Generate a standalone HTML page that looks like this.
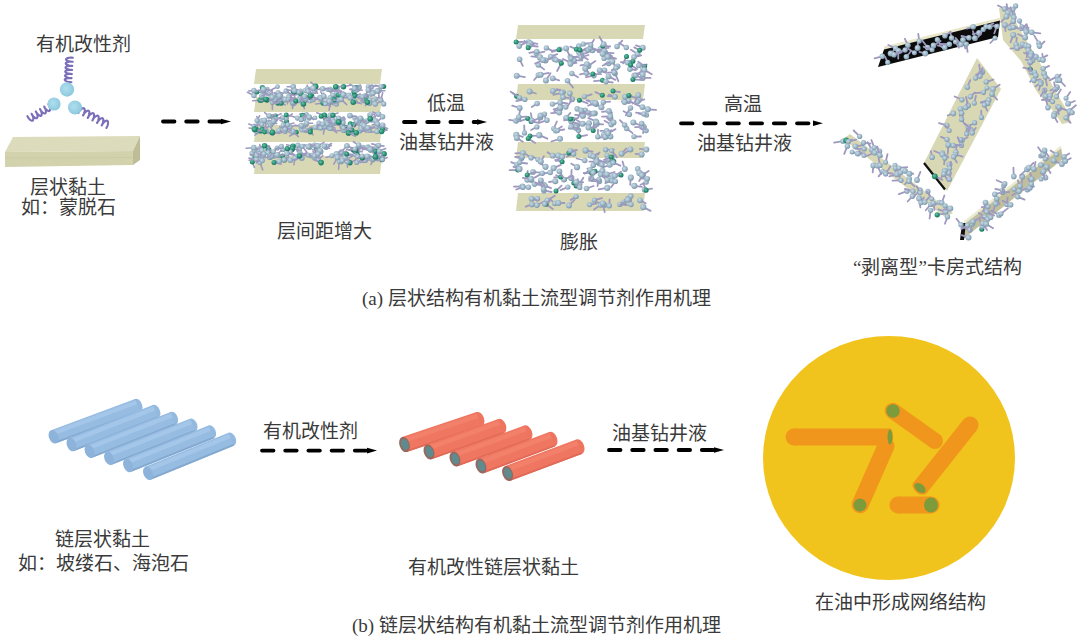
<!DOCTYPE html>
<html lang="zh-CN"><head><meta charset="utf-8"><title>有机黏土流型调节剂作用机理</title>
<style>html,body{margin:0;padding:0;background:#fff;}body{width:1080px;height:640px;overflow:hidden;font-family:"Liberation Serif",serif;}svg{display:block}</style>
</head><body><svg width="1080" height="640" viewBox="0 0 1080 640" font-family="Liberation Serif, serif"><defs>
<radialGradient id="gb" cx="0.4" cy="0.38" r="0.62"><stop offset="0" stop-color="#c8dde7"/><stop offset="0.6" stop-color="#9cb6c7"/><stop offset="1" stop-color="#7d95a9"/></radialGradient>
<radialGradient id="gt" cx="0.4" cy="0.38" r="0.62"><stop offset="0" stop-color="#6cc2a6"/><stop offset="0.6" stop-color="#279174"/><stop offset="1" stop-color="#1b705b"/></radialGradient>
<radialGradient id="gB" cx="0.42" cy="0.42" r="0.6"><stop offset="0" stop-color="#b0dfee"/><stop offset="1" stop-color="#8cc8de"/></radialGradient>
<linearGradient id="gBlue" x1="0" y1="-1" x2="0" y2="1" gradientUnits="objectBoundingBox"><stop offset="0" stop-color="#a9c9e8"/><stop offset="1" stop-color="#95b8dc"/></linearGradient>
</defs>
<path d="M71.4,82.2 L71.1,82.2 L70.4,82.1 L69.3,82.1 L68.0,81.8 L66.7,81.4 L65.7,80.9 L65.0,80.3 L64.7,79.8 L65.0,79.2 L65.8,78.7 L66.9,78.4 L68.2,78.1 L69.5,78.0 L70.7,78.0 L71.4,78.1 L71.6,78.1 L71.4,78.2 L70.6,78.1 L69.5,78.0 L68.3,77.7 L67.0,77.3 L65.9,76.8 L65.2,76.2 L65.0,75.7 L65.3,75.1 L66.0,74.6 L67.2,74.3 L68.5,74.0 L69.8,73.9 L70.9,73.9 L71.6,74.0 L71.9,74.0 L71.6,74.1 L70.9,74.0 L69.8,73.9 L68.5,73.6 L67.2,73.2 L66.2,72.7 L65.5,72.2 L65.2,71.6 L65.5,71.0 L66.3,70.6 L67.4,70.2 L68.7,70.0 L70.0,69.8 L71.2,69.8 L71.9,69.9 L72.1,70.0 L71.9,70.0 L71.1,70.0 L70.0,69.8 L68.8,69.5 L67.5,69.1 L66.4,68.6 L65.7,68.1 L65.5,67.5 L65.8,67.0 L66.5,66.5 L67.7,66.1 L69.0,65.9 L70.3,65.8 L71.4,65.7 L72.1,65.8 L72.4,65.9 L72.1,65.9 L71.4,65.9 L70.3,65.7 L69.0,65.5 L67.7,65.1 L66.7,64.6 L66.0,64.0 L65.7,63.4 L66.0,62.9 L66.8,62.4 L67.9,62.0 L69.2,61.8 L70.5,61.7 L71.7,61.7 L72.4,61.7 L72.6,61.8 L72.4,61.8 L71.6,61.8 L70.5,61.6 L69.3,61.4 L68.0,61.0 L66.9,60.5 L66.2,59.9 L66.0,59.3 L66.3,58.8 L67.0,58.3 L68.2,57.9 L69.5,57.7 L70.8,57.6 L71.9,57.6 L72.6,57.7 L72.9,57.7" fill="none" stroke="#7a6fb8" stroke-width="2.1" stroke-linejoin="round" stroke-linecap="round"/>
<path d="M48.4,104.2 L48.5,104.4 L48.9,105.0 L49.4,105.9 L49.8,107.1 L50.1,108.4 L50.1,109.5 L49.9,110.4 L49.5,111.0 L48.8,111.1 L47.9,110.8 L46.9,110.2 L46.0,109.3 L45.2,108.3 L44.6,107.5 L44.3,106.9 L44.2,106.6 L44.4,106.8 L44.7,107.4 L45.2,108.3 L45.6,109.5 L45.9,110.8 L45.9,111.9 L45.7,112.8 L45.3,113.4 L44.6,113.5 L43.7,113.2 L42.7,112.6 L41.8,111.7 L41.0,110.7 L40.4,109.9 L40.1,109.3 L40.0,109.0 L40.2,109.2 L40.5,109.8 L41.0,110.7 L41.4,111.9 L41.7,113.2 L41.7,114.3 L41.5,115.2 L41.1,115.8 L40.4,115.9 L39.5,115.6 L38.5,115.0 L37.6,114.1 L36.8,113.1 L36.2,112.3 L35.9,111.7 L35.8,111.4 L36.0,111.6 L36.3,112.2 L36.8,113.1 L37.2,114.3 L37.5,115.6 L37.5,116.7 L37.3,117.6 L36.9,118.2 L36.2,118.3 L35.3,118.0 L34.3,117.4 L33.4,116.5 L32.6,115.5 L32.0,114.7 L31.7,114.1 L31.6,113.8 L31.8,114.0 L32.1,114.6 L32.6,115.5 L33.0,116.7 L33.3,118.0 L33.3,119.1 L33.1,120.0 L32.7,120.6 L32.0,120.7 L31.1,120.4 L30.1,119.8 L29.2,118.9 L28.4,117.9 L27.9,117.0 L27.5,116.4 L27.4,116.2" fill="none" stroke="#7a6fb8" stroke-width="2.1" stroke-linejoin="round" stroke-linecap="round"/>
<path d="M78.4,113.0 L78.5,112.8 L78.9,112.1 L79.4,111.2 L80.2,110.1 L81.2,109.2 L82.2,108.5 L83.2,108.1 L83.9,108.3 L84.5,108.8 L84.7,109.8 L84.7,111.0 L84.4,112.4 L84.0,113.6 L83.6,114.7 L83.2,115.3 L83.1,115.5 L83.1,115.2 L83.5,114.6 L84.1,113.7 L84.9,112.6 L85.9,111.7 L86.9,111.0 L87.8,110.6 L88.6,110.8 L89.1,111.3 L89.4,112.3 L89.3,113.5 L89.1,114.9 L88.7,116.1 L88.3,117.2 L87.9,117.8 L87.7,118.0 L87.8,117.7 L88.1,117.1 L88.7,116.2 L89.6,115.1 L90.5,114.2 L91.6,113.5 L92.5,113.1 L93.3,113.3 L93.8,113.8 L94.0,114.8 L94.0,116.0 L93.8,117.4 L93.4,118.6 L92.9,119.7 L92.6,120.3 L92.4,120.5 L92.5,120.2 L92.8,119.6 L93.4,118.7 L94.2,117.6 L95.2,116.7 L96.2,116.0 L97.2,115.6 L97.9,115.8 L98.5,116.3 L98.7,117.3 L98.7,118.5 L98.4,119.9 L98.0,121.1 L97.6,122.2 L97.2,122.8 L97.1,123.0 L97.1,122.7 L97.5,122.1 L98.1,121.2 L98.9,120.1 L99.9,119.2 L100.9,118.5 L101.8,118.1 L102.6,118.3 L103.1,118.8 L103.4,119.8 L103.3,121.0 L103.1,122.4 L102.7,123.6 L102.3,124.7 L101.9,125.3 L101.7,125.5 L101.8,125.2 L102.1,124.6 L102.7,123.7 L103.6,122.6 L104.5,121.7 L105.6,121.0 L106.5,120.6 L107.3,120.8 L107.8,121.3 L108.0,122.3 L108.0,123.5 L107.8,124.9 L107.4,126.1 L106.9,127.1 L106.5,127.8 L106.4,128.0" fill="none" stroke="#7a6fb8" stroke-width="2.1" stroke-linejoin="round" stroke-linecap="round"/>
<circle cx="67" cy="89.5" r="7.2" fill="url(#gB)"/>
<circle cx="54" cy="104" r="6.6" fill="url(#gB)"/>
<circle cx="75" cy="107.5" r="7.0" fill="url(#gB)"/>
<polygon points="13,137 140,136 133,151 5,152" fill="#dcdcbc"/>
<polygon points="5,152 133,151 133,165 5,167" fill="#d2d2ad"/>
<polygon points="133,151 140,136 140,160 133,165" fill="#bdbd98"/>
<line x1="5" y1="158" x2="133" y2="157.5" stroke="#c9c9a4" stroke-width="0.8"/>
<line x1="163" y1="121.5" x2="221" y2="121.5" stroke="#000" stroke-width="3.8" stroke-linecap="round" stroke-dasharray="11.5 11.7"/>
<polygon points="221,118.7 231,121.5 221,124.3" fill="#000"/>
<line x1="404" y1="122" x2="477" y2="122" stroke="#000" stroke-width="3.8" stroke-linecap="round" stroke-dasharray="11.5 11.7"/>
<polygon points="477,119.2 487,122 477,124.8" fill="#000"/>
<line x1="681" y1="123.3" x2="813" y2="123.3" stroke="#000" stroke-width="3.8" stroke-linecap="round" stroke-dasharray="11.5 11.7"/>
<polygon points="813,120.5 823,123.3 813,126.1" fill="#000"/>
<line x1="262" y1="450.6" x2="367" y2="450.6" stroke="#000" stroke-width="3.8" stroke-linecap="round" stroke-dasharray="11.5 11.7"/>
<polygon points="367,447.8 377,450.6 367,453.40000000000003" fill="#000"/>
<line x1="609" y1="450" x2="714" y2="450" stroke="#000" stroke-width="3.8" stroke-linecap="round" stroke-dasharray="11.5 11.7"/>
<polygon points="714,447.2 724,450 714,452.8" fill="#000"/>
<polygon points="256,69 382,69 380,84 254,84" fill="#d8d8b4"/>
<polygon points="256,97 382,97 380,112 254,112" fill="#d8d8b4"/>
<polygon points="256,125 382,125 380,142 254,142" fill="#d8d8b4"/>
<polygon points="256,156 382,156 380,174 254,174" fill="#d8d8b4"/>
<line x1="311.7" y1="96.1" x2="305.1" y2="97.5" stroke="#9f99c0" stroke-width="1.6" stroke-linecap="round"/>
<circle cx="311.7" cy="96.1" r="2.7" fill="url(#gt)"/>
<line x1="319.6" y1="97.3" x2="323.9" y2="100.3" stroke="#9f99c0" stroke-width="1.6" stroke-linecap="round"/>
<circle cx="319.6" cy="97.3" r="2.6" fill="url(#gb)"/>
<line x1="343.5" y1="86.8" x2="350.2" y2="85.3" stroke="#9f99c0" stroke-width="1.6" stroke-linecap="round"/>
<circle cx="343.5" cy="86.8" r="2.7" fill="url(#gt)"/>
<line x1="254.0" y1="95.5" x2="247.4" y2="92.3" stroke="#9f99c0" stroke-width="1.6" stroke-linecap="round"/>
<circle cx="254.0" cy="95.5" r="2.7" fill="url(#gb)"/>
<line x1="330.0" y1="89.5" x2="336.4" y2="89.5" stroke="#9f99c0" stroke-width="1.6" stroke-linecap="round"/>
<circle cx="330.0" cy="89.5" r="2.7" fill="url(#gb)"/>
<line x1="383.7" y1="103.9" x2="382.2" y2="98.4" stroke="#9f99c0" stroke-width="1.6" stroke-linecap="round"/>
<circle cx="383.7" cy="103.9" r="2.6" fill="url(#gb)"/>
<line x1="261.3" y1="99.8" x2="268.7" y2="98.8" stroke="#9f99c0" stroke-width="1.6" stroke-linecap="round"/>
<circle cx="261.3" cy="99.8" r="2.9" fill="url(#gt)"/>
<line x1="279.7" y1="102.4" x2="285.3" y2="101.8" stroke="#9f99c0" stroke-width="1.6" stroke-linecap="round"/>
<circle cx="279.7" cy="102.4" r="2.7" fill="url(#gb)"/>
<line x1="296.5" y1="91.6" x2="301.9" y2="93.4" stroke="#9f99c0" stroke-width="1.6" stroke-linecap="round"/>
<circle cx="296.5" cy="91.6" r="2.5" fill="url(#gt)"/>
<line x1="259.9" y1="100.3" x2="252.7" y2="100.8" stroke="#9f99c0" stroke-width="1.6" stroke-linecap="round"/>
<circle cx="259.9" cy="100.3" r="2.5" fill="url(#gt)"/>
<line x1="337.0" y1="88.1" x2="330.4" y2="92.6" stroke="#9f99c0" stroke-width="1.6" stroke-linecap="round"/>
<circle cx="337.0" cy="88.1" r="2.8" fill="url(#gb)"/>
<line x1="383.7" y1="86.4" x2="378.3" y2="89.7" stroke="#9f99c0" stroke-width="1.6" stroke-linecap="round"/>
<circle cx="383.7" cy="86.4" r="2.5" fill="url(#gt)"/>
<line x1="332.6" y1="100.9" x2="327.5" y2="103.7" stroke="#9f99c0" stroke-width="1.6" stroke-linecap="round"/>
<circle cx="332.6" cy="100.9" r="2.7" fill="url(#gb)"/>
<line x1="301.1" y1="94.2" x2="293.5" y2="94.9" stroke="#9f99c0" stroke-width="1.6" stroke-linecap="round"/>
<circle cx="301.1" cy="94.2" r="2.7" fill="url(#gt)"/>
<line x1="272.3" y1="102.4" x2="272.4" y2="109.6" stroke="#9f99c0" stroke-width="1.6" stroke-linecap="round"/>
<circle cx="272.3" cy="102.4" r="2.5" fill="url(#gb)"/>
<line x1="277.9" y1="103.1" x2="273.7" y2="99.9" stroke="#9f99c0" stroke-width="1.6" stroke-linecap="round"/>
<circle cx="277.9" cy="103.1" r="2.6" fill="url(#gt)"/>
<line x1="379.1" y1="90.3" x2="378.8" y2="97.1" stroke="#9f99c0" stroke-width="1.6" stroke-linecap="round"/>
<circle cx="379.1" cy="90.3" r="2.8" fill="url(#gb)"/>
<line x1="275.2" y1="99.0" x2="268.3" y2="99.1" stroke="#9f99c0" stroke-width="1.6" stroke-linecap="round"/>
<circle cx="275.2" cy="99.0" r="2.7" fill="url(#gt)"/>
<line x1="280.0" y1="102.5" x2="285.2" y2="104.9" stroke="#9f99c0" stroke-width="1.6" stroke-linecap="round"/>
<circle cx="280.0" cy="102.5" r="2.6" fill="url(#gt)"/>
<line x1="289.2" y1="95.6" x2="294.5" y2="99.0" stroke="#9f99c0" stroke-width="1.6" stroke-linecap="round"/>
<circle cx="289.2" cy="95.6" r="2.5" fill="url(#gb)"/>
<line x1="348.7" y1="95.4" x2="343.3" y2="92.0" stroke="#9f99c0" stroke-width="1.6" stroke-linecap="round"/>
<circle cx="348.7" cy="95.4" r="2.9" fill="url(#gb)"/>
<line x1="293.2" y1="86.6" x2="287.2" y2="86.7" stroke="#9f99c0" stroke-width="1.6" stroke-linecap="round"/>
<circle cx="293.2" cy="86.6" r="2.8" fill="url(#gb)"/>
<line x1="261.9" y1="95.8" x2="267.7" y2="91.7" stroke="#9f99c0" stroke-width="1.6" stroke-linecap="round"/>
<circle cx="261.9" cy="95.8" r="2.8" fill="url(#gb)"/>
<line x1="372.8" y1="92.3" x2="377.9" y2="88.7" stroke="#9f99c0" stroke-width="1.6" stroke-linecap="round"/>
<circle cx="372.8" cy="92.3" r="2.8" fill="url(#gb)"/>
<line x1="366.0" y1="96.3" x2="360.9" y2="100.9" stroke="#9f99c0" stroke-width="1.6" stroke-linecap="round"/>
<circle cx="366.0" cy="96.3" r="2.7" fill="url(#gt)"/>
<line x1="336.4" y1="103.9" x2="335.4" y2="96.7" stroke="#9f99c0" stroke-width="1.6" stroke-linecap="round"/>
<circle cx="336.4" cy="103.9" r="2.6" fill="url(#gb)"/>
<line x1="310.1" y1="101.1" x2="305.2" y2="102.2" stroke="#9f99c0" stroke-width="1.6" stroke-linecap="round"/>
<circle cx="310.1" cy="101.1" r="2.4" fill="url(#gb)"/>
<line x1="266.9" y1="100.0" x2="260.8" y2="100.6" stroke="#9f99c0" stroke-width="1.6" stroke-linecap="round"/>
<circle cx="266.9" cy="100.0" r="2.8" fill="url(#gt)"/>
<line x1="332.8" y1="95.3" x2="329.2" y2="100.8" stroke="#9f99c0" stroke-width="1.6" stroke-linecap="round"/>
<circle cx="332.8" cy="95.3" r="2.9" fill="url(#gb)"/>
<line x1="305.4" y1="90.5" x2="307.3" y2="85.2" stroke="#9f99c0" stroke-width="1.6" stroke-linecap="round"/>
<circle cx="305.4" cy="90.5" r="2.8" fill="url(#gb)"/>
<line x1="281.0" y1="102.6" x2="273.4" y2="102.6" stroke="#9f99c0" stroke-width="1.6" stroke-linecap="round"/>
<circle cx="281.0" cy="102.6" r="2.8" fill="url(#gb)"/>
<line x1="377.4" y1="91.0" x2="384.9" y2="90.7" stroke="#9f99c0" stroke-width="1.6" stroke-linecap="round"/>
<circle cx="377.4" cy="91.0" r="2.9" fill="url(#gb)"/>
<line x1="320.6" y1="98.1" x2="323.9" y2="93.1" stroke="#9f99c0" stroke-width="1.6" stroke-linecap="round"/>
<circle cx="320.6" cy="98.1" r="2.7" fill="url(#gb)"/>
<line x1="288.7" y1="96.9" x2="287.4" y2="103.8" stroke="#9f99c0" stroke-width="1.6" stroke-linecap="round"/>
<circle cx="288.7" cy="96.9" r="2.6" fill="url(#gb)"/>
<line x1="336.6" y1="93.3" x2="341.5" y2="91.7" stroke="#9f99c0" stroke-width="1.6" stroke-linecap="round"/>
<circle cx="336.6" cy="93.3" r="2.5" fill="url(#gb)"/>
<line x1="310.9" y1="97.3" x2="313.4" y2="90.7" stroke="#9f99c0" stroke-width="1.6" stroke-linecap="round"/>
<circle cx="310.9" cy="97.3" r="2.9" fill="url(#gt)"/>
<line x1="314.7" y1="89.2" x2="320.4" y2="89.5" stroke="#9f99c0" stroke-width="1.6" stroke-linecap="round"/>
<circle cx="314.7" cy="89.2" r="2.4" fill="url(#gb)"/>
<line x1="323.2" y1="103.0" x2="315.6" y2="104.0" stroke="#9f99c0" stroke-width="1.6" stroke-linecap="round"/>
<circle cx="323.2" cy="103.0" r="2.8" fill="url(#gt)"/>
<line x1="375.1" y1="99.0" x2="379.8" y2="97.2" stroke="#9f99c0" stroke-width="1.6" stroke-linecap="round"/>
<circle cx="375.1" cy="99.0" r="2.8" fill="url(#gb)"/>
<line x1="338.2" y1="95.0" x2="333.8" y2="101.7" stroke="#9f99c0" stroke-width="1.6" stroke-linecap="round"/>
<circle cx="338.2" cy="95.0" r="2.6" fill="url(#gt)"/>
<line x1="366.3" y1="100.4" x2="370.7" y2="104.7" stroke="#9f99c0" stroke-width="1.6" stroke-linecap="round"/>
<circle cx="366.3" cy="100.4" r="2.5" fill="url(#gt)"/>
<line x1="292.9" y1="103.6" x2="292.5" y2="108.6" stroke="#9f99c0" stroke-width="1.6" stroke-linecap="round"/>
<circle cx="292.9" cy="103.6" r="2.8" fill="url(#gb)"/>
<line x1="256.9" y1="92.2" x2="264.3" y2="92.0" stroke="#9f99c0" stroke-width="1.6" stroke-linecap="round"/>
<circle cx="256.9" cy="92.2" r="2.4" fill="url(#gt)"/>
<line x1="357.6" y1="89.1" x2="349.9" y2="89.4" stroke="#9f99c0" stroke-width="1.6" stroke-linecap="round"/>
<circle cx="357.6" cy="89.1" r="2.9" fill="url(#gb)"/>
<line x1="341.5" y1="93.9" x2="335.1" y2="90.5" stroke="#9f99c0" stroke-width="1.6" stroke-linecap="round"/>
<circle cx="341.5" cy="93.9" r="2.7" fill="url(#gb)"/>
<line x1="325.8" y1="101.0" x2="319.1" y2="100.8" stroke="#9f99c0" stroke-width="1.6" stroke-linecap="round"/>
<circle cx="325.8" cy="101.0" r="2.8" fill="url(#gb)"/>
<line x1="302.3" y1="101.2" x2="304.4" y2="108.8" stroke="#9f99c0" stroke-width="1.6" stroke-linecap="round"/>
<circle cx="302.3" cy="101.2" r="2.8" fill="url(#gb)"/>
<line x1="327.6" y1="89.6" x2="319.8" y2="88.6" stroke="#9f99c0" stroke-width="1.6" stroke-linecap="round"/>
<circle cx="327.6" cy="89.6" r="2.4" fill="url(#gb)"/>
<line x1="304.9" y1="100.4" x2="311.8" y2="96.8" stroke="#9f99c0" stroke-width="1.6" stroke-linecap="round"/>
<circle cx="304.9" cy="100.4" r="2.5" fill="url(#gb)"/>
<line x1="373.5" y1="100.4" x2="367.2" y2="100.6" stroke="#9f99c0" stroke-width="1.6" stroke-linecap="round"/>
<circle cx="373.5" cy="100.4" r="2.5" fill="url(#gb)"/>
<line x1="370.9" y1="94.6" x2="365.1" y2="95.1" stroke="#9f99c0" stroke-width="1.6" stroke-linecap="round"/>
<circle cx="370.9" cy="94.6" r="2.4" fill="url(#gb)"/>
<line x1="381.0" y1="86.6" x2="375.1" y2="85.3" stroke="#9f99c0" stroke-width="1.6" stroke-linecap="round"/>
<circle cx="381.0" cy="86.6" r="2.6" fill="url(#gb)"/>
<line x1="265.8" y1="99.2" x2="273.2" y2="101.1" stroke="#9f99c0" stroke-width="1.6" stroke-linecap="round"/>
<circle cx="265.8" cy="99.2" r="2.8" fill="url(#gt)"/>
<line x1="335.6" y1="100.9" x2="329.1" y2="99.3" stroke="#9f99c0" stroke-width="1.6" stroke-linecap="round"/>
<circle cx="335.6" cy="100.9" r="2.8" fill="url(#gb)"/>
<line x1="280.5" y1="95.8" x2="273.5" y2="98.1" stroke="#9f99c0" stroke-width="1.6" stroke-linecap="round"/>
<circle cx="280.5" cy="95.8" r="2.8" fill="url(#gb)"/>
<line x1="293.7" y1="91.7" x2="295.2" y2="99.2" stroke="#9f99c0" stroke-width="1.6" stroke-linecap="round"/>
<circle cx="293.7" cy="91.7" r="2.9" fill="url(#gt)"/>
<line x1="283.6" y1="99.1" x2="277.0" y2="99.6" stroke="#9f99c0" stroke-width="1.6" stroke-linecap="round"/>
<circle cx="283.6" cy="99.1" r="2.9" fill="url(#gb)"/>
<line x1="278.5" y1="97.3" x2="283.5" y2="100.8" stroke="#9f99c0" stroke-width="1.6" stroke-linecap="round"/>
<circle cx="278.5" cy="97.3" r="2.7" fill="url(#gb)"/>
<line x1="299.7" y1="98.7" x2="295.5" y2="104.9" stroke="#9f99c0" stroke-width="1.6" stroke-linecap="round"/>
<circle cx="299.7" cy="98.7" r="2.9" fill="url(#gb)"/>
<line x1="315.6" y1="86.4" x2="310.8" y2="82.2" stroke="#9f99c0" stroke-width="1.6" stroke-linecap="round"/>
<circle cx="315.6" cy="86.4" r="2.9" fill="url(#gt)"/>
<line x1="267.2" y1="89.1" x2="271.7" y2="91.6" stroke="#9f99c0" stroke-width="1.6" stroke-linecap="round"/>
<circle cx="267.2" cy="89.1" r="2.4" fill="url(#gb)"/>
<line x1="313.0" y1="99.8" x2="318.6" y2="99.3" stroke="#9f99c0" stroke-width="1.6" stroke-linecap="round"/>
<circle cx="313.0" cy="99.8" r="2.6" fill="url(#gb)"/>
<line x1="335.7" y1="86.7" x2="341.9" y2="86.4" stroke="#9f99c0" stroke-width="1.6" stroke-linecap="round"/>
<circle cx="335.7" cy="86.7" r="2.8" fill="url(#gt)"/>
<line x1="273.8" y1="95.2" x2="266.7" y2="92.5" stroke="#9f99c0" stroke-width="1.6" stroke-linecap="round"/>
<circle cx="273.8" cy="95.2" r="2.8" fill="url(#gb)"/>
<line x1="305.4" y1="96.8" x2="312.6" y2="99.6" stroke="#9f99c0" stroke-width="1.6" stroke-linecap="round"/>
<circle cx="305.4" cy="96.8" r="2.5" fill="url(#gb)"/>
<line x1="354.7" y1="100.7" x2="361.3" y2="103.9" stroke="#9f99c0" stroke-width="1.6" stroke-linecap="round"/>
<circle cx="354.7" cy="100.7" r="2.7" fill="url(#gb)"/>
<line x1="305.6" y1="99.0" x2="313.0" y2="97.2" stroke="#9f99c0" stroke-width="1.6" stroke-linecap="round"/>
<circle cx="305.6" cy="99.0" r="2.5" fill="url(#gb)"/>
<line x1="371.2" y1="86.9" x2="377.7" y2="85.6" stroke="#9f99c0" stroke-width="1.6" stroke-linecap="round"/>
<circle cx="371.2" cy="86.9" r="2.7" fill="url(#gb)"/>
<line x1="303.4" y1="104.0" x2="301.0" y2="96.4" stroke="#9f99c0" stroke-width="1.6" stroke-linecap="round"/>
<circle cx="303.4" cy="104.0" r="2.8" fill="url(#gt)"/>
<line x1="333.2" y1="99.3" x2="340.2" y2="99.3" stroke="#9f99c0" stroke-width="1.6" stroke-linecap="round"/>
<circle cx="333.2" cy="99.3" r="2.8" fill="url(#gt)"/>
<line x1="286.1" y1="91.0" x2="292.9" y2="95.2" stroke="#9f99c0" stroke-width="1.6" stroke-linecap="round"/>
<circle cx="286.1" cy="91.0" r="2.7" fill="url(#gb)"/>
<line x1="358.9" y1="87.4" x2="352.8" y2="88.2" stroke="#9f99c0" stroke-width="1.6" stroke-linecap="round"/>
<circle cx="358.9" cy="87.4" r="2.9" fill="url(#gb)"/>
<line x1="364.9" y1="95.8" x2="370.6" y2="99.1" stroke="#9f99c0" stroke-width="1.6" stroke-linecap="round"/>
<circle cx="364.9" cy="95.8" r="2.6" fill="url(#gb)"/>
<line x1="300.3" y1="91.1" x2="293.6" y2="88.5" stroke="#9f99c0" stroke-width="1.6" stroke-linecap="round"/>
<circle cx="300.3" cy="91.1" r="2.5" fill="url(#gb)"/>
<line x1="253.8" y1="90.4" x2="248.7" y2="91.0" stroke="#9f99c0" stroke-width="1.6" stroke-linecap="round"/>
<circle cx="253.8" cy="90.4" r="2.7" fill="url(#gb)"/>
<line x1="304.5" y1="96.5" x2="302.1" y2="101.6" stroke="#9f99c0" stroke-width="1.6" stroke-linecap="round"/>
<circle cx="304.5" cy="96.5" r="2.8" fill="url(#gb)"/>
<line x1="285.1" y1="99.6" x2="279.6" y2="96.4" stroke="#9f99c0" stroke-width="1.6" stroke-linecap="round"/>
<circle cx="285.1" cy="99.6" r="2.8" fill="url(#gb)"/>
<line x1="359.8" y1="96.9" x2="365.0" y2="96.6" stroke="#9f99c0" stroke-width="1.6" stroke-linecap="round"/>
<circle cx="359.8" cy="96.9" r="2.5" fill="url(#gb)"/>
<line x1="268.4" y1="94.0" x2="261.9" y2="95.8" stroke="#9f99c0" stroke-width="1.6" stroke-linecap="round"/>
<circle cx="268.4" cy="94.0" r="2.5" fill="url(#gb)"/>
<line x1="354.7" y1="95.6" x2="360.2" y2="93.9" stroke="#9f99c0" stroke-width="1.6" stroke-linecap="round"/>
<circle cx="354.7" cy="95.6" r="2.8" fill="url(#gt)"/>
<line x1="369.8" y1="100.1" x2="365.4" y2="105.6" stroke="#9f99c0" stroke-width="1.6" stroke-linecap="round"/>
<circle cx="369.8" cy="100.1" r="2.5" fill="url(#gb)"/>
<line x1="330.1" y1="97.4" x2="333.0" y2="104.8" stroke="#9f99c0" stroke-width="1.6" stroke-linecap="round"/>
<circle cx="330.1" cy="97.4" r="2.5" fill="url(#gb)"/>
<line x1="368.0" y1="86.7" x2="372.9" y2="85.3" stroke="#9f99c0" stroke-width="1.6" stroke-linecap="round"/>
<circle cx="368.0" cy="86.7" r="2.4" fill="url(#gb)"/>
<line x1="288.7" y1="99.6" x2="293.0" y2="106.3" stroke="#9f99c0" stroke-width="1.6" stroke-linecap="round"/>
<circle cx="288.7" cy="99.6" r="2.5" fill="url(#gb)"/>
<line x1="298.7" y1="92.1" x2="293.8" y2="90.0" stroke="#9f99c0" stroke-width="1.6" stroke-linecap="round"/>
<circle cx="298.7" cy="92.1" r="2.4" fill="url(#gb)"/>
<line x1="334.3" y1="99.8" x2="339.5" y2="101.4" stroke="#9f99c0" stroke-width="1.6" stroke-linecap="round"/>
<circle cx="334.3" cy="99.8" r="2.6" fill="url(#gt)"/>
<line x1="362.4" y1="96.7" x2="357.1" y2="97.2" stroke="#9f99c0" stroke-width="1.6" stroke-linecap="round"/>
<circle cx="362.4" cy="96.7" r="2.6" fill="url(#gb)"/>
<line x1="262.4" y1="87.5" x2="269.3" y2="90.3" stroke="#9f99c0" stroke-width="1.6" stroke-linecap="round"/>
<circle cx="262.4" cy="87.5" r="2.6" fill="url(#gt)"/>
<line x1="292.9" y1="102.4" x2="290.5" y2="95.5" stroke="#9f99c0" stroke-width="1.6" stroke-linecap="round"/>
<circle cx="292.9" cy="102.4" r="2.6" fill="url(#gb)"/>
<line x1="368.4" y1="89.9" x2="365.6" y2="95.2" stroke="#9f99c0" stroke-width="1.6" stroke-linecap="round"/>
<circle cx="368.4" cy="89.9" r="2.9" fill="url(#gb)"/>
<line x1="330.5" y1="102.2" x2="329.1" y2="110.1" stroke="#9f99c0" stroke-width="1.6" stroke-linecap="round"/>
<circle cx="330.5" cy="102.2" r="2.7" fill="url(#gb)"/>
<line x1="281.2" y1="103.4" x2="273.8" y2="102.7" stroke="#9f99c0" stroke-width="1.6" stroke-linecap="round"/>
<circle cx="281.2" cy="103.4" r="2.4" fill="url(#gt)"/>
<line x1="341.4" y1="96.5" x2="340.9" y2="90.4" stroke="#9f99c0" stroke-width="1.6" stroke-linecap="round"/>
<circle cx="341.4" cy="96.5" r="2.6" fill="url(#gt)"/>
<line x1="330.0" y1="89.2" x2="334.6" y2="91.4" stroke="#9f99c0" stroke-width="1.6" stroke-linecap="round"/>
<circle cx="330.0" cy="89.2" r="2.5" fill="url(#gb)"/>
<line x1="323.8" y1="96.2" x2="320.8" y2="92.0" stroke="#9f99c0" stroke-width="1.6" stroke-linecap="round"/>
<circle cx="323.8" cy="96.2" r="2.8" fill="url(#gb)"/>
<line x1="356.0" y1="87.5" x2="349.9" y2="84.3" stroke="#9f99c0" stroke-width="1.6" stroke-linecap="round"/>
<circle cx="356.0" cy="87.5" r="2.4" fill="url(#gt)"/>
<line x1="350.4" y1="97.7" x2="344.4" y2="97.8" stroke="#9f99c0" stroke-width="1.6" stroke-linecap="round"/>
<circle cx="350.4" cy="97.7" r="2.9" fill="url(#gb)"/>
<line x1="298.3" y1="100.5" x2="291.1" y2="100.6" stroke="#9f99c0" stroke-width="1.6" stroke-linecap="round"/>
<circle cx="298.3" cy="100.5" r="2.7" fill="url(#gb)"/>
<line x1="372.8" y1="93.4" x2="369.1" y2="87.0" stroke="#9f99c0" stroke-width="1.6" stroke-linecap="round"/>
<circle cx="372.8" cy="93.4" r="2.8" fill="url(#gb)"/>
<line x1="369.3" y1="103.2" x2="362.0" y2="102.1" stroke="#9f99c0" stroke-width="1.6" stroke-linecap="round"/>
<circle cx="369.3" cy="103.2" r="2.8" fill="url(#gb)"/>
<line x1="307.5" y1="88.6" x2="313.0" y2="88.3" stroke="#9f99c0" stroke-width="1.6" stroke-linecap="round"/>
<circle cx="307.5" cy="88.6" r="2.6" fill="url(#gb)"/>
<line x1="308.1" y1="91.3" x2="313.1" y2="93.2" stroke="#9f99c0" stroke-width="1.6" stroke-linecap="round"/>
<circle cx="308.1" cy="91.3" r="2.6" fill="url(#gb)"/>
<line x1="354.4" y1="89.2" x2="360.6" y2="85.2" stroke="#9f99c0" stroke-width="1.6" stroke-linecap="round"/>
<circle cx="354.4" cy="89.2" r="2.6" fill="url(#gb)"/>
<line x1="278.1" y1="92.5" x2="283.6" y2="93.1" stroke="#9f99c0" stroke-width="1.6" stroke-linecap="round"/>
<circle cx="278.1" cy="92.5" r="2.5" fill="url(#gb)"/>
<line x1="274.8" y1="99.6" x2="280.4" y2="102.2" stroke="#9f99c0" stroke-width="1.6" stroke-linecap="round"/>
<circle cx="274.8" cy="99.6" r="2.6" fill="url(#gb)"/>
<line x1="339.2" y1="99.9" x2="333.8" y2="100.5" stroke="#9f99c0" stroke-width="1.6" stroke-linecap="round"/>
<circle cx="339.2" cy="99.9" r="2.5" fill="url(#gb)"/>
<line x1="380.8" y1="100.3" x2="382.7" y2="92.7" stroke="#9f99c0" stroke-width="1.6" stroke-linecap="round"/>
<circle cx="380.8" cy="100.3" r="2.4" fill="url(#gb)"/>
<line x1="367.4" y1="102.3" x2="362.1" y2="100.9" stroke="#9f99c0" stroke-width="1.6" stroke-linecap="round"/>
<circle cx="367.4" cy="102.3" r="2.7" fill="url(#gt)"/>
<line x1="294.5" y1="90.7" x2="286.5" y2="89.9" stroke="#9f99c0" stroke-width="1.6" stroke-linecap="round"/>
<circle cx="294.5" cy="90.7" r="2.7" fill="url(#gb)"/>
<line x1="322.6" y1="88.7" x2="330.1" y2="88.8" stroke="#9f99c0" stroke-width="1.6" stroke-linecap="round"/>
<circle cx="322.6" cy="88.7" r="2.8" fill="url(#gb)"/>
<line x1="262.9" y1="90.9" x2="268.1" y2="94.5" stroke="#9f99c0" stroke-width="1.6" stroke-linecap="round"/>
<circle cx="262.9" cy="90.9" r="2.6" fill="url(#gb)"/>
<line x1="329.4" y1="101.4" x2="324.2" y2="102.0" stroke="#9f99c0" stroke-width="1.6" stroke-linecap="round"/>
<circle cx="329.4" cy="101.4" r="2.9" fill="url(#gb)"/>
<line x1="279.5" y1="95.8" x2="274.4" y2="92.7" stroke="#9f99c0" stroke-width="1.6" stroke-linecap="round"/>
<circle cx="279.5" cy="95.8" r="2.9" fill="url(#gb)"/>
<line x1="325.4" y1="104.0" x2="330.4" y2="106.2" stroke="#9f99c0" stroke-width="1.6" stroke-linecap="round"/>
<circle cx="325.4" cy="104.0" r="2.4" fill="url(#gb)"/>
<line x1="341.2" y1="99.4" x2="346.7" y2="104.7" stroke="#9f99c0" stroke-width="1.6" stroke-linecap="round"/>
<circle cx="341.2" cy="99.4" r="2.6" fill="url(#gb)"/>
<line x1="314.7" y1="91.3" x2="308.2" y2="88.3" stroke="#9f99c0" stroke-width="1.6" stroke-linecap="round"/>
<circle cx="314.7" cy="91.3" r="2.8" fill="url(#gb)"/>
<line x1="272.1" y1="97.3" x2="272.1" y2="90.0" stroke="#9f99c0" stroke-width="1.6" stroke-linecap="round"/>
<circle cx="272.1" cy="97.3" r="2.9" fill="url(#gb)"/>
<line x1="263.5" y1="89.4" x2="256.9" y2="90.8" stroke="#9f99c0" stroke-width="1.6" stroke-linecap="round"/>
<circle cx="263.5" cy="89.4" r="2.9" fill="url(#gb)"/>
<line x1="295.8" y1="100.9" x2="289.0" y2="99.9" stroke="#9f99c0" stroke-width="1.6" stroke-linecap="round"/>
<circle cx="295.8" cy="100.9" r="2.5" fill="url(#gt)"/>
<line x1="277.5" y1="86.7" x2="270.4" y2="90.3" stroke="#9f99c0" stroke-width="1.6" stroke-linecap="round"/>
<circle cx="277.5" cy="86.7" r="2.4" fill="url(#gb)"/>
<line x1="353.8" y1="92.1" x2="358.8" y2="89.7" stroke="#9f99c0" stroke-width="1.6" stroke-linecap="round"/>
<circle cx="353.8" cy="92.1" r="2.5" fill="url(#gt)"/>
<line x1="343.3" y1="94.7" x2="338.4" y2="89.9" stroke="#9f99c0" stroke-width="1.6" stroke-linecap="round"/>
<circle cx="343.3" cy="94.7" r="2.8" fill="url(#gb)"/>
<line x1="356.1" y1="90.4" x2="350.6" y2="89.4" stroke="#9f99c0" stroke-width="1.6" stroke-linecap="round"/>
<circle cx="356.1" cy="90.4" r="2.5" fill="url(#gb)"/>
<line x1="310.2" y1="96.0" x2="316.7" y2="98.3" stroke="#9f99c0" stroke-width="1.6" stroke-linecap="round"/>
<circle cx="310.2" cy="96.0" r="2.8" fill="url(#gt)"/>
<line x1="353.2" y1="102.3" x2="359.8" y2="103.2" stroke="#9f99c0" stroke-width="1.6" stroke-linecap="round"/>
<circle cx="353.2" cy="102.3" r="2.7" fill="url(#gt)"/>
<line x1="375.2" y1="104.0" x2="379.9" y2="102.0" stroke="#9f99c0" stroke-width="1.6" stroke-linecap="round"/>
<circle cx="375.2" cy="104.0" r="2.7" fill="url(#gb)"/>
<line x1="354.5" y1="88.5" x2="362.1" y2="90.3" stroke="#9f99c0" stroke-width="1.6" stroke-linecap="round"/>
<circle cx="354.5" cy="88.5" r="2.6" fill="url(#gb)"/>
<line x1="313.1" y1="88.2" x2="317.5" y2="93.2" stroke="#9f99c0" stroke-width="1.6" stroke-linecap="round"/>
<circle cx="313.1" cy="88.2" r="2.9" fill="url(#gb)"/>
<line x1="326.0" y1="119.0" x2="332.8" y2="118.7" stroke="#9f99c0" stroke-width="1.6" stroke-linecap="round"/>
<circle cx="326.0" cy="119.0" r="2.8" fill="url(#gt)"/>
<line x1="360.9" y1="119.5" x2="361.3" y2="127.0" stroke="#9f99c0" stroke-width="1.6" stroke-linecap="round"/>
<circle cx="360.9" cy="119.5" r="2.7" fill="url(#gt)"/>
<line x1="324.3" y1="115.4" x2="316.8" y2="112.8" stroke="#9f99c0" stroke-width="1.6" stroke-linecap="round"/>
<circle cx="324.3" cy="115.4" r="2.9" fill="url(#gt)"/>
<line x1="351.8" y1="130.1" x2="346.3" y2="125.3" stroke="#9f99c0" stroke-width="1.6" stroke-linecap="round"/>
<circle cx="351.8" cy="130.1" r="2.7" fill="url(#gt)"/>
<line x1="306.4" y1="114.6" x2="299.8" y2="114.1" stroke="#9f99c0" stroke-width="1.6" stroke-linecap="round"/>
<circle cx="306.4" cy="114.6" r="2.5" fill="url(#gb)"/>
<line x1="327.0" y1="120.3" x2="332.3" y2="121.6" stroke="#9f99c0" stroke-width="1.6" stroke-linecap="round"/>
<circle cx="327.0" cy="120.3" r="2.7" fill="url(#gb)"/>
<line x1="331.2" y1="122.9" x2="338.8" y2="125.3" stroke="#9f99c0" stroke-width="1.6" stroke-linecap="round"/>
<circle cx="331.2" cy="122.9" r="2.6" fill="url(#gb)"/>
<line x1="364.9" y1="121.8" x2="359.1" y2="118.7" stroke="#9f99c0" stroke-width="1.6" stroke-linecap="round"/>
<circle cx="364.9" cy="121.8" r="2.7" fill="url(#gb)"/>
<line x1="371.4" y1="120.1" x2="378.3" y2="122.1" stroke="#9f99c0" stroke-width="1.6" stroke-linecap="round"/>
<circle cx="371.4" cy="120.1" r="2.7" fill="url(#gb)"/>
<line x1="330.3" y1="115.3" x2="337.9" y2="112.9" stroke="#9f99c0" stroke-width="1.6" stroke-linecap="round"/>
<circle cx="330.3" cy="115.3" r="2.8" fill="url(#gb)"/>
<line x1="265.9" y1="131.3" x2="272.8" y2="135.3" stroke="#9f99c0" stroke-width="1.6" stroke-linecap="round"/>
<circle cx="265.9" cy="131.3" r="2.8" fill="url(#gb)"/>
<line x1="367.0" y1="121.0" x2="360.7" y2="123.2" stroke="#9f99c0" stroke-width="1.6" stroke-linecap="round"/>
<circle cx="367.0" cy="121.0" r="2.8" fill="url(#gb)"/>
<line x1="265.0" y1="129.1" x2="269.9" y2="125.7" stroke="#9f99c0" stroke-width="1.6" stroke-linecap="round"/>
<circle cx="265.0" cy="129.1" r="2.5" fill="url(#gb)"/>
<line x1="260.3" y1="131.0" x2="254.9" y2="135.1" stroke="#9f99c0" stroke-width="1.6" stroke-linecap="round"/>
<circle cx="260.3" cy="131.0" r="2.6" fill="url(#gt)"/>
<line x1="256.1" y1="131.1" x2="262.8" y2="128.0" stroke="#9f99c0" stroke-width="1.6" stroke-linecap="round"/>
<circle cx="256.1" cy="131.1" r="2.8" fill="url(#gb)"/>
<line x1="278.8" y1="130.3" x2="285.8" y2="133.1" stroke="#9f99c0" stroke-width="1.6" stroke-linecap="round"/>
<circle cx="278.8" cy="130.3" r="2.6" fill="url(#gb)"/>
<line x1="254.1" y1="126.1" x2="248.8" y2="124.0" stroke="#9f99c0" stroke-width="1.6" stroke-linecap="round"/>
<circle cx="254.1" cy="126.1" r="2.7" fill="url(#gb)"/>
<line x1="380.9" y1="126.4" x2="386.2" y2="129.6" stroke="#9f99c0" stroke-width="1.6" stroke-linecap="round"/>
<circle cx="380.9" cy="126.4" r="2.5" fill="url(#gb)"/>
<line x1="296.2" y1="132.2" x2="289.7" y2="136.0" stroke="#9f99c0" stroke-width="1.6" stroke-linecap="round"/>
<circle cx="296.2" cy="132.2" r="2.5" fill="url(#gt)"/>
<line x1="343.2" y1="119.1" x2="337.4" y2="119.1" stroke="#9f99c0" stroke-width="1.6" stroke-linecap="round"/>
<circle cx="343.2" cy="119.1" r="2.5" fill="url(#gb)"/>
<line x1="321.2" y1="116.2" x2="326.3" y2="118.8" stroke="#9f99c0" stroke-width="1.6" stroke-linecap="round"/>
<circle cx="321.2" cy="116.2" r="2.5" fill="url(#gt)"/>
<line x1="340.1" y1="122.8" x2="333.4" y2="122.5" stroke="#9f99c0" stroke-width="1.6" stroke-linecap="round"/>
<circle cx="340.1" cy="122.8" r="2.4" fill="url(#gb)"/>
<line x1="285.1" y1="129.3" x2="289.7" y2="132.3" stroke="#9f99c0" stroke-width="1.6" stroke-linecap="round"/>
<circle cx="285.1" cy="129.3" r="2.5" fill="url(#gb)"/>
<line x1="255.8" y1="129.0" x2="249.1" y2="128.0" stroke="#9f99c0" stroke-width="1.6" stroke-linecap="round"/>
<circle cx="255.8" cy="129.0" r="2.9" fill="url(#gt)"/>
<line x1="369.7" y1="115.1" x2="374.7" y2="114.1" stroke="#9f99c0" stroke-width="1.6" stroke-linecap="round"/>
<circle cx="369.7" cy="115.1" r="2.6" fill="url(#gb)"/>
<line x1="361.2" y1="126.1" x2="360.9" y2="119.3" stroke="#9f99c0" stroke-width="1.6" stroke-linecap="round"/>
<circle cx="361.2" cy="126.1" r="2.7" fill="url(#gb)"/>
<line x1="266.8" y1="122.3" x2="260.0" y2="120.2" stroke="#9f99c0" stroke-width="1.6" stroke-linecap="round"/>
<circle cx="266.8" cy="122.3" r="2.5" fill="url(#gb)"/>
<line x1="286.3" y1="124.3" x2="281.8" y2="120.9" stroke="#9f99c0" stroke-width="1.6" stroke-linecap="round"/>
<circle cx="286.3" cy="124.3" r="2.5" fill="url(#gb)"/>
<line x1="258.9" y1="122.5" x2="255.8" y2="128.6" stroke="#9f99c0" stroke-width="1.6" stroke-linecap="round"/>
<circle cx="258.9" cy="122.5" r="2.7" fill="url(#gb)"/>
<line x1="318.5" y1="127.7" x2="323.9" y2="128.8" stroke="#9f99c0" stroke-width="1.6" stroke-linecap="round"/>
<circle cx="318.5" cy="127.7" r="2.5" fill="url(#gb)"/>
<line x1="328.5" y1="127.7" x2="335.2" y2="130.1" stroke="#9f99c0" stroke-width="1.6" stroke-linecap="round"/>
<circle cx="328.5" cy="127.7" r="2.6" fill="url(#gb)"/>
<line x1="349.5" y1="128.8" x2="342.9" y2="128.9" stroke="#9f99c0" stroke-width="1.6" stroke-linecap="round"/>
<circle cx="349.5" cy="128.8" r="2.7" fill="url(#gb)"/>
<line x1="284.8" y1="123.4" x2="279.9" y2="120.1" stroke="#9f99c0" stroke-width="1.6" stroke-linecap="round"/>
<circle cx="284.8" cy="123.4" r="2.6" fill="url(#gb)"/>
<line x1="344.2" y1="127.4" x2="348.9" y2="132.3" stroke="#9f99c0" stroke-width="1.6" stroke-linecap="round"/>
<circle cx="344.2" cy="127.4" r="2.8" fill="url(#gt)"/>
<line x1="350.3" y1="123.9" x2="356.9" y2="124.1" stroke="#9f99c0" stroke-width="1.6" stroke-linecap="round"/>
<circle cx="350.3" cy="123.9" r="2.6" fill="url(#gt)"/>
<line x1="325.4" y1="123.0" x2="332.4" y2="121.7" stroke="#9f99c0" stroke-width="1.6" stroke-linecap="round"/>
<circle cx="325.4" cy="123.0" r="2.7" fill="url(#gb)"/>
<line x1="332.8" y1="119.6" x2="327.2" y2="120.2" stroke="#9f99c0" stroke-width="1.6" stroke-linecap="round"/>
<circle cx="332.8" cy="119.6" r="2.4" fill="url(#gb)"/>
<line x1="376.9" y1="131.5" x2="371.8" y2="132.1" stroke="#9f99c0" stroke-width="1.6" stroke-linecap="round"/>
<circle cx="376.9" cy="131.5" r="2.7" fill="url(#gb)"/>
<line x1="343.7" y1="130.4" x2="336.2" y2="130.8" stroke="#9f99c0" stroke-width="1.6" stroke-linecap="round"/>
<circle cx="343.7" cy="130.4" r="2.6" fill="url(#gb)"/>
<line x1="355.1" y1="118.1" x2="349.1" y2="115.9" stroke="#9f99c0" stroke-width="1.6" stroke-linecap="round"/>
<circle cx="355.1" cy="118.1" r="2.8" fill="url(#gb)"/>
<line x1="330.4" y1="128.4" x2="336.7" y2="132.7" stroke="#9f99c0" stroke-width="1.6" stroke-linecap="round"/>
<circle cx="330.4" cy="128.4" r="2.7" fill="url(#gb)"/>
<line x1="302.6" y1="115.4" x2="299.3" y2="119.2" stroke="#9f99c0" stroke-width="1.6" stroke-linecap="round"/>
<circle cx="302.6" cy="115.4" r="2.5" fill="url(#gt)"/>
<line x1="286.6" y1="121.5" x2="285.3" y2="115.5" stroke="#9f99c0" stroke-width="1.6" stroke-linecap="round"/>
<circle cx="286.6" cy="121.5" r="2.5" fill="url(#gt)"/>
<line x1="375.6" y1="120.8" x2="374.8" y2="115.8" stroke="#9f99c0" stroke-width="1.6" stroke-linecap="round"/>
<circle cx="375.6" cy="120.8" r="2.9" fill="url(#gb)"/>
<line x1="302.7" y1="115.6" x2="299.8" y2="121.4" stroke="#9f99c0" stroke-width="1.6" stroke-linecap="round"/>
<circle cx="302.7" cy="115.6" r="2.8" fill="url(#gt)"/>
<line x1="304.0" y1="118.5" x2="298.4" y2="118.4" stroke="#9f99c0" stroke-width="1.6" stroke-linecap="round"/>
<circle cx="304.0" cy="118.5" r="2.5" fill="url(#gb)"/>
<line x1="315.2" y1="127.2" x2="321.2" y2="125.8" stroke="#9f99c0" stroke-width="1.6" stroke-linecap="round"/>
<circle cx="315.2" cy="127.2" r="2.6" fill="url(#gb)"/>
<line x1="362.2" y1="124.2" x2="356.5" y2="124.9" stroke="#9f99c0" stroke-width="1.6" stroke-linecap="round"/>
<circle cx="362.2" cy="124.2" r="2.8" fill="url(#gb)"/>
<line x1="297.5" y1="118.1" x2="292.7" y2="116.6" stroke="#9f99c0" stroke-width="1.6" stroke-linecap="round"/>
<circle cx="297.5" cy="118.1" r="2.6" fill="url(#gb)"/>
<line x1="350.1" y1="126.5" x2="344.7" y2="126.2" stroke="#9f99c0" stroke-width="1.6" stroke-linecap="round"/>
<circle cx="350.1" cy="126.5" r="2.6" fill="url(#gb)"/>
<line x1="301.4" y1="128.9" x2="307.2" y2="126.0" stroke="#9f99c0" stroke-width="1.6" stroke-linecap="round"/>
<circle cx="301.4" cy="128.9" r="2.6" fill="url(#gb)"/>
<line x1="289.6" y1="127.4" x2="295.2" y2="125.2" stroke="#9f99c0" stroke-width="1.6" stroke-linecap="round"/>
<circle cx="289.6" cy="127.4" r="2.8" fill="url(#gb)"/>
<line x1="320.7" y1="128.1" x2="322.6" y2="122.7" stroke="#9f99c0" stroke-width="1.6" stroke-linecap="round"/>
<circle cx="320.7" cy="128.1" r="2.6" fill="url(#gb)"/>
<line x1="292.7" y1="131.4" x2="298.4" y2="136.7" stroke="#9f99c0" stroke-width="1.6" stroke-linecap="round"/>
<circle cx="292.7" cy="131.4" r="2.9" fill="url(#gb)"/>
<line x1="301.8" y1="130.1" x2="306.4" y2="132.4" stroke="#9f99c0" stroke-width="1.6" stroke-linecap="round"/>
<circle cx="301.8" cy="130.1" r="2.4" fill="url(#gb)"/>
<line x1="301.3" y1="119.6" x2="305.9" y2="115.6" stroke="#9f99c0" stroke-width="1.6" stroke-linecap="round"/>
<circle cx="301.3" cy="119.6" r="2.7" fill="url(#gb)"/>
<line x1="370.5" y1="114.6" x2="371.6" y2="119.6" stroke="#9f99c0" stroke-width="1.6" stroke-linecap="round"/>
<circle cx="370.5" cy="114.6" r="2.4" fill="url(#gb)"/>
<line x1="332.9" y1="115.2" x2="339.8" y2="118.6" stroke="#9f99c0" stroke-width="1.6" stroke-linecap="round"/>
<circle cx="332.9" cy="115.2" r="2.6" fill="url(#gt)"/>
<line x1="269.9" y1="123.6" x2="276.7" y2="123.4" stroke="#9f99c0" stroke-width="1.6" stroke-linecap="round"/>
<circle cx="269.9" cy="123.6" r="2.4" fill="url(#gb)"/>
<line x1="286.1" y1="118.2" x2="292.3" y2="113.9" stroke="#9f99c0" stroke-width="1.6" stroke-linecap="round"/>
<circle cx="286.1" cy="118.2" r="2.7" fill="url(#gb)"/>
<line x1="262.4" y1="129.6" x2="260.3" y2="124.2" stroke="#9f99c0" stroke-width="1.6" stroke-linecap="round"/>
<circle cx="262.4" cy="129.6" r="2.8" fill="url(#gt)"/>
<line x1="254.6" y1="129.3" x2="261.8" y2="131.0" stroke="#9f99c0" stroke-width="1.6" stroke-linecap="round"/>
<circle cx="254.6" cy="129.3" r="2.9" fill="url(#gt)"/>
<line x1="334.1" y1="123.3" x2="341.0" y2="122.6" stroke="#9f99c0" stroke-width="1.6" stroke-linecap="round"/>
<circle cx="334.1" cy="123.3" r="2.6" fill="url(#gb)"/>
<line x1="337.3" y1="120.9" x2="343.9" y2="117.1" stroke="#9f99c0" stroke-width="1.6" stroke-linecap="round"/>
<circle cx="337.3" cy="120.9" r="2.8" fill="url(#gb)"/>
<line x1="360.0" y1="130.8" x2="365.1" y2="130.9" stroke="#9f99c0" stroke-width="1.6" stroke-linecap="round"/>
<circle cx="360.0" cy="130.8" r="2.7" fill="url(#gb)"/>
<line x1="306.5" y1="123.2" x2="312.7" y2="123.2" stroke="#9f99c0" stroke-width="1.6" stroke-linecap="round"/>
<circle cx="306.5" cy="123.2" r="2.8" fill="url(#gb)"/>
<line x1="285.2" y1="127.6" x2="291.3" y2="130.4" stroke="#9f99c0" stroke-width="1.6" stroke-linecap="round"/>
<circle cx="285.2" cy="127.6" r="2.5" fill="url(#gt)"/>
<line x1="381.8" y1="126.2" x2="387.5" y2="128.4" stroke="#9f99c0" stroke-width="1.6" stroke-linecap="round"/>
<circle cx="381.8" cy="126.2" r="2.5" fill="url(#gb)"/>
<line x1="282.5" y1="117.5" x2="277.0" y2="119.1" stroke="#9f99c0" stroke-width="1.6" stroke-linecap="round"/>
<circle cx="282.5" cy="117.5" r="2.5" fill="url(#gb)"/>
<line x1="303.0" y1="126.9" x2="298.1" y2="125.6" stroke="#9f99c0" stroke-width="1.6" stroke-linecap="round"/>
<circle cx="303.0" cy="126.9" r="2.5" fill="url(#gb)"/>
<line x1="348.5" y1="132.9" x2="355.2" y2="136.4" stroke="#9f99c0" stroke-width="1.6" stroke-linecap="round"/>
<circle cx="348.5" cy="132.9" r="2.8" fill="url(#gt)"/>
<line x1="260.9" y1="122.3" x2="256.7" y2="116.6" stroke="#9f99c0" stroke-width="1.6" stroke-linecap="round"/>
<circle cx="260.9" cy="122.3" r="2.5" fill="url(#gb)"/>
<line x1="270.7" y1="125.0" x2="272.3" y2="132.4" stroke="#9f99c0" stroke-width="1.6" stroke-linecap="round"/>
<circle cx="270.7" cy="125.0" r="2.5" fill="url(#gb)"/>
<line x1="362.1" y1="124.6" x2="366.1" y2="120.8" stroke="#9f99c0" stroke-width="1.6" stroke-linecap="round"/>
<circle cx="362.1" cy="124.6" r="2.6" fill="url(#gb)"/>
<line x1="287.7" y1="124.8" x2="293.9" y2="123.1" stroke="#9f99c0" stroke-width="1.6" stroke-linecap="round"/>
<circle cx="287.7" cy="124.8" r="2.5" fill="url(#gb)"/>
<line x1="286.3" y1="115.0" x2="292.1" y2="116.2" stroke="#9f99c0" stroke-width="1.6" stroke-linecap="round"/>
<circle cx="286.3" cy="115.0" r="2.4" fill="url(#gt)"/>
<line x1="356.2" y1="132.8" x2="350.0" y2="133.5" stroke="#9f99c0" stroke-width="1.6" stroke-linecap="round"/>
<circle cx="356.2" cy="132.8" r="2.8" fill="url(#gt)"/>
<line x1="324.7" y1="126.5" x2="323.4" y2="134.0" stroke="#9f99c0" stroke-width="1.6" stroke-linecap="round"/>
<circle cx="324.7" cy="126.5" r="2.9" fill="url(#gb)"/>
<line x1="310.5" y1="129.8" x2="313.0" y2="134.8" stroke="#9f99c0" stroke-width="1.6" stroke-linecap="round"/>
<circle cx="310.5" cy="129.8" r="2.4" fill="url(#gt)"/>
<line x1="261.9" y1="120.8" x2="260.0" y2="125.5" stroke="#9f99c0" stroke-width="1.6" stroke-linecap="round"/>
<circle cx="261.9" cy="120.8" r="2.7" fill="url(#gb)"/>
<line x1="378.6" y1="114.2" x2="372.8" y2="112.1" stroke="#9f99c0" stroke-width="1.6" stroke-linecap="round"/>
<circle cx="378.6" cy="114.2" r="2.8" fill="url(#gb)"/>
<line x1="361.3" y1="128.6" x2="366.3" y2="132.3" stroke="#9f99c0" stroke-width="1.6" stroke-linecap="round"/>
<circle cx="361.3" cy="128.6" r="2.9" fill="url(#gb)"/>
<line x1="285.1" y1="131.3" x2="279.3" y2="133.2" stroke="#9f99c0" stroke-width="1.6" stroke-linecap="round"/>
<circle cx="285.1" cy="131.3" r="2.6" fill="url(#gb)"/>
<line x1="359.0" y1="120.9" x2="354.3" y2="127.1" stroke="#9f99c0" stroke-width="1.6" stroke-linecap="round"/>
<circle cx="359.0" cy="120.9" r="2.5" fill="url(#gb)"/>
<line x1="264.4" y1="120.4" x2="266.0" y2="126.8" stroke="#9f99c0" stroke-width="1.6" stroke-linecap="round"/>
<circle cx="264.4" cy="120.4" r="2.8" fill="url(#gb)"/>
<line x1="275.4" y1="116.0" x2="281.2" y2="113.7" stroke="#9f99c0" stroke-width="1.6" stroke-linecap="round"/>
<circle cx="275.4" cy="116.0" r="2.4" fill="url(#gt)"/>
<line x1="264.5" y1="132.1" x2="264.9" y2="126.6" stroke="#9f99c0" stroke-width="1.6" stroke-linecap="round"/>
<circle cx="264.5" cy="132.1" r="2.4" fill="url(#gt)"/>
<line x1="329.8" y1="125.0" x2="335.0" y2="128.3" stroke="#9f99c0" stroke-width="1.6" stroke-linecap="round"/>
<circle cx="329.8" cy="125.0" r="2.5" fill="url(#gb)"/>
<line x1="275.5" y1="119.2" x2="280.7" y2="117.4" stroke="#9f99c0" stroke-width="1.6" stroke-linecap="round"/>
<circle cx="275.5" cy="119.2" r="2.6" fill="url(#gb)"/>
<line x1="382.6" y1="116.8" x2="378.5" y2="120.7" stroke="#9f99c0" stroke-width="1.6" stroke-linecap="round"/>
<circle cx="382.6" cy="116.8" r="2.7" fill="url(#gb)"/>
<line x1="369.2" y1="130.3" x2="363.8" y2="130.1" stroke="#9f99c0" stroke-width="1.6" stroke-linecap="round"/>
<circle cx="369.2" cy="130.3" r="2.7" fill="url(#gb)"/>
<line x1="343.1" y1="122.6" x2="338.1" y2="125.4" stroke="#9f99c0" stroke-width="1.6" stroke-linecap="round"/>
<circle cx="343.1" cy="122.6" r="2.6" fill="url(#gb)"/>
<line x1="327.6" y1="123.8" x2="334.4" y2="123.4" stroke="#9f99c0" stroke-width="1.6" stroke-linecap="round"/>
<circle cx="327.6" cy="123.8" r="2.7" fill="url(#gb)"/>
<line x1="272.1" y1="122.9" x2="271.5" y2="115.7" stroke="#9f99c0" stroke-width="1.6" stroke-linecap="round"/>
<circle cx="272.1" cy="122.9" r="2.6" fill="url(#gb)"/>
<line x1="305.1" y1="130.5" x2="312.0" y2="127.0" stroke="#9f99c0" stroke-width="1.6" stroke-linecap="round"/>
<circle cx="305.1" cy="130.5" r="2.5" fill="url(#gb)"/>
<line x1="270.8" y1="116.2" x2="277.1" y2="120.4" stroke="#9f99c0" stroke-width="1.6" stroke-linecap="round"/>
<circle cx="270.8" cy="116.2" r="2.4" fill="url(#gb)"/>
<line x1="285.1" y1="129.3" x2="279.8" y2="126.9" stroke="#9f99c0" stroke-width="1.6" stroke-linecap="round"/>
<circle cx="285.1" cy="129.3" r="2.5" fill="url(#gb)"/>
<line x1="261.7" y1="124.5" x2="254.3" y2="125.0" stroke="#9f99c0" stroke-width="1.6" stroke-linecap="round"/>
<circle cx="261.7" cy="124.5" r="2.5" fill="url(#gb)"/>
<line x1="353.7" y1="124.4" x2="355.5" y2="118.6" stroke="#9f99c0" stroke-width="1.6" stroke-linecap="round"/>
<circle cx="353.7" cy="124.4" r="2.5" fill="url(#gt)"/>
<line x1="256.9" y1="120.6" x2="259.6" y2="115.8" stroke="#9f99c0" stroke-width="1.6" stroke-linecap="round"/>
<circle cx="256.9" cy="120.6" r="2.5" fill="url(#gb)"/>
<line x1="364.1" y1="125.7" x2="369.2" y2="128.2" stroke="#9f99c0" stroke-width="1.6" stroke-linecap="round"/>
<circle cx="364.1" cy="125.7" r="2.9" fill="url(#gb)"/>
<line x1="367.7" y1="127.8" x2="374.7" y2="126.8" stroke="#9f99c0" stroke-width="1.6" stroke-linecap="round"/>
<circle cx="367.7" cy="127.8" r="2.8" fill="url(#gb)"/>
<line x1="376.9" y1="126.5" x2="370.3" y2="129.2" stroke="#9f99c0" stroke-width="1.6" stroke-linecap="round"/>
<circle cx="376.9" cy="126.5" r="2.5" fill="url(#gb)"/>
<line x1="269.0" y1="116.2" x2="264.7" y2="112.6" stroke="#9f99c0" stroke-width="1.6" stroke-linecap="round"/>
<circle cx="269.0" cy="116.2" r="2.6" fill="url(#gb)"/>
<line x1="343.3" y1="128.0" x2="348.2" y2="129.6" stroke="#9f99c0" stroke-width="1.6" stroke-linecap="round"/>
<circle cx="343.3" cy="128.0" r="2.5" fill="url(#gb)"/>
<line x1="301.4" y1="125.6" x2="295.4" y2="125.6" stroke="#9f99c0" stroke-width="1.6" stroke-linecap="round"/>
<circle cx="301.4" cy="125.6" r="2.9" fill="url(#gb)"/>
<line x1="283.0" y1="125.0" x2="289.0" y2="128.6" stroke="#9f99c0" stroke-width="1.6" stroke-linecap="round"/>
<circle cx="283.0" cy="125.0" r="2.4" fill="url(#gb)"/>
<line x1="315.0" y1="117.8" x2="308.8" y2="118.2" stroke="#9f99c0" stroke-width="1.6" stroke-linecap="round"/>
<circle cx="315.0" cy="117.8" r="2.4" fill="url(#gb)"/>
<line x1="310.2" y1="132.1" x2="304.1" y2="130.9" stroke="#9f99c0" stroke-width="1.6" stroke-linecap="round"/>
<circle cx="310.2" cy="132.1" r="2.5" fill="url(#gt)"/>
<line x1="370.2" y1="118.8" x2="376.7" y2="115.4" stroke="#9f99c0" stroke-width="1.6" stroke-linecap="round"/>
<circle cx="370.2" cy="118.8" r="2.8" fill="url(#gt)"/>
<line x1="338.8" y1="122.6" x2="344.4" y2="118.9" stroke="#9f99c0" stroke-width="1.6" stroke-linecap="round"/>
<circle cx="338.8" cy="122.6" r="2.4" fill="url(#gb)"/>
<line x1="382.7" y1="129.5" x2="380.1" y2="125.0" stroke="#9f99c0" stroke-width="1.6" stroke-linecap="round"/>
<circle cx="382.7" cy="129.5" r="2.5" fill="url(#gt)"/>
<line x1="318.8" y1="123.1" x2="323.5" y2="125.0" stroke="#9f99c0" stroke-width="1.6" stroke-linecap="round"/>
<circle cx="318.8" cy="123.1" r="2.5" fill="url(#gb)"/>
<line x1="309.2" y1="118.4" x2="303.9" y2="114.8" stroke="#9f99c0" stroke-width="1.6" stroke-linecap="round"/>
<circle cx="309.2" cy="118.4" r="2.4" fill="url(#gb)"/>
<line x1="338.6" y1="118.1" x2="340.0" y2="123.4" stroke="#9f99c0" stroke-width="1.6" stroke-linecap="round"/>
<circle cx="338.6" cy="118.1" r="2.6" fill="url(#gb)"/>
<line x1="349.9" y1="115.6" x2="356.2" y2="116.8" stroke="#9f99c0" stroke-width="1.6" stroke-linecap="round"/>
<circle cx="349.9" cy="115.6" r="2.9" fill="url(#gb)"/>
<line x1="309.2" y1="117.0" x2="313.5" y2="119.5" stroke="#9f99c0" stroke-width="1.6" stroke-linecap="round"/>
<circle cx="309.2" cy="117.0" r="2.8" fill="url(#gb)"/>
<line x1="322.7" y1="124.1" x2="317.5" y2="125.4" stroke="#9f99c0" stroke-width="1.6" stroke-linecap="round"/>
<circle cx="322.7" cy="124.1" r="2.7" fill="url(#gb)"/>
<line x1="269.1" y1="115.7" x2="275.8" y2="114.5" stroke="#9f99c0" stroke-width="1.6" stroke-linecap="round"/>
<circle cx="269.1" cy="115.7" r="2.5" fill="url(#gb)"/>
<line x1="382.7" y1="125.2" x2="377.3" y2="125.4" stroke="#9f99c0" stroke-width="1.6" stroke-linecap="round"/>
<circle cx="382.7" cy="125.2" r="2.8" fill="url(#gb)"/>
<line x1="272.4" y1="132.4" x2="279.5" y2="133.4" stroke="#9f99c0" stroke-width="1.6" stroke-linecap="round"/>
<circle cx="272.4" cy="132.4" r="2.9" fill="url(#gt)"/>
<line x1="360.5" y1="118.3" x2="365.3" y2="122.2" stroke="#9f99c0" stroke-width="1.6" stroke-linecap="round"/>
<circle cx="360.5" cy="118.3" r="2.8" fill="url(#gb)"/>
<line x1="333.7" y1="121.7" x2="328.1" y2="122.4" stroke="#9f99c0" stroke-width="1.6" stroke-linecap="round"/>
<circle cx="333.7" cy="121.7" r="2.5" fill="url(#gb)"/>
<line x1="338.7" y1="122.0" x2="340.7" y2="128.4" stroke="#9f99c0" stroke-width="1.6" stroke-linecap="round"/>
<circle cx="338.7" cy="122.0" r="2.9" fill="url(#gt)"/>
<line x1="381.6" y1="131.6" x2="387.0" y2="130.1" stroke="#9f99c0" stroke-width="1.6" stroke-linecap="round"/>
<circle cx="381.6" cy="131.6" r="2.7" fill="url(#gt)"/>
<line x1="356.5" y1="121.3" x2="353.5" y2="126.4" stroke="#9f99c0" stroke-width="1.6" stroke-linecap="round"/>
<circle cx="356.5" cy="121.3" r="2.5" fill="url(#gb)"/>
<line x1="273.5" y1="121.3" x2="268.6" y2="120.2" stroke="#9f99c0" stroke-width="1.6" stroke-linecap="round"/>
<circle cx="273.5" cy="121.3" r="2.8" fill="url(#gb)"/>
<line x1="377.5" y1="123.9" x2="372.3" y2="124.7" stroke="#9f99c0" stroke-width="1.6" stroke-linecap="round"/>
<circle cx="377.5" cy="123.9" r="2.7" fill="url(#gb)"/>
<line x1="299.2" y1="149.4" x2="297.2" y2="144.2" stroke="#9f99c0" stroke-width="1.6" stroke-linecap="round"/>
<circle cx="299.2" cy="149.4" r="2.8" fill="url(#gb)"/>
<line x1="259.4" y1="148.3" x2="264.3" y2="145.4" stroke="#9f99c0" stroke-width="1.6" stroke-linecap="round"/>
<circle cx="259.4" cy="148.3" r="2.4" fill="url(#gb)"/>
<line x1="357.0" y1="152.7" x2="351.3" y2="156.7" stroke="#9f99c0" stroke-width="1.6" stroke-linecap="round"/>
<circle cx="357.0" cy="152.7" r="2.5" fill="url(#gt)"/>
<line x1="381.9" y1="160.0" x2="387.2" y2="157.6" stroke="#9f99c0" stroke-width="1.6" stroke-linecap="round"/>
<circle cx="381.9" cy="160.0" r="2.5" fill="url(#gb)"/>
<line x1="384.0" y1="153.8" x2="377.1" y2="153.4" stroke="#9f99c0" stroke-width="1.6" stroke-linecap="round"/>
<circle cx="384.0" cy="153.8" r="2.9" fill="url(#gt)"/>
<line x1="375.3" y1="158.5" x2="369.8" y2="156.3" stroke="#9f99c0" stroke-width="1.6" stroke-linecap="round"/>
<circle cx="375.3" cy="158.5" r="2.6" fill="url(#gb)"/>
<line x1="372.6" y1="159.8" x2="366.5" y2="160.2" stroke="#9f99c0" stroke-width="1.6" stroke-linecap="round"/>
<circle cx="372.6" cy="159.8" r="2.8" fill="url(#gb)"/>
<line x1="309.7" y1="147.1" x2="304.1" y2="144.7" stroke="#9f99c0" stroke-width="1.6" stroke-linecap="round"/>
<circle cx="309.7" cy="147.1" r="2.9" fill="url(#gb)"/>
<line x1="346.0" y1="157.7" x2="340.5" y2="154.6" stroke="#9f99c0" stroke-width="1.6" stroke-linecap="round"/>
<circle cx="346.0" cy="157.7" r="2.5" fill="url(#gb)"/>
<line x1="362.8" y1="147.2" x2="356.6" y2="148.3" stroke="#9f99c0" stroke-width="1.6" stroke-linecap="round"/>
<circle cx="362.8" cy="147.2" r="2.4" fill="url(#gb)"/>
<line x1="341.0" y1="161.7" x2="347.7" y2="161.8" stroke="#9f99c0" stroke-width="1.6" stroke-linecap="round"/>
<circle cx="341.0" cy="161.7" r="2.6" fill="url(#gb)"/>
<line x1="354.0" y1="150.8" x2="346.7" y2="149.5" stroke="#9f99c0" stroke-width="1.6" stroke-linecap="round"/>
<circle cx="354.0" cy="150.8" r="2.6" fill="url(#gb)"/>
<line x1="311.8" y1="155.6" x2="305.8" y2="155.7" stroke="#9f99c0" stroke-width="1.6" stroke-linecap="round"/>
<circle cx="311.8" cy="155.6" r="2.9" fill="url(#gb)"/>
<line x1="282.8" y1="149.7" x2="278.2" y2="147.3" stroke="#9f99c0" stroke-width="1.6" stroke-linecap="round"/>
<circle cx="282.8" cy="149.7" r="2.5" fill="url(#gb)"/>
<line x1="301.8" y1="157.9" x2="294.1" y2="157.3" stroke="#9f99c0" stroke-width="1.6" stroke-linecap="round"/>
<circle cx="301.8" cy="157.9" r="2.9" fill="url(#gb)"/>
<line x1="316.3" y1="149.2" x2="322.3" y2="153.7" stroke="#9f99c0" stroke-width="1.6" stroke-linecap="round"/>
<circle cx="316.3" cy="149.2" r="2.6" fill="url(#gt)"/>
<line x1="344.2" y1="155.2" x2="352.1" y2="155.1" stroke="#9f99c0" stroke-width="1.6" stroke-linecap="round"/>
<circle cx="344.2" cy="155.2" r="2.6" fill="url(#gb)"/>
<line x1="291.9" y1="149.4" x2="286.4" y2="146.9" stroke="#9f99c0" stroke-width="1.6" stroke-linecap="round"/>
<circle cx="291.9" cy="149.4" r="2.8" fill="url(#gt)"/>
<line x1="277.1" y1="148.0" x2="273.5" y2="151.9" stroke="#9f99c0" stroke-width="1.6" stroke-linecap="round"/>
<circle cx="277.1" cy="148.0" r="2.6" fill="url(#gb)"/>
<line x1="358.5" y1="155.9" x2="364.5" y2="155.3" stroke="#9f99c0" stroke-width="1.6" stroke-linecap="round"/>
<circle cx="358.5" cy="155.9" r="2.5" fill="url(#gt)"/>
<line x1="369.4" y1="157.0" x2="364.5" y2="158.4" stroke="#9f99c0" stroke-width="1.6" stroke-linecap="round"/>
<circle cx="369.4" cy="157.0" r="2.4" fill="url(#gb)"/>
<line x1="376.5" y1="147.7" x2="369.4" y2="146.8" stroke="#9f99c0" stroke-width="1.6" stroke-linecap="round"/>
<circle cx="376.5" cy="147.7" r="2.7" fill="url(#gb)"/>
<line x1="339.1" y1="161.5" x2="338.6" y2="169.3" stroke="#9f99c0" stroke-width="1.6" stroke-linecap="round"/>
<circle cx="339.1" cy="161.5" r="2.4" fill="url(#gb)"/>
<line x1="355.9" y1="149.2" x2="362.7" y2="147.9" stroke="#9f99c0" stroke-width="1.6" stroke-linecap="round"/>
<circle cx="355.9" cy="149.2" r="2.5" fill="url(#gb)"/>
<line x1="347.9" y1="160.9" x2="340.7" y2="160.3" stroke="#9f99c0" stroke-width="1.6" stroke-linecap="round"/>
<circle cx="347.9" cy="160.9" r="2.9" fill="url(#gb)"/>
<line x1="252.4" y1="161.8" x2="254.4" y2="167.5" stroke="#9f99c0" stroke-width="1.6" stroke-linecap="round"/>
<circle cx="252.4" cy="161.8" r="2.6" fill="url(#gt)"/>
<line x1="377.3" y1="157.0" x2="384.3" y2="157.6" stroke="#9f99c0" stroke-width="1.6" stroke-linecap="round"/>
<circle cx="377.3" cy="157.0" r="2.9" fill="url(#gb)"/>
<line x1="355.6" y1="154.4" x2="349.6" y2="157.6" stroke="#9f99c0" stroke-width="1.6" stroke-linecap="round"/>
<circle cx="355.6" cy="154.4" r="2.7" fill="url(#gb)"/>
<line x1="368.1" y1="146.8" x2="362.3" y2="150.1" stroke="#9f99c0" stroke-width="1.6" stroke-linecap="round"/>
<circle cx="368.1" cy="146.8" r="2.6" fill="url(#gb)"/>
<line x1="326.1" y1="147.4" x2="331.3" y2="145.6" stroke="#9f99c0" stroke-width="1.6" stroke-linecap="round"/>
<circle cx="326.1" cy="147.4" r="2.5" fill="url(#gb)"/>
<line x1="367.2" y1="147.8" x2="359.2" y2="146.7" stroke="#9f99c0" stroke-width="1.6" stroke-linecap="round"/>
<circle cx="367.2" cy="147.8" r="2.8" fill="url(#gb)"/>
<line x1="370.6" y1="150.7" x2="366.0" y2="147.9" stroke="#9f99c0" stroke-width="1.6" stroke-linecap="round"/>
<circle cx="370.6" cy="150.7" r="2.4" fill="url(#gb)"/>
<line x1="378.3" y1="145.4" x2="371.8" y2="143.9" stroke="#9f99c0" stroke-width="1.6" stroke-linecap="round"/>
<circle cx="378.3" cy="145.4" r="2.7" fill="url(#gb)"/>
<line x1="358.6" y1="145.0" x2="353.4" y2="141.7" stroke="#9f99c0" stroke-width="1.6" stroke-linecap="round"/>
<circle cx="358.6" cy="145.0" r="2.8" fill="url(#gb)"/>
<line x1="297.8" y1="145.3" x2="297.3" y2="151.8" stroke="#9f99c0" stroke-width="1.6" stroke-linecap="round"/>
<circle cx="297.8" cy="145.3" r="2.7" fill="url(#gb)"/>
<line x1="341.1" y1="153.2" x2="346.4" y2="151.0" stroke="#9f99c0" stroke-width="1.6" stroke-linecap="round"/>
<circle cx="341.1" cy="153.2" r="2.5" fill="url(#gb)"/>
<line x1="355.4" y1="151.0" x2="362.1" y2="151.8" stroke="#9f99c0" stroke-width="1.6" stroke-linecap="round"/>
<circle cx="355.4" cy="151.0" r="2.7" fill="url(#gt)"/>
<line x1="293.0" y1="146.2" x2="286.6" y2="144.8" stroke="#9f99c0" stroke-width="1.6" stroke-linecap="round"/>
<circle cx="293.0" cy="146.2" r="2.8" fill="url(#gt)"/>
<line x1="352.8" y1="149.4" x2="359.8" y2="149.9" stroke="#9f99c0" stroke-width="1.6" stroke-linecap="round"/>
<circle cx="352.8" cy="149.4" r="2.5" fill="url(#gt)"/>
<line x1="261.7" y1="160.0" x2="256.7" y2="162.8" stroke="#9f99c0" stroke-width="1.6" stroke-linecap="round"/>
<circle cx="261.7" cy="160.0" r="2.7" fill="url(#gb)"/>
<line x1="279.3" y1="161.3" x2="274.3" y2="161.5" stroke="#9f99c0" stroke-width="1.6" stroke-linecap="round"/>
<circle cx="279.3" cy="161.3" r="2.8" fill="url(#gb)"/>
<line x1="302.2" y1="146.2" x2="306.9" y2="152.2" stroke="#9f99c0" stroke-width="1.6" stroke-linecap="round"/>
<circle cx="302.2" cy="146.2" r="2.5" fill="url(#gb)"/>
<line x1="375.0" y1="151.2" x2="379.9" y2="157.2" stroke="#9f99c0" stroke-width="1.6" stroke-linecap="round"/>
<circle cx="375.0" cy="151.2" r="2.8" fill="url(#gt)"/>
<line x1="269.9" y1="157.2" x2="269.0" y2="150.9" stroke="#9f99c0" stroke-width="1.6" stroke-linecap="round"/>
<circle cx="269.9" cy="157.2" r="2.9" fill="url(#gb)"/>
<line x1="267.9" y1="149.9" x2="273.3" y2="152.5" stroke="#9f99c0" stroke-width="1.6" stroke-linecap="round"/>
<circle cx="267.9" cy="149.9" r="2.5" fill="url(#gt)"/>
<line x1="292.5" y1="148.3" x2="300.0" y2="150.7" stroke="#9f99c0" stroke-width="1.6" stroke-linecap="round"/>
<circle cx="292.5" cy="148.3" r="2.7" fill="url(#gt)"/>
<line x1="281.4" y1="146.4" x2="275.3" y2="149.0" stroke="#9f99c0" stroke-width="1.6" stroke-linecap="round"/>
<circle cx="281.4" cy="146.4" r="2.6" fill="url(#gb)"/>
<line x1="356.6" y1="162.5" x2="364.5" y2="162.2" stroke="#9f99c0" stroke-width="1.6" stroke-linecap="round"/>
<circle cx="356.6" cy="162.5" r="2.5" fill="url(#gb)"/>
<line x1="255.2" y1="158.7" x2="249.2" y2="160.3" stroke="#9f99c0" stroke-width="1.6" stroke-linecap="round"/>
<circle cx="255.2" cy="158.7" r="2.4" fill="url(#gb)"/>
<line x1="378.9" y1="145.4" x2="383.9" y2="146.1" stroke="#9f99c0" stroke-width="1.6" stroke-linecap="round"/>
<circle cx="378.9" cy="145.4" r="2.4" fill="url(#gb)"/>
<line x1="274.0" y1="162.5" x2="281.0" y2="164.1" stroke="#9f99c0" stroke-width="1.6" stroke-linecap="round"/>
<circle cx="274.0" cy="162.5" r="2.5" fill="url(#gt)"/>
<line x1="271.0" y1="155.4" x2="265.7" y2="157.9" stroke="#9f99c0" stroke-width="1.6" stroke-linecap="round"/>
<circle cx="271.0" cy="155.4" r="2.7" fill="url(#gb)"/>
<line x1="316.9" y1="157.2" x2="321.8" y2="153.1" stroke="#9f99c0" stroke-width="1.6" stroke-linecap="round"/>
<circle cx="316.9" cy="157.2" r="2.7" fill="url(#gb)"/>
<line x1="373.4" y1="158.8" x2="370.9" y2="164.5" stroke="#9f99c0" stroke-width="1.6" stroke-linecap="round"/>
<circle cx="373.4" cy="158.8" r="2.7" fill="url(#gb)"/>
<line x1="296.8" y1="156.5" x2="302.2" y2="156.6" stroke="#9f99c0" stroke-width="1.6" stroke-linecap="round"/>
<circle cx="296.8" cy="156.5" r="2.6" fill="url(#gb)"/>
<line x1="357.7" y1="156.7" x2="354.3" y2="151.2" stroke="#9f99c0" stroke-width="1.6" stroke-linecap="round"/>
<circle cx="357.7" cy="156.7" r="2.6" fill="url(#gb)"/>
<line x1="327.1" y1="146.0" x2="331.5" y2="143.5" stroke="#9f99c0" stroke-width="1.6" stroke-linecap="round"/>
<circle cx="327.1" cy="146.0" r="2.5" fill="url(#gb)"/>
<line x1="258.6" y1="150.0" x2="265.9" y2="152.7" stroke="#9f99c0" stroke-width="1.6" stroke-linecap="round"/>
<circle cx="258.6" cy="150.0" r="2.5" fill="url(#gb)"/>
<line x1="308.3" y1="155.0" x2="302.4" y2="155.4" stroke="#9f99c0" stroke-width="1.6" stroke-linecap="round"/>
<circle cx="308.3" cy="155.0" r="2.6" fill="url(#gb)"/>
<line x1="318.4" y1="151.2" x2="312.7" y2="149.8" stroke="#9f99c0" stroke-width="1.6" stroke-linecap="round"/>
<circle cx="318.4" cy="151.2" r="2.6" fill="url(#gb)"/>
<line x1="268.9" y1="149.4" x2="267.8" y2="157.0" stroke="#9f99c0" stroke-width="1.6" stroke-linecap="round"/>
<circle cx="268.9" cy="149.4" r="2.5" fill="url(#gt)"/>
<line x1="314.8" y1="157.9" x2="309.3" y2="154.5" stroke="#9f99c0" stroke-width="1.6" stroke-linecap="round"/>
<circle cx="314.8" cy="157.9" r="2.7" fill="url(#gb)"/>
<line x1="341.2" y1="152.2" x2="344.8" y2="148.1" stroke="#9f99c0" stroke-width="1.6" stroke-linecap="round"/>
<circle cx="341.2" cy="152.2" r="2.9" fill="url(#gb)"/>
<line x1="290.0" y1="152.0" x2="294.5" y2="155.0" stroke="#9f99c0" stroke-width="1.6" stroke-linecap="round"/>
<circle cx="290.0" cy="152.0" r="2.7" fill="url(#gb)"/>
<line x1="259.7" y1="160.6" x2="261.2" y2="154.1" stroke="#9f99c0" stroke-width="1.6" stroke-linecap="round"/>
<circle cx="259.7" cy="160.6" r="2.8" fill="url(#gb)"/>
<line x1="336.4" y1="153.9" x2="341.9" y2="150.4" stroke="#9f99c0" stroke-width="1.6" stroke-linecap="round"/>
<circle cx="336.4" cy="153.9" r="2.8" fill="url(#gb)"/>
<line x1="282.5" y1="156.1" x2="276.7" y2="156.0" stroke="#9f99c0" stroke-width="1.6" stroke-linecap="round"/>
<circle cx="282.5" cy="156.1" r="2.6" fill="url(#gt)"/>
<line x1="337.5" y1="157.4" x2="333.8" y2="164.1" stroke="#9f99c0" stroke-width="1.6" stroke-linecap="round"/>
<circle cx="337.5" cy="157.4" r="2.9" fill="url(#gb)"/>
<line x1="377.7" y1="156.1" x2="378.6" y2="150.4" stroke="#9f99c0" stroke-width="1.6" stroke-linecap="round"/>
<circle cx="377.7" cy="156.1" r="2.6" fill="url(#gb)"/>
<line x1="316.4" y1="145.6" x2="309.3" y2="144.0" stroke="#9f99c0" stroke-width="1.6" stroke-linecap="round"/>
<circle cx="316.4" cy="145.6" r="2.6" fill="url(#gb)"/>
<line x1="278.3" y1="155.5" x2="286.1" y2="154.5" stroke="#9f99c0" stroke-width="1.6" stroke-linecap="round"/>
<circle cx="278.3" cy="155.5" r="2.6" fill="url(#gb)"/>
<line x1="365.5" y1="160.4" x2="359.1" y2="161.1" stroke="#9f99c0" stroke-width="1.6" stroke-linecap="round"/>
<circle cx="365.5" cy="160.4" r="2.5" fill="url(#gb)"/>
<line x1="268.1" y1="152.8" x2="268.6" y2="145.9" stroke="#9f99c0" stroke-width="1.6" stroke-linecap="round"/>
<circle cx="268.1" cy="152.8" r="2.7" fill="url(#gb)"/>
<line x1="371.1" y1="149.5" x2="363.8" y2="149.3" stroke="#9f99c0" stroke-width="1.6" stroke-linecap="round"/>
<circle cx="371.1" cy="149.5" r="2.5" fill="url(#gt)"/>
<line x1="271.8" y1="154.9" x2="276.8" y2="153.5" stroke="#9f99c0" stroke-width="1.6" stroke-linecap="round"/>
<circle cx="271.8" cy="154.9" r="2.8" fill="url(#gt)"/>
<line x1="260.0" y1="162.6" x2="262.7" y2="169.8" stroke="#9f99c0" stroke-width="1.6" stroke-linecap="round"/>
<circle cx="260.0" cy="162.6" r="2.5" fill="url(#gb)"/>
<line x1="252.3" y1="153.4" x2="256.7" y2="148.6" stroke="#9f99c0" stroke-width="1.6" stroke-linecap="round"/>
<circle cx="252.3" cy="153.4" r="2.9" fill="url(#gb)"/>
<line x1="284.3" y1="159.7" x2="288.9" y2="156.9" stroke="#9f99c0" stroke-width="1.6" stroke-linecap="round"/>
<circle cx="284.3" cy="159.7" r="2.8" fill="url(#gt)"/>
<line x1="314.5" y1="145.3" x2="319.9" y2="146.8" stroke="#9f99c0" stroke-width="1.6" stroke-linecap="round"/>
<circle cx="314.5" cy="145.3" r="2.7" fill="url(#gb)"/>
<line x1="349.9" y1="162.8" x2="355.3" y2="160.1" stroke="#9f99c0" stroke-width="1.6" stroke-linecap="round"/>
<circle cx="349.9" cy="162.8" r="2.7" fill="url(#gt)"/>
<line x1="362.3" y1="158.0" x2="366.9" y2="160.2" stroke="#9f99c0" stroke-width="1.6" stroke-linecap="round"/>
<circle cx="362.3" cy="158.0" r="2.5" fill="url(#gt)"/>
<line x1="287.3" y1="148.7" x2="288.9" y2="154.1" stroke="#9f99c0" stroke-width="1.6" stroke-linecap="round"/>
<circle cx="287.3" cy="148.7" r="2.6" fill="url(#gt)"/>
<line x1="367.2" y1="156.2" x2="374.1" y2="157.2" stroke="#9f99c0" stroke-width="1.6" stroke-linecap="round"/>
<circle cx="367.2" cy="156.2" r="2.7" fill="url(#gb)"/>
<line x1="318.6" y1="159.4" x2="322.9" y2="155.7" stroke="#9f99c0" stroke-width="1.6" stroke-linecap="round"/>
<circle cx="318.6" cy="159.4" r="2.4" fill="url(#gb)"/>
<line x1="331.8" y1="155.8" x2="326.1" y2="157.4" stroke="#9f99c0" stroke-width="1.6" stroke-linecap="round"/>
<circle cx="331.8" cy="155.8" r="2.5" fill="url(#gb)"/>
<line x1="263.2" y1="155.6" x2="256.3" y2="152.7" stroke="#9f99c0" stroke-width="1.6" stroke-linecap="round"/>
<circle cx="263.2" cy="155.6" r="2.6" fill="url(#gb)"/>
<line x1="308.3" y1="146.6" x2="315.4" y2="144.9" stroke="#9f99c0" stroke-width="1.6" stroke-linecap="round"/>
<circle cx="308.3" cy="146.6" r="2.9" fill="url(#gb)"/>
<line x1="317.8" y1="145.9" x2="323.9" y2="142.4" stroke="#9f99c0" stroke-width="1.6" stroke-linecap="round"/>
<circle cx="317.8" cy="145.9" r="2.9" fill="url(#gb)"/>
<line x1="300.1" y1="153.6" x2="305.5" y2="153.9" stroke="#9f99c0" stroke-width="1.6" stroke-linecap="round"/>
<circle cx="300.1" cy="153.6" r="2.9" fill="url(#gb)"/>
<line x1="294.9" y1="158.1" x2="293.9" y2="164.6" stroke="#9f99c0" stroke-width="1.6" stroke-linecap="round"/>
<circle cx="294.9" cy="158.1" r="2.7" fill="url(#gb)"/>
<line x1="274.1" y1="156.3" x2="270.2" y2="149.9" stroke="#9f99c0" stroke-width="1.6" stroke-linecap="round"/>
<circle cx="274.1" cy="156.3" r="2.5" fill="url(#gb)"/>
<line x1="271.2" y1="155.9" x2="277.2" y2="156.4" stroke="#9f99c0" stroke-width="1.6" stroke-linecap="round"/>
<circle cx="271.2" cy="155.9" r="2.9" fill="url(#gb)"/>
<line x1="261.9" y1="150.4" x2="259.7" y2="144.7" stroke="#9f99c0" stroke-width="1.6" stroke-linecap="round"/>
<circle cx="261.9" cy="150.4" r="2.8" fill="url(#gb)"/>
<line x1="299.3" y1="154.7" x2="306.6" y2="153.8" stroke="#9f99c0" stroke-width="1.6" stroke-linecap="round"/>
<circle cx="299.3" cy="154.7" r="2.6" fill="url(#gb)"/>
<line x1="362.1" y1="156.0" x2="355.5" y2="159.3" stroke="#9f99c0" stroke-width="1.6" stroke-linecap="round"/>
<circle cx="362.1" cy="156.0" r="2.4" fill="url(#gb)"/>
<line x1="286.9" y1="153.8" x2="294.4" y2="155.1" stroke="#9f99c0" stroke-width="1.6" stroke-linecap="round"/>
<circle cx="286.9" cy="153.8" r="2.8" fill="url(#gb)"/>
<line x1="344.9" y1="157.6" x2="340.2" y2="155.5" stroke="#9f99c0" stroke-width="1.6" stroke-linecap="round"/>
<circle cx="344.9" cy="157.6" r="2.8" fill="url(#gb)"/>
<line x1="356.0" y1="150.1" x2="362.5" y2="147.8" stroke="#9f99c0" stroke-width="1.6" stroke-linecap="round"/>
<circle cx="356.0" cy="150.1" r="2.5" fill="url(#gt)"/>
<line x1="379.3" y1="151.1" x2="385.6" y2="148.6" stroke="#9f99c0" stroke-width="1.6" stroke-linecap="round"/>
<circle cx="379.3" cy="151.1" r="2.5" fill="url(#gb)"/>
<line x1="314.5" y1="155.9" x2="319.9" y2="158.5" stroke="#9f99c0" stroke-width="1.6" stroke-linecap="round"/>
<circle cx="314.5" cy="155.9" r="2.5" fill="url(#gb)"/>
<line x1="346.9" y1="145.8" x2="353.0" y2="148.4" stroke="#9f99c0" stroke-width="1.6" stroke-linecap="round"/>
<circle cx="346.9" cy="145.8" r="2.8" fill="url(#gb)"/>
<line x1="264.6" y1="145.8" x2="269.7" y2="146.4" stroke="#9f99c0" stroke-width="1.6" stroke-linecap="round"/>
<circle cx="264.6" cy="145.8" r="2.8" fill="url(#gt)"/>
<line x1="254.8" y1="157.5" x2="260.8" y2="153.9" stroke="#9f99c0" stroke-width="1.6" stroke-linecap="round"/>
<circle cx="254.8" cy="157.5" r="2.5" fill="url(#gt)"/>
<line x1="354.9" y1="149.0" x2="349.1" y2="150.0" stroke="#9f99c0" stroke-width="1.6" stroke-linecap="round"/>
<circle cx="354.9" cy="149.0" r="2.5" fill="url(#gb)"/>
<line x1="254.1" y1="150.6" x2="259.0" y2="148.6" stroke="#9f99c0" stroke-width="1.6" stroke-linecap="round"/>
<circle cx="254.1" cy="150.6" r="2.5" fill="url(#gb)"/>
<line x1="277.1" y1="154.8" x2="281.5" y2="150.3" stroke="#9f99c0" stroke-width="1.6" stroke-linecap="round"/>
<circle cx="277.1" cy="154.8" r="2.8" fill="url(#gb)"/>
<line x1="284.2" y1="159.7" x2="290.8" y2="159.5" stroke="#9f99c0" stroke-width="1.6" stroke-linecap="round"/>
<circle cx="284.2" cy="159.7" r="2.7" fill="url(#gb)"/>
<line x1="369.8" y1="149.0" x2="374.9" y2="148.4" stroke="#9f99c0" stroke-width="1.6" stroke-linecap="round"/>
<circle cx="369.8" cy="149.0" r="2.7" fill="url(#gb)"/>
<line x1="320.9" y1="151.6" x2="315.2" y2="149.5" stroke="#9f99c0" stroke-width="1.6" stroke-linecap="round"/>
<circle cx="320.9" cy="151.6" r="2.6" fill="url(#gb)"/>
<line x1="263.9" y1="154.0" x2="257.0" y2="157.9" stroke="#9f99c0" stroke-width="1.6" stroke-linecap="round"/>
<circle cx="263.9" cy="154.0" r="2.5" fill="url(#gb)"/>
<line x1="320.0" y1="150.6" x2="314.8" y2="150.0" stroke="#9f99c0" stroke-width="1.6" stroke-linecap="round"/>
<circle cx="320.0" cy="150.6" r="2.9" fill="url(#gb)"/>
<line x1="253.8" y1="147.7" x2="246.1" y2="148.2" stroke="#9f99c0" stroke-width="1.6" stroke-linecap="round"/>
<circle cx="253.8" cy="147.7" r="2.9" fill="url(#gb)"/>
<line x1="324.2" y1="146.0" x2="329.4" y2="148.4" stroke="#9f99c0" stroke-width="1.6" stroke-linecap="round"/>
<circle cx="324.2" cy="146.0" r="2.8" fill="url(#gb)"/>
<line x1="375.5" y1="156.7" x2="382.4" y2="156.3" stroke="#9f99c0" stroke-width="1.6" stroke-linecap="round"/>
<circle cx="375.5" cy="156.7" r="2.9" fill="url(#gt)"/>
<line x1="347.2" y1="161.6" x2="347.5" y2="167.2" stroke="#9f99c0" stroke-width="1.6" stroke-linecap="round"/>
<circle cx="347.2" cy="161.6" r="2.6" fill="url(#gb)"/>
<line x1="321.1" y1="162.6" x2="314.3" y2="159.9" stroke="#9f99c0" stroke-width="1.6" stroke-linecap="round"/>
<circle cx="321.1" cy="162.6" r="2.8" fill="url(#gt)"/>
<line x1="256.5" y1="159.4" x2="249.0" y2="158.1" stroke="#9f99c0" stroke-width="1.6" stroke-linecap="round"/>
<circle cx="256.5" cy="159.4" r="2.8" fill="url(#gb)"/>
<line x1="381.9" y1="159.5" x2="381.7" y2="154.2" stroke="#9f99c0" stroke-width="1.6" stroke-linecap="round"/>
<circle cx="381.9" cy="159.5" r="2.6" fill="url(#gt)"/>
<line x1="342.3" y1="160.6" x2="348.5" y2="159.7" stroke="#9f99c0" stroke-width="1.6" stroke-linecap="round"/>
<circle cx="342.3" cy="160.6" r="2.7" fill="url(#gb)"/>
<line x1="256.6" y1="155.6" x2="251.2" y2="154.5" stroke="#9f99c0" stroke-width="1.6" stroke-linecap="round"/>
<circle cx="256.6" cy="155.6" r="2.4" fill="url(#gb)"/>
<line x1="290.3" y1="160.2" x2="297.1" y2="159.3" stroke="#9f99c0" stroke-width="1.6" stroke-linecap="round"/>
<circle cx="290.3" cy="160.2" r="2.7" fill="url(#gb)"/>
<line x1="346.7" y1="153.9" x2="352.4" y2="154.5" stroke="#9f99c0" stroke-width="1.6" stroke-linecap="round"/>
<circle cx="346.7" cy="153.9" r="2.5" fill="url(#gt)"/>
<line x1="299.5" y1="156.0" x2="306.6" y2="152.8" stroke="#9f99c0" stroke-width="1.6" stroke-linecap="round"/>
<circle cx="299.5" cy="156.0" r="2.7" fill="url(#gt)"/>
<line x1="318.0" y1="154.0" x2="312.9" y2="151.8" stroke="#9f99c0" stroke-width="1.6" stroke-linecap="round"/>
<circle cx="318.0" cy="154.0" r="2.5" fill="url(#gb)"/>
<line x1="262.3" y1="160.6" x2="256.1" y2="161.4" stroke="#9f99c0" stroke-width="1.6" stroke-linecap="round"/>
<circle cx="262.3" cy="160.6" r="2.5" fill="url(#gb)"/>
<line x1="273.5" y1="151.6" x2="270.1" y2="156.3" stroke="#9f99c0" stroke-width="1.6" stroke-linecap="round"/>
<circle cx="273.5" cy="151.6" r="2.4" fill="url(#gb)"/>
<line x1="370.3" y1="149.3" x2="373.6" y2="153.6" stroke="#9f99c0" stroke-width="1.6" stroke-linecap="round"/>
<circle cx="370.3" cy="149.3" r="2.8" fill="url(#gb)"/>
<line x1="382.5" y1="159.5" x2="377.3" y2="160.8" stroke="#9f99c0" stroke-width="1.6" stroke-linecap="round"/>
<circle cx="382.5" cy="159.5" r="2.5" fill="url(#gb)"/>
<polygon points="518,25 645,25 643,39 516,39" fill="#d8d8b4"/>
<polygon points="518,84 645,84 643,100 516,100" fill="#d8d8b4"/>
<polygon points="518,142 645,142 643,158 516,158" fill="#d8d8b4"/>
<polygon points="518,193 645,193 643,211 516,211" fill="#d8d8b4"/>
<line x1="600.5" y1="48.7" x2="608.7" y2="47.8" stroke="#9f99c0" stroke-width="1.8" stroke-linecap="round"/>
<circle cx="600.5" cy="48.7" r="2.8" fill="url(#gb)"/>
<line x1="528.7" y1="42.2" x2="537.4" y2="43.8" stroke="#9f99c0" stroke-width="1.8" stroke-linecap="round"/>
<circle cx="528.7" cy="42.2" r="3.0" fill="url(#gb)"/>
<line x1="571.8" y1="73.5" x2="578.0" y2="77.2" stroke="#9f99c0" stroke-width="1.8" stroke-linecap="round"/>
<circle cx="571.8" cy="73.5" r="2.7" fill="url(#gb)"/>
<line x1="609.5" y1="56.9" x2="616.1" y2="58.6" stroke="#9f99c0" stroke-width="1.8" stroke-linecap="round"/>
<circle cx="609.5" cy="56.9" r="2.7" fill="url(#gb)"/>
<line x1="615.0" y1="73.4" x2="618.4" y2="81.2" stroke="#9f99c0" stroke-width="1.8" stroke-linecap="round"/>
<circle cx="615.0" cy="73.4" r="2.8" fill="url(#gb)"/>
<line x1="617.0" y1="46.5" x2="622.3" y2="40.7" stroke="#9f99c0" stroke-width="1.8" stroke-linecap="round"/>
<circle cx="617.0" cy="46.5" r="2.8" fill="url(#gb)"/>
<line x1="642.6" y1="77.9" x2="650.5" y2="77.9" stroke="#9f99c0" stroke-width="1.8" stroke-linecap="round"/>
<circle cx="642.6" cy="77.9" r="3.0" fill="url(#gb)"/>
<line x1="642.8" y1="47.7" x2="635.9" y2="45.4" stroke="#9f99c0" stroke-width="1.8" stroke-linecap="round"/>
<circle cx="642.8" cy="47.7" r="2.9" fill="url(#gb)"/>
<line x1="592.4" y1="50.3" x2="601.3" y2="49.8" stroke="#9f99c0" stroke-width="1.8" stroke-linecap="round"/>
<circle cx="592.4" cy="50.3" r="3.0" fill="url(#gb)"/>
<line x1="550.7" y1="56.6" x2="557.2" y2="54.1" stroke="#9f99c0" stroke-width="1.8" stroke-linecap="round"/>
<circle cx="550.7" cy="56.6" r="2.9" fill="url(#gb)"/>
<line x1="516.1" y1="42.0" x2="523.7" y2="41.8" stroke="#9f99c0" stroke-width="1.8" stroke-linecap="round"/>
<circle cx="516.1" cy="42.0" r="2.5" fill="url(#gt)"/>
<line x1="519.6" y1="59.2" x2="522.8" y2="65.9" stroke="#9f99c0" stroke-width="1.8" stroke-linecap="round"/>
<circle cx="519.6" cy="59.2" r="2.8" fill="url(#gb)"/>
<line x1="604.7" y1="52.7" x2="613.5" y2="53.1" stroke="#9f99c0" stroke-width="1.8" stroke-linecap="round"/>
<circle cx="604.7" cy="52.7" r="2.9" fill="url(#gb)"/>
<line x1="602.5" y1="80.3" x2="594.0" y2="81.1" stroke="#9f99c0" stroke-width="1.8" stroke-linecap="round"/>
<circle cx="602.5" cy="80.3" r="2.5" fill="url(#gt)"/>
<line x1="588.0" y1="49.8" x2="581.7" y2="50.8" stroke="#9f99c0" stroke-width="1.8" stroke-linecap="round"/>
<circle cx="588.0" cy="49.8" r="3.1" fill="url(#gb)"/>
<line x1="605.3" y1="52.2" x2="612.1" y2="56.3" stroke="#9f99c0" stroke-width="1.8" stroke-linecap="round"/>
<circle cx="605.3" cy="52.2" r="2.6" fill="url(#gb)"/>
<line x1="578.8" y1="46.0" x2="582.2" y2="51.3" stroke="#9f99c0" stroke-width="1.8" stroke-linecap="round"/>
<circle cx="578.8" cy="46.0" r="2.8" fill="url(#gb)"/>
<line x1="608.5" y1="76.4" x2="615.4" y2="79.9" stroke="#9f99c0" stroke-width="1.8" stroke-linecap="round"/>
<circle cx="608.5" cy="76.4" r="2.9" fill="url(#gb)"/>
<line x1="629.9" y1="69.1" x2="635.9" y2="70.0" stroke="#9f99c0" stroke-width="1.8" stroke-linecap="round"/>
<circle cx="629.9" cy="69.1" r="2.8" fill="url(#gb)"/>
<line x1="578.9" y1="52.5" x2="585.6" y2="48.6" stroke="#9f99c0" stroke-width="1.8" stroke-linecap="round"/>
<circle cx="578.9" cy="52.5" r="2.7" fill="url(#gb)"/>
<line x1="606.0" y1="81.6" x2="612.8" y2="82.5" stroke="#9f99c0" stroke-width="1.8" stroke-linecap="round"/>
<circle cx="606.0" cy="81.6" r="2.8" fill="url(#gb)"/>
<line x1="642.8" y1="69.4" x2="646.7" y2="64.4" stroke="#9f99c0" stroke-width="1.8" stroke-linecap="round"/>
<circle cx="642.8" cy="69.4" r="2.6" fill="url(#gb)"/>
<line x1="608.6" y1="63.3" x2="602.7" y2="65.5" stroke="#9f99c0" stroke-width="1.8" stroke-linecap="round"/>
<circle cx="608.6" cy="63.3" r="2.9" fill="url(#gb)"/>
<line x1="546.4" y1="47.9" x2="551.8" y2="50.6" stroke="#9f99c0" stroke-width="1.8" stroke-linecap="round"/>
<circle cx="546.4" cy="47.9" r="2.7" fill="url(#gb)"/>
<line x1="632.9" y1="61.3" x2="626.5" y2="60.8" stroke="#9f99c0" stroke-width="1.8" stroke-linecap="round"/>
<circle cx="632.9" cy="61.3" r="2.5" fill="url(#gt)"/>
<line x1="559.9" y1="49.3" x2="551.8" y2="51.0" stroke="#9f99c0" stroke-width="1.8" stroke-linecap="round"/>
<circle cx="559.9" cy="49.3" r="2.7" fill="url(#gb)"/>
<line x1="530.4" y1="43.5" x2="524.4" y2="41.0" stroke="#9f99c0" stroke-width="1.8" stroke-linecap="round"/>
<circle cx="530.4" cy="43.5" r="3.1" fill="url(#gb)"/>
<line x1="581.3" y1="54.3" x2="587.6" y2="52.6" stroke="#9f99c0" stroke-width="1.8" stroke-linecap="round"/>
<circle cx="581.3" cy="54.3" r="2.8" fill="url(#gb)"/>
<line x1="576.4" y1="49.2" x2="570.2" y2="46.7" stroke="#9f99c0" stroke-width="1.8" stroke-linecap="round"/>
<circle cx="576.4" cy="49.2" r="2.5" fill="url(#gt)"/>
<line x1="627.4" y1="62.6" x2="620.9" y2="62.2" stroke="#9f99c0" stroke-width="1.8" stroke-linecap="round"/>
<circle cx="627.4" cy="62.6" r="2.8" fill="url(#gb)"/>
<line x1="614.2" y1="72.4" x2="607.9" y2="72.6" stroke="#9f99c0" stroke-width="1.8" stroke-linecap="round"/>
<circle cx="614.2" cy="72.4" r="2.7" fill="url(#gb)"/>
<line x1="538.4" y1="75.1" x2="534.1" y2="80.0" stroke="#9f99c0" stroke-width="1.8" stroke-linecap="round"/>
<circle cx="538.4" cy="75.1" r="2.8" fill="url(#gb)"/>
<line x1="644.6" y1="66.2" x2="638.2" y2="61.7" stroke="#9f99c0" stroke-width="1.8" stroke-linecap="round"/>
<circle cx="644.6" cy="66.2" r="2.5" fill="url(#gt)"/>
<line x1="617.6" y1="66.3" x2="611.7" y2="70.3" stroke="#9f99c0" stroke-width="1.8" stroke-linecap="round"/>
<circle cx="617.6" cy="66.3" r="2.9" fill="url(#gb)"/>
<line x1="570.2" y1="56.6" x2="578.2" y2="57.2" stroke="#9f99c0" stroke-width="1.8" stroke-linecap="round"/>
<circle cx="570.2" cy="56.6" r="2.7" fill="url(#gb)"/>
<line x1="536.3" y1="53.5" x2="544.5" y2="51.7" stroke="#9f99c0" stroke-width="1.8" stroke-linecap="round"/>
<circle cx="536.3" cy="53.5" r="2.7" fill="url(#gb)"/>
<line x1="637.6" y1="54.1" x2="631.0" y2="49.8" stroke="#9f99c0" stroke-width="1.8" stroke-linecap="round"/>
<circle cx="637.6" cy="54.1" r="2.9" fill="url(#gb)"/>
<line x1="586.5" y1="73.1" x2="580.0" y2="74.3" stroke="#9f99c0" stroke-width="1.8" stroke-linecap="round"/>
<circle cx="586.5" cy="73.1" r="2.8" fill="url(#gb)"/>
<line x1="554.4" y1="59.0" x2="562.6" y2="60.6" stroke="#9f99c0" stroke-width="1.8" stroke-linecap="round"/>
<circle cx="554.4" cy="59.0" r="2.9" fill="url(#gb)"/>
<line x1="559.0" y1="49.7" x2="552.0" y2="51.9" stroke="#9f99c0" stroke-width="1.8" stroke-linecap="round"/>
<circle cx="559.0" cy="49.7" r="2.5" fill="url(#gt)"/>
<line x1="580.4" y1="54.7" x2="587.8" y2="59.5" stroke="#9f99c0" stroke-width="1.8" stroke-linecap="round"/>
<circle cx="580.4" cy="54.7" r="2.8" fill="url(#gb)"/>
<line x1="630.6" y1="65.0" x2="637.1" y2="69.1" stroke="#9f99c0" stroke-width="1.8" stroke-linecap="round"/>
<circle cx="630.6" cy="65.0" r="2.5" fill="url(#gt)"/>
<line x1="528.8" y1="45.7" x2="537.7" y2="46.5" stroke="#9f99c0" stroke-width="1.8" stroke-linecap="round"/>
<circle cx="528.8" cy="45.7" r="3.0" fill="url(#gb)"/>
<line x1="616.0" y1="67.8" x2="612.4" y2="61.2" stroke="#9f99c0" stroke-width="1.8" stroke-linecap="round"/>
<circle cx="616.0" cy="67.8" r="2.7" fill="url(#gb)"/>
<line x1="570.6" y1="62.6" x2="562.9" y2="59.0" stroke="#9f99c0" stroke-width="1.8" stroke-linecap="round"/>
<circle cx="570.6" cy="62.6" r="3.0" fill="url(#gb)"/>
<line x1="528.2" y1="47.8" x2="533.9" y2="44.9" stroke="#9f99c0" stroke-width="1.8" stroke-linecap="round"/>
<circle cx="528.2" cy="47.8" r="2.5" fill="url(#gt)"/>
<line x1="538.3" y1="65.0" x2="544.1" y2="69.4" stroke="#9f99c0" stroke-width="1.8" stroke-linecap="round"/>
<circle cx="538.3" cy="65.0" r="2.8" fill="url(#gb)"/>
<line x1="581.0" y1="57.1" x2="588.5" y2="55.0" stroke="#9f99c0" stroke-width="1.8" stroke-linecap="round"/>
<circle cx="581.0" cy="57.1" r="3.0" fill="url(#gb)"/>
<line x1="604.0" y1="58.5" x2="610.3" y2="54.7" stroke="#9f99c0" stroke-width="1.8" stroke-linecap="round"/>
<circle cx="604.0" cy="58.5" r="2.6" fill="url(#gb)"/>
<line x1="588.3" y1="65.9" x2="595.4" y2="61.1" stroke="#9f99c0" stroke-width="1.8" stroke-linecap="round"/>
<circle cx="588.3" cy="65.9" r="3.1" fill="url(#gb)"/>
<line x1="566.1" y1="48.4" x2="569.8" y2="56.0" stroke="#9f99c0" stroke-width="1.8" stroke-linecap="round"/>
<circle cx="566.1" cy="48.4" r="3.0" fill="url(#gb)"/>
<line x1="639.7" y1="50.3" x2="634.2" y2="47.4" stroke="#9f99c0" stroke-width="1.8" stroke-linecap="round"/>
<circle cx="639.7" cy="50.3" r="2.5" fill="url(#gt)"/>
<line x1="516.7" y1="75.7" x2="524.9" y2="77.2" stroke="#9f99c0" stroke-width="1.8" stroke-linecap="round"/>
<circle cx="516.7" cy="75.7" r="3.0" fill="url(#gb)"/>
<line x1="573.7" y1="60.3" x2="582.3" y2="60.3" stroke="#9f99c0" stroke-width="1.8" stroke-linecap="round"/>
<circle cx="573.7" cy="60.3" r="3.1" fill="url(#gb)"/>
<line x1="644.3" y1="69.9" x2="651.8" y2="74.2" stroke="#9f99c0" stroke-width="1.8" stroke-linecap="round"/>
<circle cx="644.3" cy="69.9" r="2.9" fill="url(#gb)"/>
<line x1="604.3" y1="51.0" x2="597.9" y2="52.0" stroke="#9f99c0" stroke-width="1.8" stroke-linecap="round"/>
<circle cx="604.3" cy="51.0" r="2.8" fill="url(#gb)"/>
<line x1="593.9" y1="75.6" x2="585.8" y2="77.1" stroke="#9f99c0" stroke-width="1.8" stroke-linecap="round"/>
<circle cx="593.9" cy="75.6" r="2.8" fill="url(#gb)"/>
<line x1="540.6" y1="74.7" x2="548.6" y2="72.9" stroke="#9f99c0" stroke-width="1.8" stroke-linecap="round"/>
<circle cx="540.6" cy="74.7" r="3.0" fill="url(#gb)"/>
<line x1="556.0" y1="60.1" x2="562.0" y2="63.5" stroke="#9f99c0" stroke-width="1.8" stroke-linecap="round"/>
<circle cx="556.0" cy="60.1" r="2.6" fill="url(#gb)"/>
<line x1="561.3" y1="63.2" x2="557.1" y2="71.0" stroke="#9f99c0" stroke-width="1.8" stroke-linecap="round"/>
<circle cx="561.3" cy="63.2" r="2.5" fill="url(#gt)"/>
<line x1="545.5" y1="60.4" x2="553.6" y2="57.4" stroke="#9f99c0" stroke-width="1.8" stroke-linecap="round"/>
<circle cx="545.5" cy="60.4" r="3.0" fill="url(#gb)"/>
<line x1="583.3" y1="44.0" x2="591.8" y2="43.0" stroke="#9f99c0" stroke-width="1.8" stroke-linecap="round"/>
<circle cx="583.3" cy="44.0" r="2.6" fill="url(#gb)"/>
<line x1="570.9" y1="58.5" x2="576.7" y2="56.5" stroke="#9f99c0" stroke-width="1.8" stroke-linecap="round"/>
<circle cx="570.9" cy="58.5" r="2.6" fill="url(#gb)"/>
<line x1="570.4" y1="63.9" x2="576.5" y2="62.9" stroke="#9f99c0" stroke-width="1.8" stroke-linecap="round"/>
<circle cx="570.4" cy="63.9" r="2.8" fill="url(#gb)"/>
<line x1="592.8" y1="73.9" x2="601.0" y2="74.2" stroke="#9f99c0" stroke-width="1.8" stroke-linecap="round"/>
<circle cx="592.8" cy="73.9" r="2.5" fill="url(#gt)"/>
<line x1="536.7" y1="51.5" x2="529.3" y2="52.8" stroke="#9f99c0" stroke-width="1.8" stroke-linecap="round"/>
<circle cx="536.7" cy="51.5" r="2.8" fill="url(#gb)"/>
<line x1="519.2" y1="46.1" x2="525.2" y2="42.9" stroke="#9f99c0" stroke-width="1.8" stroke-linecap="round"/>
<circle cx="519.2" cy="46.1" r="2.8" fill="url(#gb)"/>
<line x1="567.5" y1="80.7" x2="573.1" y2="87.6" stroke="#9f99c0" stroke-width="1.8" stroke-linecap="round"/>
<circle cx="567.5" cy="80.7" r="2.8" fill="url(#gb)"/>
<line x1="634.4" y1="75.5" x2="641.9" y2="71.4" stroke="#9f99c0" stroke-width="1.8" stroke-linecap="round"/>
<circle cx="634.4" cy="75.5" r="3.0" fill="url(#gb)"/>
<line x1="586.9" y1="64.3" x2="580.5" y2="65.3" stroke="#9f99c0" stroke-width="1.8" stroke-linecap="round"/>
<circle cx="586.9" cy="64.3" r="3.1" fill="url(#gb)"/>
<line x1="590.3" y1="47.8" x2="596.8" y2="50.4" stroke="#9f99c0" stroke-width="1.8" stroke-linecap="round"/>
<circle cx="590.3" cy="47.8" r="2.8" fill="url(#gb)"/>
<line x1="634.0" y1="57.1" x2="641.2" y2="55.3" stroke="#9f99c0" stroke-width="1.8" stroke-linecap="round"/>
<circle cx="634.0" cy="57.1" r="2.8" fill="url(#gb)"/>
<line x1="638.8" y1="65.5" x2="645.1" y2="65.4" stroke="#9f99c0" stroke-width="1.8" stroke-linecap="round"/>
<circle cx="638.8" cy="65.5" r="2.8" fill="url(#gb)"/>
<line x1="632.9" y1="79.4" x2="640.4" y2="79.9" stroke="#9f99c0" stroke-width="1.8" stroke-linecap="round"/>
<circle cx="632.9" cy="79.4" r="2.5" fill="url(#gt)"/>
<line x1="540.0" y1="57.4" x2="531.3" y2="56.4" stroke="#9f99c0" stroke-width="1.8" stroke-linecap="round"/>
<circle cx="540.0" cy="57.4" r="3.1" fill="url(#gb)"/>
<line x1="635.8" y1="75.2" x2="642.9" y2="79.0" stroke="#9f99c0" stroke-width="1.8" stroke-linecap="round"/>
<circle cx="635.8" cy="75.2" r="2.8" fill="url(#gb)"/>
<line x1="602.7" y1="53.8" x2="595.3" y2="48.9" stroke="#9f99c0" stroke-width="1.8" stroke-linecap="round"/>
<circle cx="602.7" cy="53.8" r="3.1" fill="url(#gb)"/>
<line x1="602.9" y1="46.0" x2="610.2" y2="46.4" stroke="#9f99c0" stroke-width="1.8" stroke-linecap="round"/>
<circle cx="602.9" cy="46.0" r="2.5" fill="url(#gt)"/>
<line x1="552.7" y1="78.3" x2="559.2" y2="80.4" stroke="#9f99c0" stroke-width="1.8" stroke-linecap="round"/>
<circle cx="552.7" cy="78.3" r="2.9" fill="url(#gb)"/>
<line x1="585.3" y1="68.5" x2="589.3" y2="73.8" stroke="#9f99c0" stroke-width="1.8" stroke-linecap="round"/>
<circle cx="585.3" cy="68.5" r="3.1" fill="url(#gb)"/>
<line x1="545.9" y1="80.4" x2="550.5" y2="73.3" stroke="#9f99c0" stroke-width="1.8" stroke-linecap="round"/>
<circle cx="545.9" cy="80.4" r="3.0" fill="url(#gb)"/>
<line x1="590.8" y1="45.0" x2="594.0" y2="39.7" stroke="#9f99c0" stroke-width="1.8" stroke-linecap="round"/>
<circle cx="590.8" cy="45.0" r="2.6" fill="url(#gb)"/>
<line x1="612.4" y1="61.5" x2="604.9" y2="64.1" stroke="#9f99c0" stroke-width="1.8" stroke-linecap="round"/>
<circle cx="612.4" cy="61.5" r="2.9" fill="url(#gb)"/>
<line x1="607.6" y1="56.7" x2="614.7" y2="58.7" stroke="#9f99c0" stroke-width="1.8" stroke-linecap="round"/>
<circle cx="607.6" cy="56.7" r="3.0" fill="url(#gb)"/>
<line x1="543.1" y1="60.0" x2="535.1" y2="63.6" stroke="#9f99c0" stroke-width="1.8" stroke-linecap="round"/>
<circle cx="543.1" cy="60.0" r="3.1" fill="url(#gb)"/>
<line x1="626.3" y1="47.5" x2="619.2" y2="42.9" stroke="#9f99c0" stroke-width="1.8" stroke-linecap="round"/>
<circle cx="626.3" cy="47.5" r="2.7" fill="url(#gb)"/>
<line x1="604.5" y1="70.2" x2="598.3" y2="71.3" stroke="#9f99c0" stroke-width="1.8" stroke-linecap="round"/>
<circle cx="604.5" cy="70.2" r="2.8" fill="url(#gb)"/>
<line x1="603.7" y1="44.2" x2="599.5" y2="36.8" stroke="#9f99c0" stroke-width="1.8" stroke-linecap="round"/>
<circle cx="603.7" cy="44.2" r="2.9" fill="url(#gb)"/>
<line x1="642.7" y1="74.5" x2="636.2" y2="73.7" stroke="#9f99c0" stroke-width="1.8" stroke-linecap="round"/>
<circle cx="642.7" cy="74.5" r="2.9" fill="url(#gb)"/>
<line x1="626.5" y1="56.6" x2="623.1" y2="63.3" stroke="#9f99c0" stroke-width="1.8" stroke-linecap="round"/>
<circle cx="626.5" cy="56.6" r="2.5" fill="url(#gt)"/>
<line x1="580.0" y1="49.9" x2="582.2" y2="58.3" stroke="#9f99c0" stroke-width="1.8" stroke-linecap="round"/>
<circle cx="580.0" cy="49.9" r="2.5" fill="url(#gt)"/>
<line x1="599.7" y1="70.3" x2="606.1" y2="72.9" stroke="#9f99c0" stroke-width="1.8" stroke-linecap="round"/>
<circle cx="599.7" cy="70.3" r="2.9" fill="url(#gb)"/>
<line x1="524.5" y1="132.9" x2="524.2" y2="125.4" stroke="#9f99c0" stroke-width="1.8" stroke-linecap="round"/>
<circle cx="524.5" cy="132.9" r="2.6" fill="url(#gb)"/>
<line x1="563.1" y1="92.2" x2="556.9" y2="89.0" stroke="#9f99c0" stroke-width="1.8" stroke-linecap="round"/>
<circle cx="563.1" cy="92.2" r="2.8" fill="url(#gb)"/>
<line x1="585.1" y1="110.4" x2="592.1" y2="112.1" stroke="#9f99c0" stroke-width="1.8" stroke-linecap="round"/>
<circle cx="585.1" cy="110.4" r="2.8" fill="url(#gb)"/>
<line x1="634.0" y1="136.6" x2="640.9" y2="136.5" stroke="#9f99c0" stroke-width="1.8" stroke-linecap="round"/>
<circle cx="634.0" cy="136.6" r="2.7" fill="url(#gb)"/>
<line x1="565.8" y1="107.0" x2="559.1" y2="104.2" stroke="#9f99c0" stroke-width="1.8" stroke-linecap="round"/>
<circle cx="565.8" cy="107.0" r="2.7" fill="url(#gb)"/>
<line x1="577.2" y1="108.8" x2="585.1" y2="111.9" stroke="#9f99c0" stroke-width="1.8" stroke-linecap="round"/>
<circle cx="577.2" cy="108.8" r="2.8" fill="url(#gb)"/>
<line x1="613.0" y1="91.1" x2="619.9" y2="92.0" stroke="#9f99c0" stroke-width="1.8" stroke-linecap="round"/>
<circle cx="613.0" cy="91.1" r="2.5" fill="url(#gt)"/>
<line x1="603.7" y1="134.4" x2="611.2" y2="130.3" stroke="#9f99c0" stroke-width="1.8" stroke-linecap="round"/>
<circle cx="603.7" cy="134.4" r="2.7" fill="url(#gb)"/>
<line x1="527.8" y1="118.5" x2="520.1" y2="121.2" stroke="#9f99c0" stroke-width="1.8" stroke-linecap="round"/>
<circle cx="527.8" cy="118.5" r="2.5" fill="url(#gt)"/>
<line x1="593.2" y1="130.4" x2="594.2" y2="122.3" stroke="#9f99c0" stroke-width="1.8" stroke-linecap="round"/>
<circle cx="593.2" cy="130.4" r="2.5" fill="url(#gt)"/>
<line x1="629.2" y1="114.3" x2="623.6" y2="111.2" stroke="#9f99c0" stroke-width="1.8" stroke-linecap="round"/>
<circle cx="629.2" cy="114.3" r="2.9" fill="url(#gb)"/>
<line x1="611.2" y1="124.4" x2="604.5" y2="120.8" stroke="#9f99c0" stroke-width="1.8" stroke-linecap="round"/>
<circle cx="611.2" cy="124.4" r="2.8" fill="url(#gb)"/>
<line x1="552.4" y1="104.1" x2="558.3" y2="103.1" stroke="#9f99c0" stroke-width="1.8" stroke-linecap="round"/>
<circle cx="552.4" cy="104.1" r="2.7" fill="url(#gb)"/>
<line x1="643.2" y1="126.8" x2="635.1" y2="127.1" stroke="#9f99c0" stroke-width="1.8" stroke-linecap="round"/>
<circle cx="643.2" cy="126.8" r="3.1" fill="url(#gb)"/>
<line x1="560.1" y1="109.1" x2="554.4" y2="111.1" stroke="#9f99c0" stroke-width="1.8" stroke-linecap="round"/>
<circle cx="560.1" cy="109.1" r="2.7" fill="url(#gb)"/>
<line x1="581.2" y1="110.6" x2="578.2" y2="117.6" stroke="#9f99c0" stroke-width="1.8" stroke-linecap="round"/>
<circle cx="581.2" cy="110.6" r="3.0" fill="url(#gb)"/>
<line x1="529.6" y1="91.5" x2="535.9" y2="93.5" stroke="#9f99c0" stroke-width="1.8" stroke-linecap="round"/>
<circle cx="529.6" cy="91.5" r="3.0" fill="url(#gb)"/>
<line x1="606.7" y1="130.8" x2="600.4" y2="130.8" stroke="#9f99c0" stroke-width="1.8" stroke-linecap="round"/>
<circle cx="606.7" cy="130.8" r="2.8" fill="url(#gb)"/>
<line x1="544.5" y1="114.1" x2="546.2" y2="122.0" stroke="#9f99c0" stroke-width="1.8" stroke-linecap="round"/>
<circle cx="544.5" cy="114.1" r="2.7" fill="url(#gb)"/>
<line x1="516.3" y1="134.9" x2="522.8" y2="136.9" stroke="#9f99c0" stroke-width="1.8" stroke-linecap="round"/>
<circle cx="516.3" cy="134.9" r="3.1" fill="url(#gb)"/>
<line x1="628.6" y1="101.0" x2="621.8" y2="101.5" stroke="#9f99c0" stroke-width="1.8" stroke-linecap="round"/>
<circle cx="628.6" cy="101.0" r="3.0" fill="url(#gb)"/>
<line x1="624.6" y1="102.0" x2="632.2" y2="102.1" stroke="#9f99c0" stroke-width="1.8" stroke-linecap="round"/>
<circle cx="624.6" cy="102.0" r="2.9" fill="url(#gb)"/>
<line x1="610.4" y1="136.4" x2="604.3" y2="139.3" stroke="#9f99c0" stroke-width="1.8" stroke-linecap="round"/>
<circle cx="610.4" cy="136.4" r="3.0" fill="url(#gb)"/>
<line x1="646.5" y1="115.0" x2="638.7" y2="113.5" stroke="#9f99c0" stroke-width="1.8" stroke-linecap="round"/>
<circle cx="646.5" cy="115.0" r="2.6" fill="url(#gb)"/>
<line x1="577.1" y1="125.3" x2="570.7" y2="123.5" stroke="#9f99c0" stroke-width="1.8" stroke-linecap="round"/>
<circle cx="577.1" cy="125.3" r="3.1" fill="url(#gb)"/>
<line x1="516.6" y1="96.2" x2="510.7" y2="91.6" stroke="#9f99c0" stroke-width="1.8" stroke-linecap="round"/>
<circle cx="516.6" cy="96.2" r="2.5" fill="url(#gt)"/>
<line x1="531.1" y1="121.5" x2="539.4" y2="122.9" stroke="#9f99c0" stroke-width="1.8" stroke-linecap="round"/>
<circle cx="531.1" cy="121.5" r="2.5" fill="url(#gt)"/>
<line x1="625.1" y1="96.7" x2="631.6" y2="96.9" stroke="#9f99c0" stroke-width="1.8" stroke-linecap="round"/>
<circle cx="625.1" cy="96.7" r="2.9" fill="url(#gb)"/>
<line x1="633.3" y1="122.5" x2="639.5" y2="125.0" stroke="#9f99c0" stroke-width="1.8" stroke-linecap="round"/>
<circle cx="633.3" cy="122.5" r="3.0" fill="url(#gb)"/>
<line x1="561.6" y1="92.8" x2="553.3" y2="94.9" stroke="#9f99c0" stroke-width="1.8" stroke-linecap="round"/>
<circle cx="561.6" cy="92.8" r="2.8" fill="url(#gb)"/>
<line x1="643.9" y1="127.1" x2="643.1" y2="133.2" stroke="#9f99c0" stroke-width="1.8" stroke-linecap="round"/>
<circle cx="643.9" cy="127.1" r="2.9" fill="url(#gb)"/>
<line x1="605.3" y1="136.7" x2="597.2" y2="138.0" stroke="#9f99c0" stroke-width="1.8" stroke-linecap="round"/>
<circle cx="605.3" cy="136.7" r="3.1" fill="url(#gb)"/>
<line x1="579.4" y1="100.2" x2="587.6" y2="103.3" stroke="#9f99c0" stroke-width="1.8" stroke-linecap="round"/>
<circle cx="579.4" cy="100.2" r="2.5" fill="url(#gt)"/>
<line x1="532.1" y1="120.5" x2="530.8" y2="113.1" stroke="#9f99c0" stroke-width="1.8" stroke-linecap="round"/>
<circle cx="532.1" cy="120.5" r="2.7" fill="url(#gb)"/>
<line x1="602.3" y1="95.3" x2="595.4" y2="92.1" stroke="#9f99c0" stroke-width="1.8" stroke-linecap="round"/>
<circle cx="602.3" cy="95.3" r="2.5" fill="url(#gt)"/>
<line x1="537.1" y1="103.5" x2="531.8" y2="107.0" stroke="#9f99c0" stroke-width="1.8" stroke-linecap="round"/>
<circle cx="537.1" cy="103.5" r="2.8" fill="url(#gb)"/>
<line x1="614.9" y1="96.7" x2="607.7" y2="96.1" stroke="#9f99c0" stroke-width="1.8" stroke-linecap="round"/>
<circle cx="614.9" cy="96.7" r="2.5" fill="url(#gt)"/>
<line x1="638.9" y1="100.1" x2="632.5" y2="103.5" stroke="#9f99c0" stroke-width="1.8" stroke-linecap="round"/>
<circle cx="638.9" cy="100.1" r="3.0" fill="url(#gb)"/>
<line x1="601.4" y1="107.2" x2="595.4" y2="104.0" stroke="#9f99c0" stroke-width="1.8" stroke-linecap="round"/>
<circle cx="601.4" cy="107.2" r="3.0" fill="url(#gb)"/>
<line x1="596.1" y1="104.2" x2="588.2" y2="100.2" stroke="#9f99c0" stroke-width="1.8" stroke-linecap="round"/>
<circle cx="596.1" cy="104.2" r="2.8" fill="url(#gb)"/>
<line x1="592.9" y1="102.6" x2="586.5" y2="100.4" stroke="#9f99c0" stroke-width="1.8" stroke-linecap="round"/>
<circle cx="592.9" cy="102.6" r="2.9" fill="url(#gb)"/>
<line x1="524.8" y1="99.4" x2="516.3" y2="101.1" stroke="#9f99c0" stroke-width="1.8" stroke-linecap="round"/>
<circle cx="524.8" cy="99.4" r="2.7" fill="url(#gb)"/>
<line x1="516.1" y1="120.8" x2="509.2" y2="119.8" stroke="#9f99c0" stroke-width="1.8" stroke-linecap="round"/>
<circle cx="516.1" cy="120.8" r="2.9" fill="url(#gb)"/>
<line x1="566.1" y1="117.9" x2="570.4" y2="112.9" stroke="#9f99c0" stroke-width="1.8" stroke-linecap="round"/>
<circle cx="566.1" cy="117.9" r="3.0" fill="url(#gb)"/>
<line x1="519.7" y1="108.0" x2="512.2" y2="105.7" stroke="#9f99c0" stroke-width="1.8" stroke-linecap="round"/>
<circle cx="519.7" cy="108.0" r="2.9" fill="url(#gb)"/>
<line x1="589.0" y1="123.2" x2="582.3" y2="124.9" stroke="#9f99c0" stroke-width="1.8" stroke-linecap="round"/>
<circle cx="589.0" cy="123.2" r="2.9" fill="url(#gb)"/>
<line x1="530.0" y1="135.9" x2="538.9" y2="135.6" stroke="#9f99c0" stroke-width="1.8" stroke-linecap="round"/>
<circle cx="530.0" cy="135.9" r="2.5" fill="url(#gt)"/>
<line x1="596.7" y1="124.0" x2="603.2" y2="124.3" stroke="#9f99c0" stroke-width="1.8" stroke-linecap="round"/>
<circle cx="596.7" cy="124.0" r="2.9" fill="url(#gb)"/>
<line x1="610.6" y1="118.7" x2="611.9" y2="112.4" stroke="#9f99c0" stroke-width="1.8" stroke-linecap="round"/>
<circle cx="610.6" cy="118.7" r="2.8" fill="url(#gb)"/>
<line x1="582.9" y1="115.7" x2="575.1" y2="114.9" stroke="#9f99c0" stroke-width="1.8" stroke-linecap="round"/>
<circle cx="582.9" cy="115.7" r="3.1" fill="url(#gb)"/>
<line x1="588.4" y1="127.6" x2="596.1" y2="127.6" stroke="#9f99c0" stroke-width="1.8" stroke-linecap="round"/>
<circle cx="588.4" cy="127.6" r="3.0" fill="url(#gb)"/>
<line x1="563.0" y1="97.2" x2="569.2" y2="98.1" stroke="#9f99c0" stroke-width="1.8" stroke-linecap="round"/>
<circle cx="563.0" cy="97.2" r="2.8" fill="url(#gb)"/>
<line x1="518.3" y1="119.0" x2="520.0" y2="110.9" stroke="#9f99c0" stroke-width="1.8" stroke-linecap="round"/>
<circle cx="518.3" cy="119.0" r="2.8" fill="url(#gb)"/>
<line x1="595.7" y1="121.1" x2="588.3" y2="118.1" stroke="#9f99c0" stroke-width="1.8" stroke-linecap="round"/>
<circle cx="595.7" cy="121.1" r="2.6" fill="url(#gb)"/>
<line x1="608.9" y1="111.0" x2="602.0" y2="111.9" stroke="#9f99c0" stroke-width="1.8" stroke-linecap="round"/>
<circle cx="608.9" cy="111.0" r="2.9" fill="url(#gb)"/>
<line x1="519.6" y1="97.5" x2="512.5" y2="92.7" stroke="#9f99c0" stroke-width="1.8" stroke-linecap="round"/>
<circle cx="519.6" cy="97.5" r="2.6" fill="url(#gb)"/>
<line x1="516.8" y1="137.9" x2="522.8" y2="141.7" stroke="#9f99c0" stroke-width="1.8" stroke-linecap="round"/>
<circle cx="516.8" cy="137.9" r="3.0" fill="url(#gb)"/>
<line x1="553.7" y1="128.5" x2="556.9" y2="121.5" stroke="#9f99c0" stroke-width="1.8" stroke-linecap="round"/>
<circle cx="553.7" cy="128.5" r="2.6" fill="url(#gb)"/>
<line x1="572.1" y1="99.2" x2="567.9" y2="105.8" stroke="#9f99c0" stroke-width="1.8" stroke-linecap="round"/>
<circle cx="572.1" cy="99.2" r="2.9" fill="url(#gb)"/>
<line x1="637.4" y1="101.7" x2="644.3" y2="99.4" stroke="#9f99c0" stroke-width="1.8" stroke-linecap="round"/>
<circle cx="637.4" cy="101.7" r="2.8" fill="url(#gb)"/>
<line x1="595.4" y1="103.2" x2="588.1" y2="105.6" stroke="#9f99c0" stroke-width="1.8" stroke-linecap="round"/>
<circle cx="595.4" cy="103.2" r="3.1" fill="url(#gb)"/>
<line x1="560.2" y1="102.5" x2="567.3" y2="103.4" stroke="#9f99c0" stroke-width="1.8" stroke-linecap="round"/>
<circle cx="560.2" cy="102.5" r="2.9" fill="url(#gb)"/>
<line x1="647.8" y1="109.3" x2="656.0" y2="109.9" stroke="#9f99c0" stroke-width="1.8" stroke-linecap="round"/>
<circle cx="647.8" cy="109.3" r="3.1" fill="url(#gb)"/>
<line x1="528.2" y1="138.4" x2="535.3" y2="142.9" stroke="#9f99c0" stroke-width="1.8" stroke-linecap="round"/>
<circle cx="528.2" cy="138.4" r="2.5" fill="url(#gt)"/>
<line x1="638.3" y1="95.2" x2="635.0" y2="101.5" stroke="#9f99c0" stroke-width="1.8" stroke-linecap="round"/>
<circle cx="638.3" cy="95.2" r="2.9" fill="url(#gb)"/>
<line x1="578.5" y1="130.2" x2="578.9" y2="136.3" stroke="#9f99c0" stroke-width="1.8" stroke-linecap="round"/>
<circle cx="578.5" cy="130.2" r="2.7" fill="url(#gb)"/>
<line x1="595.0" y1="113.3" x2="589.3" y2="116.7" stroke="#9f99c0" stroke-width="1.8" stroke-linecap="round"/>
<circle cx="595.0" cy="113.3" r="2.8" fill="url(#gb)"/>
<line x1="536.9" y1="126.9" x2="531.1" y2="130.0" stroke="#9f99c0" stroke-width="1.8" stroke-linecap="round"/>
<circle cx="536.9" cy="126.9" r="2.7" fill="url(#gb)"/>
<line x1="582.7" y1="123.7" x2="575.0" y2="119.1" stroke="#9f99c0" stroke-width="1.8" stroke-linecap="round"/>
<circle cx="582.7" cy="123.7" r="3.0" fill="url(#gb)"/>
<line x1="560.0" y1="138.8" x2="551.4" y2="141.5" stroke="#9f99c0" stroke-width="1.8" stroke-linecap="round"/>
<circle cx="560.0" cy="138.8" r="3.0" fill="url(#gb)"/>
<line x1="628.9" y1="95.4" x2="636.2" y2="98.1" stroke="#9f99c0" stroke-width="1.8" stroke-linecap="round"/>
<circle cx="628.9" cy="95.4" r="2.5" fill="url(#gt)"/>
<line x1="559.3" y1="112.6" x2="551.2" y2="113.2" stroke="#9f99c0" stroke-width="1.8" stroke-linecap="round"/>
<circle cx="559.3" cy="112.6" r="2.9" fill="url(#gb)"/>
<line x1="626.6" y1="128.5" x2="632.6" y2="133.1" stroke="#9f99c0" stroke-width="1.8" stroke-linecap="round"/>
<circle cx="626.6" cy="128.5" r="2.7" fill="url(#gb)"/>
<line x1="540.4" y1="117.5" x2="532.3" y2="121.1" stroke="#9f99c0" stroke-width="1.8" stroke-linecap="round"/>
<circle cx="540.4" cy="117.5" r="3.0" fill="url(#gb)"/>
<line x1="575.7" y1="127.7" x2="568.8" y2="128.5" stroke="#9f99c0" stroke-width="1.8" stroke-linecap="round"/>
<circle cx="575.7" cy="127.7" r="3.0" fill="url(#gb)"/>
<line x1="569.8" y1="93.4" x2="571.4" y2="101.6" stroke="#9f99c0" stroke-width="1.8" stroke-linecap="round"/>
<circle cx="569.8" cy="93.4" r="2.8" fill="url(#gb)"/>
<line x1="555.6" y1="130.6" x2="561.9" y2="126.5" stroke="#9f99c0" stroke-width="1.8" stroke-linecap="round"/>
<circle cx="555.6" cy="130.6" r="2.8" fill="url(#gb)"/>
<line x1="610.3" y1="116.5" x2="602.1" y2="116.6" stroke="#9f99c0" stroke-width="1.8" stroke-linecap="round"/>
<circle cx="610.3" cy="116.5" r="2.9" fill="url(#gb)"/>
<line x1="572.6" y1="119.2" x2="564.2" y2="120.3" stroke="#9f99c0" stroke-width="1.8" stroke-linecap="round"/>
<circle cx="572.6" cy="119.2" r="2.5" fill="url(#gt)"/>
<line x1="615.0" y1="96.7" x2="608.8" y2="94.7" stroke="#9f99c0" stroke-width="1.8" stroke-linecap="round"/>
<circle cx="615.0" cy="96.7" r="2.8" fill="url(#gb)"/>
<line x1="588.4" y1="113.0" x2="580.7" y2="113.3" stroke="#9f99c0" stroke-width="1.8" stroke-linecap="round"/>
<circle cx="588.4" cy="113.0" r="2.6" fill="url(#gb)"/>
<line x1="540.5" y1="115.6" x2="538.7" y2="122.9" stroke="#9f99c0" stroke-width="1.8" stroke-linecap="round"/>
<circle cx="540.5" cy="115.6" r="3.0" fill="url(#gb)"/>
<line x1="571.1" y1="121.2" x2="579.0" y2="124.6" stroke="#9f99c0" stroke-width="1.8" stroke-linecap="round"/>
<circle cx="571.1" cy="121.2" r="2.9" fill="url(#gb)"/>
<line x1="646.1" y1="130.6" x2="640.2" y2="128.5" stroke="#9f99c0" stroke-width="1.8" stroke-linecap="round"/>
<circle cx="646.1" cy="130.6" r="2.7" fill="url(#gb)"/>
<line x1="603.3" y1="102.2" x2="610.1" y2="101.6" stroke="#9f99c0" stroke-width="1.8" stroke-linecap="round"/>
<circle cx="603.3" cy="102.2" r="2.7" fill="url(#gb)"/>
<line x1="608.0" y1="133.4" x2="615.5" y2="129.1" stroke="#9f99c0" stroke-width="1.8" stroke-linecap="round"/>
<circle cx="608.0" cy="133.4" r="2.9" fill="url(#gb)"/>
<line x1="518.8" y1="117.1" x2="526.7" y2="116.6" stroke="#9f99c0" stroke-width="1.8" stroke-linecap="round"/>
<circle cx="518.8" cy="117.1" r="2.8" fill="url(#gb)"/>
<line x1="557.4" y1="130.6" x2="564.2" y2="129.5" stroke="#9f99c0" stroke-width="1.8" stroke-linecap="round"/>
<circle cx="557.4" cy="130.6" r="2.6" fill="url(#gb)"/>
<line x1="578.9" y1="136.6" x2="587.1" y2="135.2" stroke="#9f99c0" stroke-width="1.8" stroke-linecap="round"/>
<circle cx="578.9" cy="136.6" r="2.5" fill="url(#gt)"/>
<line x1="552.9" y1="90.9" x2="560.3" y2="89.6" stroke="#9f99c0" stroke-width="1.8" stroke-linecap="round"/>
<circle cx="552.9" cy="90.9" r="2.9" fill="url(#gb)"/>
<line x1="597.8" y1="136.7" x2="598.0" y2="129.7" stroke="#9f99c0" stroke-width="1.8" stroke-linecap="round"/>
<circle cx="597.8" cy="136.7" r="2.7" fill="url(#gb)"/>
<line x1="613.6" y1="122.5" x2="606.9" y2="118.1" stroke="#9f99c0" stroke-width="1.8" stroke-linecap="round"/>
<circle cx="613.6" cy="122.5" r="2.9" fill="url(#gb)"/>
<line x1="593.6" y1="113.5" x2="587.4" y2="113.3" stroke="#9f99c0" stroke-width="1.8" stroke-linecap="round"/>
<circle cx="593.6" cy="113.5" r="3.0" fill="url(#gb)"/>
<line x1="630.5" y1="108.0" x2="625.8" y2="115.2" stroke="#9f99c0" stroke-width="1.8" stroke-linecap="round"/>
<circle cx="630.5" cy="108.0" r="2.7" fill="url(#gb)"/>
<line x1="584.4" y1="96.6" x2="591.7" y2="94.3" stroke="#9f99c0" stroke-width="1.8" stroke-linecap="round"/>
<circle cx="584.4" cy="96.6" r="2.6" fill="url(#gb)"/>
<line x1="571.2" y1="126.7" x2="579.6" y2="129.1" stroke="#9f99c0" stroke-width="1.8" stroke-linecap="round"/>
<circle cx="571.2" cy="126.7" r="2.8" fill="url(#gb)"/>
<line x1="596.3" y1="122.3" x2="592.4" y2="127.8" stroke="#9f99c0" stroke-width="1.8" stroke-linecap="round"/>
<circle cx="596.3" cy="122.3" r="3.0" fill="url(#gb)"/>
<line x1="641.7" y1="123.5" x2="645.7" y2="129.4" stroke="#9f99c0" stroke-width="1.8" stroke-linecap="round"/>
<circle cx="641.7" cy="123.5" r="2.8" fill="url(#gb)"/>
<line x1="560.2" y1="107.7" x2="553.6" y2="109.4" stroke="#9f99c0" stroke-width="1.8" stroke-linecap="round"/>
<circle cx="560.2" cy="107.7" r="3.0" fill="url(#gb)"/>
<line x1="539.3" y1="135.2" x2="547.4" y2="138.7" stroke="#9f99c0" stroke-width="1.8" stroke-linecap="round"/>
<circle cx="539.3" cy="135.2" r="3.1" fill="url(#gb)"/>
<line x1="570.5" y1="119.1" x2="577.6" y2="118.2" stroke="#9f99c0" stroke-width="1.8" stroke-linecap="round"/>
<circle cx="570.5" cy="119.1" r="2.5" fill="url(#gt)"/>
<line x1="643.9" y1="113.9" x2="636.0" y2="112.7" stroke="#9f99c0" stroke-width="1.8" stroke-linecap="round"/>
<circle cx="643.9" cy="113.9" r="2.7" fill="url(#gb)"/>
<line x1="547.0" y1="120.2" x2="540.5" y2="122.4" stroke="#9f99c0" stroke-width="1.8" stroke-linecap="round"/>
<circle cx="547.0" cy="120.2" r="2.7" fill="url(#gb)"/>
<line x1="642.4" y1="107.1" x2="634.7" y2="103.9" stroke="#9f99c0" stroke-width="1.8" stroke-linecap="round"/>
<circle cx="642.4" cy="107.1" r="2.9" fill="url(#gb)"/>
<line x1="624.6" y1="125.0" x2="619.9" y2="120.2" stroke="#9f99c0" stroke-width="1.8" stroke-linecap="round"/>
<circle cx="624.6" cy="125.0" r="2.8" fill="url(#gb)"/>
<line x1="571.3" y1="177.9" x2="571.6" y2="169.9" stroke="#9f99c0" stroke-width="1.8" stroke-linecap="round"/>
<circle cx="571.3" cy="177.9" r="3.1" fill="url(#gb)"/>
<line x1="637.7" y1="168.8" x2="641.8" y2="175.2" stroke="#9f99c0" stroke-width="1.8" stroke-linecap="round"/>
<circle cx="637.7" cy="168.8" r="2.8" fill="url(#gb)"/>
<line x1="606.9" y1="161.3" x2="615.5" y2="163.2" stroke="#9f99c0" stroke-width="1.8" stroke-linecap="round"/>
<circle cx="606.9" cy="161.3" r="2.7" fill="url(#gb)"/>
<line x1="602.4" y1="170.7" x2="595.9" y2="172.6" stroke="#9f99c0" stroke-width="1.8" stroke-linecap="round"/>
<circle cx="602.4" cy="170.7" r="3.0" fill="url(#gb)"/>
<line x1="573.5" y1="153.8" x2="566.8" y2="156.6" stroke="#9f99c0" stroke-width="1.8" stroke-linecap="round"/>
<circle cx="573.5" cy="153.8" r="2.9" fill="url(#gb)"/>
<line x1="605.6" y1="149.8" x2="613.9" y2="149.6" stroke="#9f99c0" stroke-width="1.8" stroke-linecap="round"/>
<circle cx="605.6" cy="149.8" r="2.7" fill="url(#gb)"/>
<line x1="584.7" y1="160.5" x2="576.6" y2="158.5" stroke="#9f99c0" stroke-width="1.8" stroke-linecap="round"/>
<circle cx="584.7" cy="160.5" r="2.8" fill="url(#gb)"/>
<line x1="556.0" y1="190.9" x2="561.6" y2="185.6" stroke="#9f99c0" stroke-width="1.8" stroke-linecap="round"/>
<circle cx="556.0" cy="190.9" r="2.5" fill="url(#gt)"/>
<line x1="621.0" y1="175.0" x2="613.4" y2="177.5" stroke="#9f99c0" stroke-width="1.8" stroke-linecap="round"/>
<circle cx="621.0" cy="175.0" r="2.5" fill="url(#gt)"/>
<line x1="624.8" y1="169.0" x2="622.5" y2="161.5" stroke="#9f99c0" stroke-width="1.8" stroke-linecap="round"/>
<circle cx="624.8" cy="169.0" r="3.0" fill="url(#gb)"/>
<line x1="644.7" y1="189.7" x2="652.0" y2="188.6" stroke="#9f99c0" stroke-width="1.8" stroke-linecap="round"/>
<circle cx="644.7" cy="189.7" r="3.0" fill="url(#gb)"/>
<line x1="607.0" y1="155.3" x2="611.6" y2="161.6" stroke="#9f99c0" stroke-width="1.8" stroke-linecap="round"/>
<circle cx="607.0" cy="155.3" r="2.6" fill="url(#gb)"/>
<line x1="576.2" y1="185.9" x2="577.7" y2="179.2" stroke="#9f99c0" stroke-width="1.8" stroke-linecap="round"/>
<circle cx="576.2" cy="185.9" r="2.5" fill="url(#gt)"/>
<line x1="522.4" y1="186.5" x2="513.9" y2="186.6" stroke="#9f99c0" stroke-width="1.8" stroke-linecap="round"/>
<circle cx="522.4" cy="186.5" r="3.1" fill="url(#gb)"/>
<line x1="609.7" y1="164.8" x2="602.9" y2="167.5" stroke="#9f99c0" stroke-width="1.8" stroke-linecap="round"/>
<circle cx="609.7" cy="164.8" r="2.9" fill="url(#gb)"/>
<line x1="537.9" y1="159.5" x2="532.0" y2="156.4" stroke="#9f99c0" stroke-width="1.8" stroke-linecap="round"/>
<circle cx="537.9" cy="159.5" r="2.6" fill="url(#gb)"/>
<line x1="612.4" y1="176.7" x2="604.3" y2="175.2" stroke="#9f99c0" stroke-width="1.8" stroke-linecap="round"/>
<circle cx="612.4" cy="176.7" r="2.8" fill="url(#gb)"/>
<line x1="613.7" y1="161.3" x2="613.6" y2="153.5" stroke="#9f99c0" stroke-width="1.8" stroke-linecap="round"/>
<circle cx="613.7" cy="161.3" r="2.5" fill="url(#gt)"/>
<line x1="531.4" y1="180.0" x2="527.0" y2="175.7" stroke="#9f99c0" stroke-width="1.8" stroke-linecap="round"/>
<circle cx="531.4" cy="180.0" r="2.9" fill="url(#gb)"/>
<line x1="564.2" y1="179.5" x2="571.4" y2="176.0" stroke="#9f99c0" stroke-width="1.8" stroke-linecap="round"/>
<circle cx="564.2" cy="179.5" r="2.5" fill="url(#gt)"/>
<line x1="608.3" y1="159.1" x2="603.0" y2="163.8" stroke="#9f99c0" stroke-width="1.8" stroke-linecap="round"/>
<circle cx="608.3" cy="159.1" r="3.0" fill="url(#gb)"/>
<line x1="579.5" y1="183.8" x2="583.4" y2="177.8" stroke="#9f99c0" stroke-width="1.8" stroke-linecap="round"/>
<circle cx="579.5" cy="183.8" r="3.0" fill="url(#gb)"/>
<line x1="545.5" y1="166.8" x2="539.0" y2="162.7" stroke="#9f99c0" stroke-width="1.8" stroke-linecap="round"/>
<circle cx="545.5" cy="166.8" r="3.1" fill="url(#gb)"/>
<line x1="527.2" y1="179.8" x2="527.7" y2="170.9" stroke="#9f99c0" stroke-width="1.8" stroke-linecap="round"/>
<circle cx="527.2" cy="179.8" r="2.9" fill="url(#gb)"/>
<line x1="577.0" y1="167.2" x2="571.2" y2="163.6" stroke="#9f99c0" stroke-width="1.8" stroke-linecap="round"/>
<circle cx="577.0" cy="167.2" r="3.1" fill="url(#gb)"/>
<line x1="634.3" y1="185.8" x2="641.9" y2="186.9" stroke="#9f99c0" stroke-width="1.8" stroke-linecap="round"/>
<circle cx="634.3" cy="185.8" r="3.1" fill="url(#gb)"/>
<line x1="611.6" y1="180.7" x2="605.3" y2="183.2" stroke="#9f99c0" stroke-width="1.8" stroke-linecap="round"/>
<circle cx="611.6" cy="180.7" r="2.7" fill="url(#gb)"/>
<line x1="563.9" y1="179.6" x2="556.2" y2="175.3" stroke="#9f99c0" stroke-width="1.8" stroke-linecap="round"/>
<circle cx="563.9" cy="179.6" r="2.9" fill="url(#gb)"/>
<line x1="534.5" y1="184.1" x2="543.0" y2="185.4" stroke="#9f99c0" stroke-width="1.8" stroke-linecap="round"/>
<circle cx="534.5" cy="184.1" r="2.8" fill="url(#gb)"/>
<line x1="599.2" y1="163.4" x2="593.0" y2="163.5" stroke="#9f99c0" stroke-width="1.8" stroke-linecap="round"/>
<circle cx="599.2" cy="163.4" r="2.8" fill="url(#gb)"/>
<line x1="533.0" y1="171.9" x2="539.8" y2="172.6" stroke="#9f99c0" stroke-width="1.8" stroke-linecap="round"/>
<circle cx="533.0" cy="171.9" r="2.9" fill="url(#gb)"/>
<line x1="596.2" y1="159.1" x2="604.3" y2="162.2" stroke="#9f99c0" stroke-width="1.8" stroke-linecap="round"/>
<circle cx="596.2" cy="159.1" r="2.9" fill="url(#gb)"/>
<line x1="646.2" y1="182.1" x2="640.5" y2="184.8" stroke="#9f99c0" stroke-width="1.8" stroke-linecap="round"/>
<circle cx="646.2" cy="182.1" r="2.7" fill="url(#gb)"/>
<line x1="601.9" y1="164.7" x2="595.1" y2="163.3" stroke="#9f99c0" stroke-width="1.8" stroke-linecap="round"/>
<circle cx="601.9" cy="164.7" r="2.8" fill="url(#gb)"/>
<line x1="522.9" y1="152.8" x2="515.3" y2="153.4" stroke="#9f99c0" stroke-width="1.8" stroke-linecap="round"/>
<circle cx="522.9" cy="152.8" r="2.8" fill="url(#gb)"/>
<line x1="543.9" y1="184.4" x2="535.3" y2="182.9" stroke="#9f99c0" stroke-width="1.8" stroke-linecap="round"/>
<circle cx="543.9" cy="184.4" r="2.6" fill="url(#gb)"/>
<line x1="560.7" y1="177.1" x2="554.2" y2="177.4" stroke="#9f99c0" stroke-width="1.8" stroke-linecap="round"/>
<circle cx="560.7" cy="177.1" r="2.5" fill="url(#gt)"/>
<line x1="599.2" y1="181.2" x2="591.3" y2="181.1" stroke="#9f99c0" stroke-width="1.8" stroke-linecap="round"/>
<circle cx="599.2" cy="181.2" r="3.0" fill="url(#gb)"/>
<line x1="590.7" y1="155.4" x2="598.5" y2="154.4" stroke="#9f99c0" stroke-width="1.8" stroke-linecap="round"/>
<circle cx="590.7" cy="155.4" r="3.0" fill="url(#gb)"/>
<line x1="568.8" y1="153.0" x2="576.2" y2="150.4" stroke="#9f99c0" stroke-width="1.8" stroke-linecap="round"/>
<circle cx="568.8" cy="153.0" r="2.5" fill="url(#gt)"/>
<line x1="593.2" y1="165.2" x2="600.1" y2="160.6" stroke="#9f99c0" stroke-width="1.8" stroke-linecap="round"/>
<circle cx="593.2" cy="165.2" r="2.8" fill="url(#gb)"/>
<line x1="527.2" y1="174.9" x2="534.1" y2="172.3" stroke="#9f99c0" stroke-width="1.8" stroke-linecap="round"/>
<circle cx="527.2" cy="174.9" r="2.5" fill="url(#gt)"/>
<line x1="517.9" y1="170.1" x2="509.6" y2="170.2" stroke="#9f99c0" stroke-width="1.8" stroke-linecap="round"/>
<circle cx="517.9" cy="170.1" r="2.5" fill="url(#gt)"/>
<line x1="567.8" y1="187.1" x2="560.5" y2="190.1" stroke="#9f99c0" stroke-width="1.8" stroke-linecap="round"/>
<circle cx="567.8" cy="187.1" r="2.7" fill="url(#gb)"/>
<line x1="528.5" y1="187.2" x2="520.8" y2="185.9" stroke="#9f99c0" stroke-width="1.8" stroke-linecap="round"/>
<circle cx="528.5" cy="187.2" r="2.7" fill="url(#gb)"/>
<line x1="579.8" y1="187.4" x2="573.9" y2="184.5" stroke="#9f99c0" stroke-width="1.8" stroke-linecap="round"/>
<circle cx="579.8" cy="187.4" r="2.6" fill="url(#gb)"/>
<line x1="595.0" y1="171.3" x2="587.4" y2="168.6" stroke="#9f99c0" stroke-width="1.8" stroke-linecap="round"/>
<circle cx="595.0" cy="171.3" r="2.5" fill="url(#gt)"/>
<line x1="590.1" y1="169.8" x2="584.6" y2="173.7" stroke="#9f99c0" stroke-width="1.8" stroke-linecap="round"/>
<circle cx="590.1" cy="169.8" r="2.8" fill="url(#gb)"/>
<line x1="553.6" y1="168.1" x2="560.8" y2="164.9" stroke="#9f99c0" stroke-width="1.8" stroke-linecap="round"/>
<circle cx="553.6" cy="168.1" r="3.1" fill="url(#gb)"/>
<line x1="516.8" y1="164.5" x2="511.2" y2="162.1" stroke="#9f99c0" stroke-width="1.8" stroke-linecap="round"/>
<circle cx="516.8" cy="164.5" r="2.8" fill="url(#gb)"/>
<line x1="596.5" y1="161.7" x2="589.4" y2="161.7" stroke="#9f99c0" stroke-width="1.8" stroke-linecap="round"/>
<circle cx="596.5" cy="161.7" r="3.0" fill="url(#gb)"/>
<line x1="615.4" y1="181.4" x2="611.1" y2="187.3" stroke="#9f99c0" stroke-width="1.8" stroke-linecap="round"/>
<circle cx="615.4" cy="181.4" r="2.7" fill="url(#gb)"/>
<line x1="531.0" y1="178.9" x2="522.9" y2="177.9" stroke="#9f99c0" stroke-width="1.8" stroke-linecap="round"/>
<circle cx="531.0" cy="178.9" r="3.1" fill="url(#gb)"/>
<line x1="607.4" y1="179.9" x2="601.1" y2="175.6" stroke="#9f99c0" stroke-width="1.8" stroke-linecap="round"/>
<circle cx="607.4" cy="179.9" r="2.9" fill="url(#gb)"/>
<line x1="586.5" y1="188.5" x2="593.6" y2="186.0" stroke="#9f99c0" stroke-width="1.8" stroke-linecap="round"/>
<circle cx="586.5" cy="188.5" r="2.8" fill="url(#gb)"/>
<line x1="558.2" y1="155.6" x2="565.2" y2="154.3" stroke="#9f99c0" stroke-width="1.8" stroke-linecap="round"/>
<circle cx="558.2" cy="155.6" r="3.1" fill="url(#gb)"/>
<line x1="559.4" y1="171.3" x2="563.0" y2="177.0" stroke="#9f99c0" stroke-width="1.8" stroke-linecap="round"/>
<circle cx="559.4" cy="171.3" r="2.9" fill="url(#gb)"/>
<line x1="607.3" y1="187.8" x2="598.7" y2="189.3" stroke="#9f99c0" stroke-width="1.8" stroke-linecap="round"/>
<circle cx="607.3" cy="187.8" r="3.1" fill="url(#gb)"/>
<line x1="646.3" y1="149.6" x2="639.9" y2="148.9" stroke="#9f99c0" stroke-width="1.8" stroke-linecap="round"/>
<circle cx="646.3" cy="149.6" r="3.0" fill="url(#gb)"/>
<line x1="545.2" y1="185.7" x2="551.0" y2="188.2" stroke="#9f99c0" stroke-width="1.8" stroke-linecap="round"/>
<circle cx="545.2" cy="185.7" r="2.6" fill="url(#gb)"/>
<line x1="519.5" y1="168.9" x2="513.5" y2="166.8" stroke="#9f99c0" stroke-width="1.8" stroke-linecap="round"/>
<circle cx="519.5" cy="168.9" r="3.1" fill="url(#gb)"/>
<line x1="598.7" y1="179.8" x2="597.5" y2="186.2" stroke="#9f99c0" stroke-width="1.8" stroke-linecap="round"/>
<circle cx="598.7" cy="179.8" r="2.7" fill="url(#gb)"/>
<line x1="550.2" y1="172.5" x2="543.6" y2="173.4" stroke="#9f99c0" stroke-width="1.8" stroke-linecap="round"/>
<circle cx="550.2" cy="172.5" r="2.8" fill="url(#gb)"/>
<line x1="630.4" y1="149.4" x2="623.4" y2="153.9" stroke="#9f99c0" stroke-width="1.8" stroke-linecap="round"/>
<circle cx="630.4" cy="149.4" r="3.0" fill="url(#gb)"/>
<line x1="613.2" y1="162.7" x2="620.5" y2="165.7" stroke="#9f99c0" stroke-width="1.8" stroke-linecap="round"/>
<circle cx="613.2" cy="162.7" r="2.6" fill="url(#gb)"/>
<line x1="641.7" y1="154.4" x2="635.6" y2="153.9" stroke="#9f99c0" stroke-width="1.8" stroke-linecap="round"/>
<circle cx="641.7" cy="154.4" r="2.9" fill="url(#gb)"/>
<line x1="542.3" y1="173.2" x2="534.7" y2="177.6" stroke="#9f99c0" stroke-width="1.8" stroke-linecap="round"/>
<circle cx="542.3" cy="173.2" r="2.7" fill="url(#gb)"/>
<line x1="591.8" y1="173.2" x2="583.7" y2="173.0" stroke="#9f99c0" stroke-width="1.8" stroke-linecap="round"/>
<circle cx="591.8" cy="173.2" r="2.5" fill="url(#gt)"/>
<line x1="540.9" y1="180.3" x2="544.6" y2="185.9" stroke="#9f99c0" stroke-width="1.8" stroke-linecap="round"/>
<circle cx="540.9" cy="180.3" r="2.9" fill="url(#gb)"/>
<line x1="544.0" y1="190.7" x2="551.6" y2="192.0" stroke="#9f99c0" stroke-width="1.8" stroke-linecap="round"/>
<circle cx="544.0" cy="190.7" r="2.8" fill="url(#gb)"/>
<line x1="531.1" y1="157.8" x2="526.0" y2="154.3" stroke="#9f99c0" stroke-width="1.8" stroke-linecap="round"/>
<circle cx="531.1" cy="157.8" r="2.8" fill="url(#gb)"/>
<line x1="585.6" y1="150.4" x2="592.5" y2="151.7" stroke="#9f99c0" stroke-width="1.8" stroke-linecap="round"/>
<circle cx="585.6" cy="150.4" r="3.1" fill="url(#gb)"/>
<line x1="562.2" y1="157.0" x2="555.9" y2="161.0" stroke="#9f99c0" stroke-width="1.8" stroke-linecap="round"/>
<circle cx="562.2" cy="157.0" r="2.8" fill="url(#gb)"/>
<line x1="600.6" y1="174.5" x2="606.8" y2="177.1" stroke="#9f99c0" stroke-width="1.8" stroke-linecap="round"/>
<circle cx="600.6" cy="174.5" r="2.8" fill="url(#gb)"/>
<line x1="611.2" y1="157.0" x2="604.0" y2="159.8" stroke="#9f99c0" stroke-width="1.8" stroke-linecap="round"/>
<circle cx="611.2" cy="157.0" r="2.5" fill="url(#gt)"/>
<line x1="521.3" y1="158.2" x2="515.1" y2="156.8" stroke="#9f99c0" stroke-width="1.8" stroke-linecap="round"/>
<circle cx="521.3" cy="158.2" r="3.0" fill="url(#gb)"/>
<line x1="540.8" y1="161.5" x2="543.9" y2="156.3" stroke="#9f99c0" stroke-width="1.8" stroke-linecap="round"/>
<circle cx="540.8" cy="161.5" r="3.0" fill="url(#gb)"/>
<line x1="519.6" y1="162.5" x2="527.2" y2="163.5" stroke="#9f99c0" stroke-width="1.8" stroke-linecap="round"/>
<circle cx="519.6" cy="162.5" r="2.6" fill="url(#gb)"/>
<line x1="570.3" y1="150.6" x2="577.0" y2="150.1" stroke="#9f99c0" stroke-width="1.8" stroke-linecap="round"/>
<circle cx="570.3" cy="150.6" r="2.7" fill="url(#gb)"/>
<line x1="647.3" y1="178.7" x2="641.0" y2="178.5" stroke="#9f99c0" stroke-width="1.8" stroke-linecap="round"/>
<circle cx="647.3" cy="178.7" r="2.8" fill="url(#gb)"/>
<line x1="552.7" y1="155.7" x2="547.6" y2="152.3" stroke="#9f99c0" stroke-width="1.8" stroke-linecap="round"/>
<circle cx="552.7" cy="155.7" r="2.9" fill="url(#gb)"/>
<line x1="543.4" y1="189.2" x2="538.8" y2="181.7" stroke="#9f99c0" stroke-width="1.8" stroke-linecap="round"/>
<circle cx="543.4" cy="189.2" r="2.6" fill="url(#gb)"/>
<line x1="555.3" y1="181.2" x2="548.9" y2="182.0" stroke="#9f99c0" stroke-width="1.8" stroke-linecap="round"/>
<circle cx="555.3" cy="181.2" r="3.0" fill="url(#gb)"/>
<line x1="562.1" y1="161.8" x2="555.1" y2="159.9" stroke="#9f99c0" stroke-width="1.8" stroke-linecap="round"/>
<circle cx="562.1" cy="161.8" r="2.5" fill="url(#gt)"/>
<line x1="621.5" y1="153.7" x2="626.4" y2="148.4" stroke="#9f99c0" stroke-width="1.8" stroke-linecap="round"/>
<circle cx="621.5" cy="153.7" r="3.0" fill="url(#gb)"/>
<line x1="642.9" y1="174.8" x2="639.1" y2="181.0" stroke="#9f99c0" stroke-width="1.8" stroke-linecap="round"/>
<circle cx="642.9" cy="174.8" r="3.0" fill="url(#gb)"/>
<line x1="630.8" y1="177.7" x2="630.2" y2="184.8" stroke="#9f99c0" stroke-width="1.8" stroke-linecap="round"/>
<circle cx="630.8" cy="177.7" r="3.1" fill="url(#gb)"/>
<line x1="593.4" y1="156.4" x2="599.6" y2="152.4" stroke="#9f99c0" stroke-width="1.8" stroke-linecap="round"/>
<circle cx="593.4" cy="156.4" r="2.8" fill="url(#gb)"/>
<line x1="639.4" y1="172.9" x2="645.3" y2="174.9" stroke="#9f99c0" stroke-width="1.8" stroke-linecap="round"/>
<circle cx="639.4" cy="172.9" r="3.1" fill="url(#gb)"/>
<line x1="591.2" y1="178.3" x2="597.9" y2="180.7" stroke="#9f99c0" stroke-width="1.8" stroke-linecap="round"/>
<circle cx="591.2" cy="178.3" r="3.0" fill="url(#gb)"/>
<line x1="573.8" y1="182.9" x2="571.9" y2="175.8" stroke="#9f99c0" stroke-width="1.8" stroke-linecap="round"/>
<circle cx="573.8" cy="182.9" r="2.5" fill="url(#gt)"/>
<line x1="641.8" y1="175.2" x2="648.7" y2="171.0" stroke="#9f99c0" stroke-width="1.8" stroke-linecap="round"/>
<circle cx="641.8" cy="175.2" r="2.9" fill="url(#gb)"/>
<line x1="593.1" y1="172.7" x2="589.2" y2="180.7" stroke="#9f99c0" stroke-width="1.8" stroke-linecap="round"/>
<circle cx="593.1" cy="172.7" r="2.8" fill="url(#gb)"/>
<line x1="611.6" y1="150.6" x2="617.0" y2="157.4" stroke="#9f99c0" stroke-width="1.8" stroke-linecap="round"/>
<circle cx="611.6" cy="150.6" r="2.6" fill="url(#gb)"/>
<line x1="522.1" y1="156.9" x2="516.0" y2="157.4" stroke="#9f99c0" stroke-width="1.8" stroke-linecap="round"/>
<circle cx="522.1" cy="156.9" r="2.7" fill="url(#gb)"/>
<line x1="606.8" y1="174.3" x2="614.6" y2="172.0" stroke="#9f99c0" stroke-width="1.8" stroke-linecap="round"/>
<circle cx="606.8" cy="174.3" r="2.9" fill="url(#gb)"/>
<line x1="576.3" y1="182.1" x2="583.1" y2="182.2" stroke="#9f99c0" stroke-width="1.8" stroke-linecap="round"/>
<circle cx="576.3" cy="182.1" r="3.0" fill="url(#gb)"/>
<line x1="523.0" y1="187.2" x2="516.2" y2="189.5" stroke="#9f99c0" stroke-width="1.8" stroke-linecap="round"/>
<circle cx="523.0" cy="187.2" r="2.7" fill="url(#gb)"/>
<line x1="614.7" y1="175.8" x2="621.1" y2="171.7" stroke="#9f99c0" stroke-width="1.8" stroke-linecap="round"/>
<circle cx="614.7" cy="175.8" r="3.0" fill="url(#gb)"/>
<line x1="646.1" y1="190.3" x2="643.4" y2="183.4" stroke="#9f99c0" stroke-width="1.8" stroke-linecap="round"/>
<circle cx="646.1" cy="190.3" r="2.5" fill="url(#gt)"/>
<line x1="554.8" y1="203.4" x2="549.4" y2="198.6" stroke="#9f99c0" stroke-width="1.8" stroke-linecap="round"/>
<circle cx="554.8" cy="203.4" r="2.6" fill="url(#gb)"/>
<line x1="594.4" y1="200.2" x2="602.0" y2="198.2" stroke="#9f99c0" stroke-width="1.8" stroke-linecap="round"/>
<circle cx="594.4" cy="200.2" r="2.6" fill="url(#gb)"/>
<line x1="640.0" y1="200.3" x2="645.7" y2="203.4" stroke="#9f99c0" stroke-width="1.8" stroke-linecap="round"/>
<circle cx="640.0" cy="200.3" r="2.9" fill="url(#gb)"/>
<line x1="536.9" y1="205.3" x2="544.4" y2="201.2" stroke="#9f99c0" stroke-width="1.8" stroke-linecap="round"/>
<circle cx="536.9" cy="205.3" r="2.7" fill="url(#gb)"/>
<line x1="547.3" y1="200.4" x2="554.8" y2="195.7" stroke="#9f99c0" stroke-width="1.8" stroke-linecap="round"/>
<circle cx="547.3" cy="200.4" r="2.9" fill="url(#gb)"/>
<line x1="589.6" y1="204.6" x2="596.4" y2="203.7" stroke="#9f99c0" stroke-width="1.8" stroke-linecap="round"/>
<circle cx="589.6" cy="204.6" r="2.7" fill="url(#gb)"/>
<line x1="546.0" y1="204.3" x2="552.9" y2="209.0" stroke="#9f99c0" stroke-width="1.8" stroke-linecap="round"/>
<circle cx="546.0" cy="204.3" r="2.5" fill="url(#gt)"/>
<line x1="604.3" y1="204.9" x2="596.3" y2="201.9" stroke="#9f99c0" stroke-width="1.8" stroke-linecap="round"/>
<circle cx="604.3" cy="204.9" r="3.0" fill="url(#gb)"/>
<line x1="576.2" y1="196.5" x2="570.6" y2="200.1" stroke="#9f99c0" stroke-width="1.8" stroke-linecap="round"/>
<circle cx="576.2" cy="196.5" r="2.6" fill="url(#gb)"/>
<line x1="600.6" y1="205.1" x2="594.0" y2="209.5" stroke="#9f99c0" stroke-width="1.8" stroke-linecap="round"/>
<circle cx="600.6" cy="205.1" r="2.7" fill="url(#gb)"/>
<line x1="643.3" y1="207.1" x2="650.6" y2="210.9" stroke="#9f99c0" stroke-width="1.8" stroke-linecap="round"/>
<circle cx="643.3" cy="207.1" r="3.1" fill="url(#gb)"/>
<line x1="619.9" y1="204.4" x2="627.2" y2="205.1" stroke="#9f99c0" stroke-width="1.8" stroke-linecap="round"/>
<circle cx="619.9" cy="204.4" r="2.6" fill="url(#gb)"/>
<line x1="631.0" y1="204.5" x2="631.3" y2="196.4" stroke="#9f99c0" stroke-width="1.8" stroke-linecap="round"/>
<circle cx="631.0" cy="204.5" r="2.7" fill="url(#gb)"/>
<line x1="630.8" y1="196.1" x2="625.1" y2="199.9" stroke="#9f99c0" stroke-width="1.8" stroke-linecap="round"/>
<circle cx="630.8" cy="196.1" r="2.8" fill="url(#gb)"/>
<line x1="544.7" y1="203.9" x2="550.5" y2="200.2" stroke="#9f99c0" stroke-width="1.8" stroke-linecap="round"/>
<circle cx="544.7" cy="203.9" r="2.7" fill="url(#gb)"/>
<line x1="569.0" y1="205.5" x2="574.7" y2="199.6" stroke="#9f99c0" stroke-width="1.8" stroke-linecap="round"/>
<circle cx="569.0" cy="205.5" r="2.9" fill="url(#gb)"/>
<line x1="624.0" y1="202.2" x2="627.0" y2="196.9" stroke="#9f99c0" stroke-width="1.8" stroke-linecap="round"/>
<circle cx="624.0" cy="202.2" r="2.7" fill="url(#gb)"/>
<line x1="609.3" y1="205.8" x2="609.6" y2="199.3" stroke="#9f99c0" stroke-width="1.8" stroke-linecap="round"/>
<circle cx="609.3" cy="205.8" r="2.7" fill="url(#gb)"/>
<line x1="602.8" y1="203.5" x2="604.7" y2="212.1" stroke="#9f99c0" stroke-width="1.8" stroke-linecap="round"/>
<circle cx="602.8" cy="203.5" r="3.0" fill="url(#gb)"/>
<line x1="531.9" y1="204.4" x2="525.7" y2="206.7" stroke="#9f99c0" stroke-width="1.8" stroke-linecap="round"/>
<circle cx="531.9" cy="204.4" r="2.8" fill="url(#gb)"/>
<line x1="627.8" y1="199.8" x2="620.3" y2="204.7" stroke="#9f99c0" stroke-width="1.8" stroke-linecap="round"/>
<circle cx="627.8" cy="199.8" r="3.0" fill="url(#gb)"/>
<line x1="558.4" y1="203.1" x2="564.5" y2="203.0" stroke="#9f99c0" stroke-width="1.8" stroke-linecap="round"/>
<circle cx="558.4" cy="203.1" r="3.0" fill="url(#gb)"/>
<line x1="537.5" y1="198.8" x2="529.7" y2="199.0" stroke="#9f99c0" stroke-width="1.8" stroke-linecap="round"/>
<circle cx="537.5" cy="198.8" r="2.7" fill="url(#gb)"/>
<line x1="531.6" y1="198.7" x2="537.5" y2="200.6" stroke="#9f99c0" stroke-width="1.8" stroke-linecap="round"/>
<circle cx="531.6" cy="198.7" r="2.9" fill="url(#gb)"/>
<polygon points="884,46.5 1001,17.5 1000,21 884,50" fill="#e9e8cc"/>
<polygon points="884,49.5 1000,20.5 998,37 878,67" fill="#0b0b0b"/>
<line x1="882.3" y1="56.3" x2="874.5" y2="58.3" stroke="#9f99c0" stroke-width="1.8" stroke-linecap="round"/>
<circle cx="882.3" cy="56.3" r="2.8" fill="url(#gb)"/>
<line x1="887.7" y1="62.4" x2="885.0" y2="56.6" stroke="#9f99c0" stroke-width="1.8" stroke-linecap="round"/>
<circle cx="887.7" cy="62.4" r="2.6" fill="url(#gb)"/>
<line x1="890.7" y1="53.4" x2="896.6" y2="47.9" stroke="#9f99c0" stroke-width="1.8" stroke-linecap="round"/>
<circle cx="890.7" cy="53.4" r="3.0" fill="url(#gb)"/>
<line x1="894.0" y1="54.7" x2="901.6" y2="52.4" stroke="#9f99c0" stroke-width="1.8" stroke-linecap="round"/>
<circle cx="894.0" cy="54.7" r="2.8" fill="url(#gb)"/>
<line x1="895.6" y1="48.3" x2="888.3" y2="45.0" stroke="#9f99c0" stroke-width="1.8" stroke-linecap="round"/>
<circle cx="895.6" cy="48.3" r="2.7" fill="url(#gb)"/>
<line x1="898.5" y1="51.1" x2="898.2" y2="58.6" stroke="#9f99c0" stroke-width="1.8" stroke-linecap="round"/>
<circle cx="898.5" cy="51.1" r="3.0" fill="url(#gb)"/>
<line x1="906.4" y1="56.8" x2="910.5" y2="51.8" stroke="#9f99c0" stroke-width="1.8" stroke-linecap="round"/>
<circle cx="906.4" cy="56.8" r="2.8" fill="url(#gb)"/>
<line x1="905.1" y1="50.0" x2="896.6" y2="52.7" stroke="#9f99c0" stroke-width="1.8" stroke-linecap="round"/>
<circle cx="905.1" cy="50.0" r="2.7" fill="url(#gb)"/>
<line x1="907.9" y1="45.2" x2="904.8" y2="38.7" stroke="#9f99c0" stroke-width="1.8" stroke-linecap="round"/>
<circle cx="907.9" cy="45.2" r="2.8" fill="url(#gb)"/>
<line x1="914.4" y1="52.8" x2="908.2" y2="48.7" stroke="#9f99c0" stroke-width="1.8" stroke-linecap="round"/>
<circle cx="914.4" cy="52.8" r="2.5" fill="url(#gb)"/>
<line x1="917.6" y1="48.0" x2="918.1" y2="39.8" stroke="#9f99c0" stroke-width="1.8" stroke-linecap="round"/>
<circle cx="917.6" cy="48.0" r="3.0" fill="url(#gb)"/>
<line x1="919.2" y1="41.1" x2="918.3" y2="34.0" stroke="#9f99c0" stroke-width="1.8" stroke-linecap="round"/>
<circle cx="919.2" cy="41.1" r="2.6" fill="url(#gb)"/>
<line x1="925.2" y1="53.5" x2="919.4" y2="51.8" stroke="#9f99c0" stroke-width="1.8" stroke-linecap="round"/>
<circle cx="925.2" cy="53.5" r="3.0" fill="url(#gb)"/>
<line x1="927.6" y1="47.6" x2="922.3" y2="40.5" stroke="#9f99c0" stroke-width="1.8" stroke-linecap="round"/>
<circle cx="927.6" cy="47.6" r="2.8" fill="url(#gb)"/>
<line x1="932.0" y1="49.7" x2="923.7" y2="46.8" stroke="#9f99c0" stroke-width="1.8" stroke-linecap="round"/>
<circle cx="932.0" cy="49.7" r="2.6" fill="url(#gb)"/>
<line x1="933.5" y1="45.4" x2="940.6" y2="40.9" stroke="#9f99c0" stroke-width="1.8" stroke-linecap="round"/>
<circle cx="933.5" cy="45.4" r="2.9" fill="url(#gb)"/>
<line x1="937.4" y1="39.8" x2="941.7" y2="47.1" stroke="#9f99c0" stroke-width="1.8" stroke-linecap="round"/>
<circle cx="937.4" cy="39.8" r="2.7" fill="url(#gb)"/>
<line x1="944.7" y1="47.4" x2="937.8" y2="45.4" stroke="#9f99c0" stroke-width="1.8" stroke-linecap="round"/>
<circle cx="944.7" cy="47.4" r="2.8" fill="url(#gb)"/>
<line x1="944.9" y1="35.8" x2="950.7" y2="31.7" stroke="#9f99c0" stroke-width="1.8" stroke-linecap="round"/>
<circle cx="944.9" cy="35.8" r="2.8" fill="url(#gb)"/>
<line x1="949.3" y1="44.2" x2="940.5" y2="44.0" stroke="#9f99c0" stroke-width="1.8" stroke-linecap="round"/>
<circle cx="949.3" cy="44.2" r="2.8" fill="url(#gb)"/>
<line x1="951.6" y1="38.0" x2="950.2" y2="31.8" stroke="#9f99c0" stroke-width="1.8" stroke-linecap="round"/>
<circle cx="951.6" cy="38.0" r="2.8" fill="url(#gb)"/>
<line x1="955.5" y1="41.8" x2="958.9" y2="47.7" stroke="#9f99c0" stroke-width="1.8" stroke-linecap="round"/>
<circle cx="955.5" cy="41.8" r="2.6" fill="url(#gb)"/>
<line x1="960.9" y1="44.4" x2="955.7" y2="38.0" stroke="#9f99c0" stroke-width="1.8" stroke-linecap="round"/>
<circle cx="960.9" cy="44.4" r="2.8" fill="url(#gb)"/>
<line x1="963.0" y1="40.0" x2="965.3" y2="48.4" stroke="#9f99c0" stroke-width="1.8" stroke-linecap="round"/>
<circle cx="963.0" cy="40.0" r="2.9" fill="url(#gb)"/>
<line x1="966.4" y1="44.0" x2="967.6" y2="51.8" stroke="#9f99c0" stroke-width="1.8" stroke-linecap="round"/>
<circle cx="966.4" cy="44.0" r="2.6" fill="url(#gb)"/>
<line x1="968.9" y1="37.7" x2="961.5" y2="36.0" stroke="#9f99c0" stroke-width="1.8" stroke-linecap="round"/>
<circle cx="968.9" cy="37.7" r="2.8" fill="url(#gb)"/>
<line x1="974.9" y1="38.2" x2="972.9" y2="31.1" stroke="#9f99c0" stroke-width="1.8" stroke-linecap="round"/>
<circle cx="974.9" cy="38.2" r="2.9" fill="url(#gb)"/>
<line x1="973.2" y1="26.8" x2="966.8" y2="28.7" stroke="#9f99c0" stroke-width="1.8" stroke-linecap="round"/>
<circle cx="973.2" cy="26.8" r="2.8" fill="url(#gb)"/>
<line x1="979.1" y1="32.9" x2="972.8" y2="34.2" stroke="#9f99c0" stroke-width="1.8" stroke-linecap="round"/>
<circle cx="979.1" cy="32.9" r="3.0" fill="url(#gb)"/>
<line x1="983.2" y1="29.4" x2="978.4" y2="36.7" stroke="#9f99c0" stroke-width="1.8" stroke-linecap="round"/>
<circle cx="983.2" cy="29.4" r="2.6" fill="url(#gb)"/>
<line x1="986.0" y1="26.6" x2="993.4" y2="23.4" stroke="#9f99c0" stroke-width="1.8" stroke-linecap="round"/>
<circle cx="986.0" cy="26.6" r="2.6" fill="url(#gb)"/>
<line x1="989.7" y1="27.1" x2="997.8" y2="24.5" stroke="#9f99c0" stroke-width="1.8" stroke-linecap="round"/>
<circle cx="989.7" cy="27.1" r="2.7" fill="url(#gb)"/>
<line x1="995.0" y1="38.0" x2="990.4" y2="43.0" stroke="#9f99c0" stroke-width="1.8" stroke-linecap="round"/>
<circle cx="995.0" cy="38.0" r="2.5" fill="url(#gb)"/>
<line x1="996.8" y1="26.4" x2="994.3" y2="33.3" stroke="#9f99c0" stroke-width="1.8" stroke-linecap="round"/>
<circle cx="996.8" cy="26.4" r="2.7" fill="url(#gb)"/>
<polygon points="999,8 1003,40 1021,61 1037,92 1054,112 1062,124 1071,122 1068,112 1056,92 1039,61 1020,30 1008,7" fill="#d8d8b4"/>
<line x1="1004.6" y1="8.8" x2="998.0" y2="5.5" stroke="#9f99c0" stroke-width="1.8" stroke-linecap="round"/>
<circle cx="1004.6" cy="8.8" r="2.9" fill="url(#gb)"/>
<line x1="1015.6" y1="5.9" x2="1013.2" y2="12.7" stroke="#9f99c0" stroke-width="1.8" stroke-linecap="round"/>
<circle cx="1015.6" cy="5.9" r="2.7" fill="url(#gb)"/>
<line x1="1012.6" y1="9.6" x2="1006.5" y2="7.7" stroke="#9f99c0" stroke-width="1.8" stroke-linecap="round"/>
<circle cx="1012.6" cy="9.6" r="2.8" fill="url(#gb)"/>
<line x1="1007.8" y1="12.8" x2="1006.7" y2="4.1" stroke="#9f99c0" stroke-width="1.8" stroke-linecap="round"/>
<circle cx="1007.8" cy="12.8" r="2.9" fill="url(#gb)"/>
<line x1="1006.4" y1="16.5" x2="1001.2" y2="21.9" stroke="#9f99c0" stroke-width="1.8" stroke-linecap="round"/>
<circle cx="1006.4" cy="16.5" r="3.0" fill="url(#gb)"/>
<line x1="1012.8" y1="14.3" x2="1010.4" y2="7.3" stroke="#9f99c0" stroke-width="1.8" stroke-linecap="round"/>
<circle cx="1012.8" cy="14.3" r="2.9" fill="url(#gb)"/>
<line x1="1013.9" y1="17.5" x2="1012.3" y2="11.4" stroke="#9f99c0" stroke-width="1.8" stroke-linecap="round"/>
<circle cx="1013.9" cy="17.5" r="2.8" fill="url(#gb)"/>
<line x1="1004.9" y1="24.9" x2="1005.5" y2="31.0" stroke="#9f99c0" stroke-width="1.8" stroke-linecap="round"/>
<circle cx="1004.9" cy="24.9" r="2.9" fill="url(#gb)"/>
<line x1="1013.4" y1="21.2" x2="1008.0" y2="26.1" stroke="#9f99c0" stroke-width="1.8" stroke-linecap="round"/>
<circle cx="1013.4" cy="21.2" r="2.8" fill="url(#gb)"/>
<line x1="1019.5" y1="20.8" x2="1021.7" y2="27.5" stroke="#9f99c0" stroke-width="1.8" stroke-linecap="round"/>
<circle cx="1019.5" cy="20.8" r="2.6" fill="url(#gb)"/>
<line x1="1010.1" y1="27.9" x2="1016.9" y2="27.2" stroke="#9f99c0" stroke-width="1.8" stroke-linecap="round"/>
<circle cx="1010.1" cy="27.9" r="2.6" fill="url(#gb)"/>
<line x1="1013.3" y1="27.3" x2="1020.8" y2="29.1" stroke="#9f99c0" stroke-width="1.8" stroke-linecap="round"/>
<circle cx="1013.3" cy="27.3" r="2.8" fill="url(#gb)"/>
<line x1="1021.9" y1="26.9" x2="1028.6" y2="27.6" stroke="#9f99c0" stroke-width="1.8" stroke-linecap="round"/>
<circle cx="1021.9" cy="26.9" r="2.6" fill="url(#gb)"/>
<line x1="1021.7" y1="28.6" x2="1026.7" y2="24.2" stroke="#9f99c0" stroke-width="1.8" stroke-linecap="round"/>
<circle cx="1021.7" cy="28.6" r="2.6" fill="url(#gb)"/>
<line x1="1013.3" y1="35.1" x2="1010.5" y2="42.4" stroke="#9f99c0" stroke-width="1.8" stroke-linecap="round"/>
<circle cx="1013.3" cy="35.1" r="3.0" fill="url(#gb)"/>
<line x1="1026.4" y1="30.1" x2="1020.9" y2="27.8" stroke="#9f99c0" stroke-width="1.8" stroke-linecap="round"/>
<circle cx="1026.4" cy="30.1" r="3.0" fill="url(#gb)"/>
<line x1="1026.2" y1="31.9" x2="1027.1" y2="25.5" stroke="#9f99c0" stroke-width="1.8" stroke-linecap="round"/>
<circle cx="1026.2" cy="31.9" r="2.8" fill="url(#gb)"/>
<line x1="1031.7" y1="32.3" x2="1040.3" y2="33.3" stroke="#9f99c0" stroke-width="1.8" stroke-linecap="round"/>
<circle cx="1031.7" cy="32.3" r="2.8" fill="url(#gb)"/>
<line x1="1025.1" y1="37.4" x2="1018.0" y2="34.2" stroke="#9f99c0" stroke-width="1.8" stroke-linecap="round"/>
<circle cx="1025.1" cy="37.4" r="3.0" fill="url(#gb)"/>
<line x1="1016.0" y1="44.5" x2="1016.8" y2="37.7" stroke="#9f99c0" stroke-width="1.8" stroke-linecap="round"/>
<circle cx="1016.0" cy="44.5" r="2.8" fill="url(#gb)"/>
<line x1="1022.5" y1="44.3" x2="1029.1" y2="47.4" stroke="#9f99c0" stroke-width="1.8" stroke-linecap="round"/>
<circle cx="1022.5" cy="44.3" r="2.8" fill="url(#gb)"/>
<line x1="1017.2" y1="47.9" x2="1010.5" y2="48.6" stroke="#9f99c0" stroke-width="1.8" stroke-linecap="round"/>
<circle cx="1017.2" cy="47.9" r="2.9" fill="url(#gb)"/>
<line x1="1026.0" y1="45.8" x2="1018.9" y2="48.9" stroke="#9f99c0" stroke-width="1.8" stroke-linecap="round"/>
<circle cx="1026.0" cy="45.8" r="3.0" fill="url(#gb)"/>
<line x1="1028.6" y1="46.2" x2="1027.7" y2="52.9" stroke="#9f99c0" stroke-width="1.8" stroke-linecap="round"/>
<circle cx="1028.6" cy="46.2" r="2.7" fill="url(#gb)"/>
<line x1="1038.6" y1="42.9" x2="1034.1" y2="35.4" stroke="#9f99c0" stroke-width="1.8" stroke-linecap="round"/>
<circle cx="1038.6" cy="42.9" r="2.5" fill="url(#gb)"/>
<line x1="1028.4" y1="50.5" x2="1026.7" y2="57.2" stroke="#9f99c0" stroke-width="1.8" stroke-linecap="round"/>
<circle cx="1028.4" cy="50.5" r="2.9" fill="url(#gb)"/>
<line x1="1039.5" y1="46.1" x2="1044.5" y2="41.5" stroke="#9f99c0" stroke-width="1.8" stroke-linecap="round"/>
<circle cx="1039.5" cy="46.1" r="2.8" fill="url(#gb)"/>
<line x1="1031.3" y1="53.6" x2="1030.0" y2="61.4" stroke="#9f99c0" stroke-width="1.8" stroke-linecap="round"/>
<circle cx="1031.3" cy="53.6" r="2.8" fill="url(#gb)"/>
<line x1="1030.8" y1="55.8" x2="1024.0" y2="52.7" stroke="#9f99c0" stroke-width="1.8" stroke-linecap="round"/>
<circle cx="1030.8" cy="55.8" r="2.9" fill="url(#gb)"/>
<line x1="1035.8" y1="56.7" x2="1029.4" y2="61.1" stroke="#9f99c0" stroke-width="1.8" stroke-linecap="round"/>
<circle cx="1035.8" cy="56.7" r="3.0" fill="url(#gb)"/>
<line x1="1032.5" y1="60.5" x2="1025.7" y2="59.7" stroke="#9f99c0" stroke-width="1.8" stroke-linecap="round"/>
<circle cx="1032.5" cy="60.5" r="2.8" fill="url(#gb)"/>
<line x1="1030.2" y1="62.2" x2="1034.2" y2="54.2" stroke="#9f99c0" stroke-width="1.8" stroke-linecap="round"/>
<circle cx="1030.2" cy="62.2" r="2.9" fill="url(#gb)"/>
<line x1="1039.7" y1="59.4" x2="1047.3" y2="55.4" stroke="#9f99c0" stroke-width="1.8" stroke-linecap="round"/>
<circle cx="1039.7" cy="59.4" r="2.6" fill="url(#gb)"/>
<line x1="1043.0" y1="59.9" x2="1042.3" y2="53.9" stroke="#9f99c0" stroke-width="1.8" stroke-linecap="round"/>
<circle cx="1043.0" cy="59.9" r="2.8" fill="url(#gb)"/>
<line x1="1030.3" y1="69.2" x2="1023.3" y2="67.6" stroke="#9f99c0" stroke-width="1.8" stroke-linecap="round"/>
<circle cx="1030.3" cy="69.2" r="2.5" fill="url(#gt)"/>
<line x1="1031.3" y1="72.5" x2="1029.6" y2="63.8" stroke="#9f99c0" stroke-width="1.8" stroke-linecap="round"/>
<circle cx="1031.3" cy="72.5" r="2.5" fill="url(#gb)"/>
<line x1="1034.6" y1="72.3" x2="1028.4" y2="69.9" stroke="#9f99c0" stroke-width="1.8" stroke-linecap="round"/>
<circle cx="1034.6" cy="72.3" r="2.6" fill="url(#gb)"/>
<line x1="1043.2" y1="68.6" x2="1049.1" y2="65.9" stroke="#9f99c0" stroke-width="1.8" stroke-linecap="round"/>
<circle cx="1043.2" cy="68.6" r="2.7" fill="url(#gb)"/>
<line x1="1035.7" y1="75.5" x2="1030.1" y2="81.8" stroke="#9f99c0" stroke-width="1.8" stroke-linecap="round"/>
<circle cx="1035.7" cy="75.5" r="2.9" fill="url(#gb)"/>
<line x1="1044.0" y1="73.5" x2="1049.1" y2="78.4" stroke="#9f99c0" stroke-width="1.8" stroke-linecap="round"/>
<circle cx="1044.0" cy="73.5" r="3.0" fill="url(#gb)"/>
<line x1="1033.9" y1="80.3" x2="1040.3" y2="79.5" stroke="#9f99c0" stroke-width="1.8" stroke-linecap="round"/>
<circle cx="1033.9" cy="80.3" r="2.8" fill="url(#gb)"/>
<line x1="1045.3" y1="77.1" x2="1047.0" y2="85.5" stroke="#9f99c0" stroke-width="1.8" stroke-linecap="round"/>
<circle cx="1045.3" cy="77.1" r="2.6" fill="url(#gb)"/>
<line x1="1040.9" y1="82.4" x2="1035.3" y2="86.4" stroke="#9f99c0" stroke-width="1.8" stroke-linecap="round"/>
<circle cx="1040.9" cy="82.4" r="2.8" fill="url(#gb)"/>
<line x1="1040.6" y1="84.0" x2="1039.0" y2="90.1" stroke="#9f99c0" stroke-width="1.8" stroke-linecap="round"/>
<circle cx="1040.6" cy="84.0" r="2.7" fill="url(#gb)"/>
<line x1="1057.4" y1="76.4" x2="1049.7" y2="80.4" stroke="#9f99c0" stroke-width="1.8" stroke-linecap="round"/>
<circle cx="1057.4" cy="76.4" r="2.7" fill="url(#gb)"/>
<line x1="1057.5" y1="80.4" x2="1060.7" y2="74.5" stroke="#9f99c0" stroke-width="1.8" stroke-linecap="round"/>
<circle cx="1057.5" cy="80.4" r="2.7" fill="url(#gb)"/>
<line x1="1059.5" y1="80.1" x2="1065.0" y2="86.0" stroke="#9f99c0" stroke-width="1.8" stroke-linecap="round"/>
<circle cx="1059.5" cy="80.1" r="2.8" fill="url(#gb)"/>
<line x1="1044.5" y1="90.3" x2="1040.7" y2="96.1" stroke="#9f99c0" stroke-width="1.8" stroke-linecap="round"/>
<circle cx="1044.5" cy="90.3" r="2.8" fill="url(#gb)"/>
<line x1="1056.9" y1="87.2" x2="1050.4" y2="90.5" stroke="#9f99c0" stroke-width="1.8" stroke-linecap="round"/>
<circle cx="1056.9" cy="87.2" r="3.0" fill="url(#gb)"/>
<line x1="1055.4" y1="89.3" x2="1054.1" y2="82.3" stroke="#9f99c0" stroke-width="1.8" stroke-linecap="round"/>
<circle cx="1055.4" cy="89.3" r="2.8" fill="url(#gb)"/>
<line x1="1045.5" y1="96.1" x2="1044.1" y2="88.8" stroke="#9f99c0" stroke-width="1.8" stroke-linecap="round"/>
<circle cx="1045.5" cy="96.1" r="2.9" fill="url(#gb)"/>
<line x1="1050.1" y1="95.6" x2="1055.6" y2="89.5" stroke="#9f99c0" stroke-width="1.8" stroke-linecap="round"/>
<circle cx="1050.1" cy="95.6" r="2.7" fill="url(#gb)"/>
<line x1="1049.4" y1="99.3" x2="1041.9" y2="100.0" stroke="#9f99c0" stroke-width="1.8" stroke-linecap="round"/>
<circle cx="1049.4" cy="99.3" r="2.6" fill="url(#gb)"/>
<line x1="1056.5" y1="96.8" x2="1060.9" y2="89.4" stroke="#9f99c0" stroke-width="1.8" stroke-linecap="round"/>
<circle cx="1056.5" cy="96.8" r="2.5" fill="url(#gb)"/>
<line x1="1052.6" y1="101.6" x2="1046.9" y2="98.7" stroke="#9f99c0" stroke-width="1.8" stroke-linecap="round"/>
<circle cx="1052.6" cy="101.6" r="2.6" fill="url(#gb)"/>
<line x1="1047.9" y1="107.6" x2="1046.2" y2="99.7" stroke="#9f99c0" stroke-width="1.8" stroke-linecap="round"/>
<circle cx="1047.9" cy="107.6" r="2.8" fill="url(#gb)"/>
<line x1="1066.0" y1="98.2" x2="1070.2" y2="91.9" stroke="#9f99c0" stroke-width="1.8" stroke-linecap="round"/>
<circle cx="1066.0" cy="98.2" r="2.5" fill="url(#gb)"/>
<line x1="1057.5" y1="106.8" x2="1058.7" y2="114.1" stroke="#9f99c0" stroke-width="1.8" stroke-linecap="round"/>
<circle cx="1057.5" cy="106.8" r="2.5" fill="url(#gb)"/>
<line x1="1059.0" y1="107.2" x2="1066.8" y2="110.4" stroke="#9f99c0" stroke-width="1.8" stroke-linecap="round"/>
<circle cx="1059.0" cy="107.2" r="2.7" fill="url(#gb)"/>
<line x1="1068.1" y1="103.7" x2="1074.8" y2="101.0" stroke="#9f99c0" stroke-width="1.8" stroke-linecap="round"/>
<circle cx="1068.1" cy="103.7" r="2.9" fill="url(#gb)"/>
<line x1="1054.4" y1="113.9" x2="1061.6" y2="109.3" stroke="#9f99c0" stroke-width="1.8" stroke-linecap="round"/>
<circle cx="1054.4" cy="113.9" r="3.0" fill="url(#gb)"/>
<line x1="1053.9" y1="115.9" x2="1057.4" y2="122.0" stroke="#9f99c0" stroke-width="1.8" stroke-linecap="round"/>
<circle cx="1053.9" cy="115.9" r="2.9" fill="url(#gb)"/>
<line x1="1069.8" y1="110.5" x2="1075.9" y2="105.3" stroke="#9f99c0" stroke-width="1.8" stroke-linecap="round"/>
<circle cx="1069.8" cy="110.5" r="2.6" fill="url(#gb)"/>
<line x1="1069.6" y1="111.5" x2="1066.5" y2="119.2" stroke="#9f99c0" stroke-width="1.8" stroke-linecap="round"/>
<circle cx="1069.6" cy="111.5" r="2.9" fill="url(#gb)"/>
<line x1="1072.1" y1="112.6" x2="1067.5" y2="117.3" stroke="#9f99c0" stroke-width="1.8" stroke-linecap="round"/>
<circle cx="1072.1" cy="112.6" r="2.7" fill="url(#gb)"/>
<line x1="1066.0" y1="117.8" x2="1070.6" y2="122.9" stroke="#9f99c0" stroke-width="1.8" stroke-linecap="round"/>
<circle cx="1066.0" cy="117.8" r="2.7" fill="url(#gb)"/>
<polygon points="977,58 1001,89 947,191 924,163" fill="#d8d8b4"/>
<line x1="924" y1="163" x2="945" y2="189.5" stroke="#111" stroke-width="2.2"/>
<line x1="982.1" y1="71.9" x2="976.0" y2="74.8" stroke="#9f99c0" stroke-width="1.8" stroke-linecap="round"/>
<circle cx="982.1" cy="71.9" r="3.0" fill="url(#gb)"/>
<line x1="980.5" y1="73.0" x2="979.2" y2="64.9" stroke="#9f99c0" stroke-width="1.8" stroke-linecap="round"/>
<circle cx="980.5" cy="73.0" r="2.8" fill="url(#gb)"/>
<line x1="979.9" y1="76.1" x2="982.6" y2="67.8" stroke="#9f99c0" stroke-width="1.8" stroke-linecap="round"/>
<circle cx="979.9" cy="76.1" r="2.8" fill="url(#gb)"/>
<line x1="986.2" y1="81.9" x2="993.4" y2="79.6" stroke="#9f99c0" stroke-width="1.8" stroke-linecap="round"/>
<circle cx="986.2" cy="81.9" r="2.7" fill="url(#gb)"/>
<line x1="975.6" y1="78.1" x2="980.3" y2="71.5" stroke="#9f99c0" stroke-width="1.8" stroke-linecap="round"/>
<circle cx="975.6" cy="78.1" r="2.6" fill="url(#gb)"/>
<line x1="992.9" y1="89.1" x2="999.7" y2="84.7" stroke="#9f99c0" stroke-width="1.8" stroke-linecap="round"/>
<circle cx="992.9" cy="89.1" r="3.0" fill="url(#gb)"/>
<line x1="987.0" y1="87.9" x2="983.6" y2="94.2" stroke="#9f99c0" stroke-width="1.8" stroke-linecap="round"/>
<circle cx="987.0" cy="87.9" r="2.5" fill="url(#gb)"/>
<line x1="991.9" y1="93.9" x2="997.1" y2="99.6" stroke="#9f99c0" stroke-width="1.8" stroke-linecap="round"/>
<circle cx="991.9" cy="93.9" r="3.0" fill="url(#gb)"/>
<line x1="983.5" y1="92.3" x2="975.3" y2="93.1" stroke="#9f99c0" stroke-width="1.8" stroke-linecap="round"/>
<circle cx="983.5" cy="92.3" r="2.6" fill="url(#gb)"/>
<line x1="967.3" y1="87.2" x2="970.3" y2="80.2" stroke="#9f99c0" stroke-width="1.8" stroke-linecap="round"/>
<circle cx="967.3" cy="87.2" r="2.8" fill="url(#gb)"/>
<line x1="988.6" y1="100.0" x2="980.9" y2="102.3" stroke="#9f99c0" stroke-width="1.8" stroke-linecap="round"/>
<circle cx="988.6" cy="100.0" r="2.9" fill="url(#gb)"/>
<line x1="987.8" y1="103.4" x2="980.9" y2="102.5" stroke="#9f99c0" stroke-width="1.8" stroke-linecap="round"/>
<circle cx="987.8" cy="103.4" r="2.6" fill="url(#gb)"/>
<line x1="970.4" y1="96.6" x2="975.0" y2="92.5" stroke="#9f99c0" stroke-width="1.8" stroke-linecap="round"/>
<circle cx="970.4" cy="96.6" r="2.8" fill="url(#gb)"/>
<line x1="984.4" y1="104.9" x2="987.3" y2="110.7" stroke="#9f99c0" stroke-width="1.8" stroke-linecap="round"/>
<circle cx="984.4" cy="104.9" r="2.6" fill="url(#gb)"/>
<line x1="974.3" y1="103.1" x2="975.9" y2="95.8" stroke="#9f99c0" stroke-width="1.8" stroke-linecap="round"/>
<circle cx="974.3" cy="103.1" r="2.6" fill="url(#gb)"/>
<line x1="961.9" y1="99.8" x2="954.7" y2="96.5" stroke="#9f99c0" stroke-width="1.8" stroke-linecap="round"/>
<circle cx="961.9" cy="99.8" r="2.7" fill="url(#gb)"/>
<line x1="968.1" y1="105.6" x2="966.0" y2="96.9" stroke="#9f99c0" stroke-width="1.8" stroke-linecap="round"/>
<circle cx="968.1" cy="105.6" r="2.9" fill="url(#gb)"/>
<line x1="965.6" y1="107.7" x2="967.6" y2="101.5" stroke="#9f99c0" stroke-width="1.8" stroke-linecap="round"/>
<circle cx="965.6" cy="107.7" r="2.6" fill="url(#gb)"/>
<line x1="981.4" y1="117.4" x2="981.2" y2="110.6" stroke="#9f99c0" stroke-width="1.8" stroke-linecap="round"/>
<circle cx="981.4" cy="117.4" r="2.6" fill="url(#gb)"/>
<line x1="960.5" y1="108.8" x2="959.8" y2="115.9" stroke="#9f99c0" stroke-width="1.8" stroke-linecap="round"/>
<circle cx="960.5" cy="108.8" r="2.9" fill="url(#gb)"/>
<line x1="961.6" y1="113.3" x2="963.4" y2="119.5" stroke="#9f99c0" stroke-width="1.8" stroke-linecap="round"/>
<circle cx="961.6" cy="113.3" r="2.8" fill="url(#gb)"/>
<line x1="974.6" y1="122.7" x2="967.9" y2="126.7" stroke="#9f99c0" stroke-width="1.8" stroke-linecap="round"/>
<circle cx="974.6" cy="122.7" r="2.6" fill="url(#gb)"/>
<line x1="953.4" y1="113.4" x2="947.6" y2="115.5" stroke="#9f99c0" stroke-width="1.8" stroke-linecap="round"/>
<circle cx="953.4" cy="113.4" r="2.8" fill="url(#gb)"/>
<line x1="961.5" y1="119.5" x2="965.2" y2="124.8" stroke="#9f99c0" stroke-width="1.8" stroke-linecap="round"/>
<circle cx="961.5" cy="119.5" r="2.6" fill="url(#gb)"/>
<line x1="968.1" y1="126.9" x2="965.0" y2="133.9" stroke="#9f99c0" stroke-width="1.8" stroke-linecap="round"/>
<circle cx="968.1" cy="126.9" r="2.6" fill="url(#gb)"/>
<line x1="971.0" y1="129.7" x2="965.4" y2="124.0" stroke="#9f99c0" stroke-width="1.8" stroke-linecap="round"/>
<circle cx="971.0" cy="129.7" r="2.6" fill="url(#gb)"/>
<line x1="972.1" y1="132.8" x2="975.8" y2="128.0" stroke="#9f99c0" stroke-width="1.8" stroke-linecap="round"/>
<circle cx="972.1" cy="132.8" r="2.8" fill="url(#gb)"/>
<line x1="966.7" y1="134.0" x2="970.5" y2="127.5" stroke="#9f99c0" stroke-width="1.8" stroke-linecap="round"/>
<circle cx="966.7" cy="134.0" r="2.5" fill="url(#gb)"/>
<line x1="947.0" y1="125.4" x2="939.0" y2="123.1" stroke="#9f99c0" stroke-width="1.8" stroke-linecap="round"/>
<circle cx="947.0" cy="125.4" r="2.6" fill="url(#gb)"/>
<line x1="949.2" y1="130.5" x2="945.2" y2="125.7" stroke="#9f99c0" stroke-width="1.8" stroke-linecap="round"/>
<circle cx="949.2" cy="130.5" r="2.5" fill="url(#gb)"/>
<line x1="962.0" y1="140.1" x2="967.7" y2="137.3" stroke="#9f99c0" stroke-width="1.8" stroke-linecap="round"/>
<circle cx="962.0" cy="140.1" r="2.9" fill="url(#gb)"/>
<line x1="960.5" y1="139.7" x2="962.4" y2="147.0" stroke="#9f99c0" stroke-width="1.8" stroke-linecap="round"/>
<circle cx="960.5" cy="139.7" r="2.6" fill="url(#gb)"/>
<line x1="961.3" y1="145.3" x2="957.7" y2="137.3" stroke="#9f99c0" stroke-width="1.8" stroke-linecap="round"/>
<circle cx="961.3" cy="145.3" r="2.7" fill="url(#gb)"/>
<line x1="947.0" y1="139.4" x2="941.0" y2="136.9" stroke="#9f99c0" stroke-width="1.8" stroke-linecap="round"/>
<circle cx="947.0" cy="139.4" r="2.7" fill="url(#gb)"/>
<line x1="953.2" y1="145.5" x2="961.4" y2="144.9" stroke="#9f99c0" stroke-width="1.8" stroke-linecap="round"/>
<circle cx="953.2" cy="145.5" r="2.7" fill="url(#gb)"/>
<line x1="948.3" y1="144.9" x2="947.8" y2="153.8" stroke="#9f99c0" stroke-width="1.8" stroke-linecap="round"/>
<circle cx="948.3" cy="144.9" r="3.0" fill="url(#gb)"/>
<line x1="955.8" y1="152.3" x2="956.8" y2="145.0" stroke="#9f99c0" stroke-width="1.8" stroke-linecap="round"/>
<circle cx="955.8" cy="152.3" r="2.9" fill="url(#gb)"/>
<line x1="955.3" y1="154.5" x2="962.6" y2="156.7" stroke="#9f99c0" stroke-width="1.8" stroke-linecap="round"/>
<circle cx="955.3" cy="154.5" r="2.6" fill="url(#gb)"/>
<line x1="953.6" y1="156.8" x2="956.8" y2="162.4" stroke="#9f99c0" stroke-width="1.8" stroke-linecap="round"/>
<circle cx="953.6" cy="156.8" r="2.7" fill="url(#gb)"/>
<line x1="942.5" y1="152.8" x2="948.4" y2="157.3" stroke="#9f99c0" stroke-width="1.8" stroke-linecap="round"/>
<circle cx="942.5" cy="152.8" r="2.6" fill="url(#gb)"/>
<line x1="942.4" y1="154.5" x2="934.3" y2="151.0" stroke="#9f99c0" stroke-width="1.8" stroke-linecap="round"/>
<circle cx="942.4" cy="154.5" r="3.0" fill="url(#gb)"/>
<line x1="944.9" y1="158.2" x2="944.1" y2="164.4" stroke="#9f99c0" stroke-width="1.8" stroke-linecap="round"/>
<circle cx="944.9" cy="158.2" r="2.6" fill="url(#gb)"/>
<line x1="949.4" y1="164.6" x2="950.3" y2="172.2" stroke="#9f99c0" stroke-width="1.8" stroke-linecap="round"/>
<circle cx="949.4" cy="164.6" r="3.0" fill="url(#gb)"/>
<line x1="932.1" y1="157.3" x2="930.9" y2="151.1" stroke="#9f99c0" stroke-width="1.8" stroke-linecap="round"/>
<circle cx="932.1" cy="157.3" r="2.8" fill="url(#gb)"/>
<line x1="949.6" y1="168.3" x2="950.9" y2="161.8" stroke="#9f99c0" stroke-width="1.8" stroke-linecap="round"/>
<circle cx="949.6" cy="168.3" r="2.6" fill="url(#gb)"/>
<line x1="948.6" y1="172.9" x2="943.3" y2="176.0" stroke="#9f99c0" stroke-width="1.8" stroke-linecap="round"/>
<circle cx="948.6" cy="172.9" r="2.8" fill="url(#gb)"/>
<line x1="944.7" y1="171.1" x2="941.4" y2="177.7" stroke="#9f99c0" stroke-width="1.8" stroke-linecap="round"/>
<circle cx="944.7" cy="171.1" r="3.0" fill="url(#gb)"/>
<line x1="943.8" y1="174.0" x2="948.1" y2="180.9" stroke="#9f99c0" stroke-width="1.8" stroke-linecap="round"/>
<circle cx="943.8" cy="174.0" r="2.7" fill="url(#gb)"/>
<line x1="949.4" y1="179.2" x2="951.0" y2="172.6" stroke="#9f99c0" stroke-width="1.8" stroke-linecap="round"/>
<circle cx="949.4" cy="179.2" r="2.6" fill="url(#gb)"/>
<line x1="934.8" y1="176.3" x2="942.3" y2="179.8" stroke="#9f99c0" stroke-width="1.8" stroke-linecap="round"/>
<circle cx="934.8" cy="176.3" r="2.9" fill="url(#gt)"/>
<polygon points="843,139 850,134 953,213 945,217" fill="#d8d8b4"/>
<line x1="842.9" y1="141.2" x2="834.1" y2="142.6" stroke="#9f99c0" stroke-width="1.8" stroke-linecap="round"/>
<circle cx="842.9" cy="141.2" r="2.6" fill="url(#gb)"/>
<line x1="846.2" y1="140.5" x2="852.2" y2="140.0" stroke="#9f99c0" stroke-width="1.8" stroke-linecap="round"/>
<circle cx="846.2" cy="140.5" r="2.9" fill="url(#gt)"/>
<line x1="848.5" y1="141.6" x2="856.2" y2="139.6" stroke="#9f99c0" stroke-width="1.8" stroke-linecap="round"/>
<circle cx="848.5" cy="141.6" r="2.6" fill="url(#gb)"/>
<line x1="847.4" y1="146.2" x2="844.2" y2="153.9" stroke="#9f99c0" stroke-width="1.8" stroke-linecap="round"/>
<circle cx="847.4" cy="146.2" r="2.7" fill="url(#gb)"/>
<line x1="859.7" y1="136.4" x2="853.6" y2="130.5" stroke="#9f99c0" stroke-width="1.8" stroke-linecap="round"/>
<circle cx="859.7" cy="136.4" r="2.6" fill="url(#gb)"/>
<line x1="855.3" y1="146.3" x2="863.4" y2="145.1" stroke="#9f99c0" stroke-width="1.8" stroke-linecap="round"/>
<circle cx="855.3" cy="146.3" r="2.9" fill="url(#gb)"/>
<line x1="852.1" y1="152.0" x2="859.3" y2="155.0" stroke="#9f99c0" stroke-width="1.8" stroke-linecap="round"/>
<circle cx="852.1" cy="152.0" r="2.5" fill="url(#gb)"/>
<line x1="863.5" y1="142.7" x2="870.5" y2="143.6" stroke="#9f99c0" stroke-width="1.8" stroke-linecap="round"/>
<circle cx="863.5" cy="142.7" r="2.6" fill="url(#gb)"/>
<line x1="857.8" y1="153.5" x2="864.4" y2="153.5" stroke="#9f99c0" stroke-width="1.8" stroke-linecap="round"/>
<circle cx="857.8" cy="153.5" r="3.0" fill="url(#gb)"/>
<line x1="864.1" y1="148.9" x2="855.7" y2="148.8" stroke="#9f99c0" stroke-width="1.8" stroke-linecap="round"/>
<circle cx="864.1" cy="148.9" r="2.7" fill="url(#gb)"/>
<line x1="863.9" y1="155.6" x2="859.5" y2="151.0" stroke="#9f99c0" stroke-width="1.8" stroke-linecap="round"/>
<circle cx="863.9" cy="155.6" r="2.5" fill="url(#gb)"/>
<line x1="871.9" y1="149.8" x2="867.6" y2="142.3" stroke="#9f99c0" stroke-width="1.8" stroke-linecap="round"/>
<circle cx="871.9" cy="149.8" r="2.9" fill="url(#gb)"/>
<line x1="874.3" y1="147.6" x2="871.4" y2="140.0" stroke="#9f99c0" stroke-width="1.8" stroke-linecap="round"/>
<circle cx="874.3" cy="147.6" r="2.7" fill="url(#gb)"/>
<line x1="874.7" y1="152.7" x2="866.5" y2="156.0" stroke="#9f99c0" stroke-width="1.8" stroke-linecap="round"/>
<circle cx="874.7" cy="152.7" r="2.8" fill="url(#gb)"/>
<line x1="879.4" y1="151.2" x2="882.1" y2="156.8" stroke="#9f99c0" stroke-width="1.8" stroke-linecap="round"/>
<circle cx="879.4" cy="151.2" r="2.8" fill="url(#gb)"/>
<line x1="879.7" y1="155.2" x2="877.3" y2="146.6" stroke="#9f99c0" stroke-width="1.8" stroke-linecap="round"/>
<circle cx="879.7" cy="155.2" r="2.8" fill="url(#gb)"/>
<line x1="873.4" y1="165.4" x2="872.7" y2="172.4" stroke="#9f99c0" stroke-width="1.8" stroke-linecap="round"/>
<circle cx="873.4" cy="165.4" r="3.0" fill="url(#gb)"/>
<line x1="877.6" y1="165.8" x2="881.2" y2="174.0" stroke="#9f99c0" stroke-width="1.8" stroke-linecap="round"/>
<circle cx="877.6" cy="165.8" r="2.8" fill="url(#gb)"/>
<line x1="880.0" y1="165.4" x2="878.7" y2="158.4" stroke="#9f99c0" stroke-width="1.8" stroke-linecap="round"/>
<circle cx="880.0" cy="165.4" r="2.7" fill="url(#gb)"/>
<line x1="885.6" y1="162.3" x2="887.5" y2="154.2" stroke="#9f99c0" stroke-width="1.8" stroke-linecap="round"/>
<circle cx="885.6" cy="162.3" r="2.5" fill="url(#gb)"/>
<line x1="882.7" y1="171.2" x2="878.6" y2="176.4" stroke="#9f99c0" stroke-width="1.8" stroke-linecap="round"/>
<circle cx="882.7" cy="171.2" r="2.5" fill="url(#gb)"/>
<line x1="885.0" y1="172.5" x2="892.6" y2="173.7" stroke="#9f99c0" stroke-width="1.8" stroke-linecap="round"/>
<circle cx="885.0" cy="172.5" r="2.5" fill="url(#gb)"/>
<line x1="885.7" y1="173.9" x2="890.4" y2="166.3" stroke="#9f99c0" stroke-width="1.8" stroke-linecap="round"/>
<circle cx="885.7" cy="173.9" r="2.6" fill="url(#gb)"/>
<line x1="895.0" y1="165.3" x2="895.5" y2="172.2" stroke="#9f99c0" stroke-width="1.8" stroke-linecap="round"/>
<circle cx="895.0" cy="165.3" r="2.6" fill="url(#gb)"/>
<line x1="895.2" y1="168.2" x2="901.9" y2="173.8" stroke="#9f99c0" stroke-width="1.8" stroke-linecap="round"/>
<circle cx="895.2" cy="168.2" r="2.5" fill="url(#gb)"/>
<line x1="899.0" y1="167.9" x2="907.3" y2="167.1" stroke="#9f99c0" stroke-width="1.8" stroke-linecap="round"/>
<circle cx="899.0" cy="167.9" r="2.5" fill="url(#gb)"/>
<line x1="896.8" y1="174.3" x2="889.4" y2="176.4" stroke="#9f99c0" stroke-width="1.8" stroke-linecap="round"/>
<circle cx="896.8" cy="174.3" r="2.9" fill="url(#gb)"/>
<line x1="900.4" y1="172.6" x2="899.3" y2="179.8" stroke="#9f99c0" stroke-width="1.8" stroke-linecap="round"/>
<circle cx="900.4" cy="172.6" r="2.7" fill="url(#gb)"/>
<line x1="905.0" y1="170.9" x2="913.3" y2="173.9" stroke="#9f99c0" stroke-width="1.8" stroke-linecap="round"/>
<circle cx="905.0" cy="170.9" r="2.8" fill="url(#gb)"/>
<line x1="901.0" y1="180.3" x2="892.6" y2="180.6" stroke="#9f99c0" stroke-width="1.8" stroke-linecap="round"/>
<circle cx="901.0" cy="180.3" r="2.6" fill="url(#gb)"/>
<line x1="909.3" y1="173.8" x2="909.7" y2="181.3" stroke="#9f99c0" stroke-width="1.8" stroke-linecap="round"/>
<circle cx="909.3" cy="173.8" r="3.0" fill="url(#gb)"/>
<line x1="909.2" y1="178.7" x2="905.0" y2="184.2" stroke="#9f99c0" stroke-width="1.8" stroke-linecap="round"/>
<circle cx="909.2" cy="178.7" r="2.8" fill="url(#gb)"/>
<line x1="908.9" y1="181.2" x2="914.6" y2="186.3" stroke="#9f99c0" stroke-width="1.8" stroke-linecap="round"/>
<circle cx="908.9" cy="181.2" r="2.7" fill="url(#gb)"/>
<line x1="907.0" y1="191.2" x2="898.9" y2="194.1" stroke="#9f99c0" stroke-width="1.8" stroke-linecap="round"/>
<circle cx="907.0" cy="191.2" r="2.6" fill="url(#gb)"/>
<line x1="917.0" y1="180.0" x2="920.4" y2="171.9" stroke="#9f99c0" stroke-width="1.8" stroke-linecap="round"/>
<circle cx="917.0" cy="180.0" r="2.9" fill="url(#gb)"/>
<line x1="912.9" y1="191.3" x2="904.8" y2="188.9" stroke="#9f99c0" stroke-width="1.8" stroke-linecap="round"/>
<circle cx="912.9" cy="191.3" r="2.7" fill="url(#gb)"/>
<line x1="912.5" y1="196.1" x2="907.6" y2="201.5" stroke="#9f99c0" stroke-width="1.8" stroke-linecap="round"/>
<circle cx="912.5" cy="196.1" r="2.8" fill="url(#gb)"/>
<line x1="920.0" y1="190.0" x2="914.6" y2="195.9" stroke="#9f99c0" stroke-width="1.8" stroke-linecap="round"/>
<circle cx="920.0" cy="190.0" r="2.7" fill="url(#gb)"/>
<line x1="920.2" y1="192.8" x2="916.6" y2="186.3" stroke="#9f99c0" stroke-width="1.8" stroke-linecap="round"/>
<circle cx="920.2" cy="192.8" r="2.5" fill="url(#gb)"/>
<line x1="919.1" y1="198.6" x2="920.4" y2="207.4" stroke="#9f99c0" stroke-width="1.8" stroke-linecap="round"/>
<circle cx="919.1" cy="198.6" r="3.0" fill="url(#gb)"/>
<line x1="927.9" y1="191.4" x2="930.8" y2="198.4" stroke="#9f99c0" stroke-width="1.8" stroke-linecap="round"/>
<circle cx="927.9" cy="191.4" r="2.6" fill="url(#gb)"/>
<line x1="920.9" y1="202.7" x2="923.9" y2="197.4" stroke="#9f99c0" stroke-width="1.8" stroke-linecap="round"/>
<circle cx="920.9" cy="202.7" r="2.5" fill="url(#gb)"/>
<line x1="924.8" y1="202.2" x2="928.7" y2="197.6" stroke="#9f99c0" stroke-width="1.8" stroke-linecap="round"/>
<circle cx="924.8" cy="202.2" r="2.7" fill="url(#gb)"/>
<line x1="931.7" y1="198.8" x2="927.0" y2="191.4" stroke="#9f99c0" stroke-width="1.8" stroke-linecap="round"/>
<circle cx="931.7" cy="198.8" r="2.5" fill="url(#gb)"/>
<line x1="930.6" y1="204.5" x2="925.8" y2="210.3" stroke="#9f99c0" stroke-width="1.8" stroke-linecap="round"/>
<circle cx="930.6" cy="204.5" r="2.6" fill="url(#gb)"/>
<line x1="933.3" y1="203.2" x2="934.5" y2="209.8" stroke="#9f99c0" stroke-width="1.8" stroke-linecap="round"/>
<circle cx="933.3" cy="203.2" r="2.6" fill="url(#gb)"/>
<line x1="930.7" y1="210.3" x2="929.6" y2="218.5" stroke="#9f99c0" stroke-width="1.8" stroke-linecap="round"/>
<circle cx="930.7" cy="210.3" r="2.6" fill="url(#gb)"/>
<line x1="939.2" y1="202.2" x2="933.8" y2="205.4" stroke="#9f99c0" stroke-width="1.8" stroke-linecap="round"/>
<circle cx="939.2" cy="202.2" r="2.5" fill="url(#gb)"/>
<line x1="941.8" y1="202.8" x2="944.4" y2="195.5" stroke="#9f99c0" stroke-width="1.8" stroke-linecap="round"/>
<circle cx="941.8" cy="202.8" r="2.7" fill="url(#gb)"/>
<line x1="937.2" y1="214.8" x2="945.3" y2="213.3" stroke="#9f99c0" stroke-width="1.8" stroke-linecap="round"/>
<circle cx="937.2" cy="214.8" r="2.6" fill="url(#gt)"/>
<line x1="945.2" y1="205.8" x2="949.8" y2="210.7" stroke="#9f99c0" stroke-width="1.8" stroke-linecap="round"/>
<circle cx="945.2" cy="205.8" r="2.6" fill="url(#gb)"/>
<line x1="945.7" y1="211.8" x2="938.3" y2="209.4" stroke="#9f99c0" stroke-width="1.8" stroke-linecap="round"/>
<circle cx="945.7" cy="211.8" r="2.9" fill="url(#gb)"/>
<line x1="950.3" y1="208.5" x2="943.8" y2="209.7" stroke="#9f99c0" stroke-width="1.8" stroke-linecap="round"/>
<circle cx="950.3" cy="208.5" r="3.0" fill="url(#gb)"/>
<line x1="947.5" y1="216.7" x2="944.9" y2="223.7" stroke="#9f99c0" stroke-width="1.8" stroke-linecap="round"/>
<circle cx="947.5" cy="216.7" r="2.7" fill="url(#gb)"/>
<polygon points="964,222.5 1061,147 1063,159 962,240" fill="#bfbf9d"/>
<polygon points="964,221 1061,145.5 1061,148.5 964,224.5" fill="#ebead0"/>
<polygon points="962,223 966,223 964,240 960,240" fill="#111"/>
<line x1="968.5" y1="237.6" x2="961.8" y2="235.1" stroke="#9f99c0" stroke-width="1.8" stroke-linecap="round"/>
<circle cx="968.5" cy="237.6" r="3.0" fill="url(#gb)"/>
<line x1="961.0" y1="224.8" x2="956.5" y2="218.7" stroke="#9f99c0" stroke-width="1.8" stroke-linecap="round"/>
<circle cx="961.0" cy="224.8" r="2.7" fill="url(#gb)"/>
<line x1="970.0" y1="230.1" x2="961.8" y2="226.6" stroke="#9f99c0" stroke-width="1.8" stroke-linecap="round"/>
<circle cx="970.0" cy="230.1" r="2.6" fill="url(#gb)"/>
<line x1="967.4" y1="225.2" x2="961.2" y2="229.0" stroke="#9f99c0" stroke-width="1.8" stroke-linecap="round"/>
<circle cx="967.4" cy="225.2" r="2.6" fill="url(#gb)"/>
<line x1="972.3" y1="224.0" x2="970.5" y2="231.6" stroke="#9f99c0" stroke-width="1.8" stroke-linecap="round"/>
<circle cx="972.3" cy="224.0" r="2.8" fill="url(#gb)"/>
<line x1="972.9" y1="221.6" x2="980.1" y2="217.9" stroke="#9f99c0" stroke-width="1.8" stroke-linecap="round"/>
<circle cx="972.9" cy="221.6" r="2.9" fill="url(#gb)"/>
<line x1="981.8" y1="229.2" x2="984.5" y2="222.9" stroke="#9f99c0" stroke-width="1.8" stroke-linecap="round"/>
<circle cx="981.8" cy="229.2" r="2.5" fill="url(#gt)"/>
<line x1="982.3" y1="226.2" x2="979.3" y2="219.2" stroke="#9f99c0" stroke-width="1.8" stroke-linecap="round"/>
<circle cx="982.3" cy="226.2" r="2.8" fill="url(#gb)"/>
<line x1="982.7" y1="223.4" x2="987.1" y2="230.0" stroke="#9f99c0" stroke-width="1.8" stroke-linecap="round"/>
<circle cx="982.7" cy="223.4" r="2.7" fill="url(#gb)"/>
<line x1="986.1" y1="223.9" x2="993.1" y2="228.2" stroke="#9f99c0" stroke-width="1.8" stroke-linecap="round"/>
<circle cx="986.1" cy="223.9" r="2.9" fill="url(#gb)"/>
<line x1="984.8" y1="217.1" x2="978.8" y2="212.9" stroke="#9f99c0" stroke-width="1.8" stroke-linecap="round"/>
<circle cx="984.8" cy="217.1" r="2.7" fill="url(#gb)"/>
<line x1="987.7" y1="219.3" x2="980.5" y2="217.1" stroke="#9f99c0" stroke-width="1.8" stroke-linecap="round"/>
<circle cx="987.7" cy="219.3" r="2.7" fill="url(#gb)"/>
<line x1="990.7" y1="217.4" x2="989.1" y2="211.5" stroke="#9f99c0" stroke-width="1.8" stroke-linecap="round"/>
<circle cx="990.7" cy="217.4" r="2.6" fill="url(#gb)"/>
<line x1="986.8" y1="211.7" x2="994.2" y2="215.6" stroke="#9f99c0" stroke-width="1.8" stroke-linecap="round"/>
<circle cx="986.8" cy="211.7" r="2.7" fill="url(#gb)"/>
<line x1="988.0" y1="206.6" x2="981.7" y2="207.2" stroke="#9f99c0" stroke-width="1.8" stroke-linecap="round"/>
<circle cx="988.0" cy="206.6" r="2.6" fill="url(#gb)"/>
<line x1="985.5" y1="202.6" x2="983.3" y2="211.2" stroke="#9f99c0" stroke-width="1.8" stroke-linecap="round"/>
<circle cx="985.5" cy="202.6" r="2.9" fill="url(#gb)"/>
<line x1="999.0" y1="214.9" x2="991.1" y2="210.6" stroke="#9f99c0" stroke-width="1.8" stroke-linecap="round"/>
<circle cx="999.0" cy="214.9" r="2.9" fill="url(#gb)"/>
<line x1="1001.0" y1="213.7" x2="1008.0" y2="208.1" stroke="#9f99c0" stroke-width="1.8" stroke-linecap="round"/>
<circle cx="1001.0" cy="213.7" r="2.5" fill="url(#gb)"/>
<line x1="995.7" y1="203.6" x2="993.4" y2="210.4" stroke="#9f99c0" stroke-width="1.8" stroke-linecap="round"/>
<circle cx="995.7" cy="203.6" r="2.9" fill="url(#gb)"/>
<line x1="996.7" y1="198.7" x2="999.7" y2="204.3" stroke="#9f99c0" stroke-width="1.8" stroke-linecap="round"/>
<circle cx="996.7" cy="198.7" r="2.8" fill="url(#gb)"/>
<line x1="994.8" y1="194.3" x2="1000.8" y2="192.5" stroke="#9f99c0" stroke-width="1.8" stroke-linecap="round"/>
<circle cx="994.8" cy="194.3" r="2.8" fill="url(#gb)"/>
<line x1="1006.8" y1="204.4" x2="1007.7" y2="197.6" stroke="#9f99c0" stroke-width="1.8" stroke-linecap="round"/>
<circle cx="1006.8" cy="204.4" r="2.6" fill="url(#gb)"/>
<line x1="1010.6" y1="204.8" x2="1002.6" y2="200.9" stroke="#9f99c0" stroke-width="1.8" stroke-linecap="round"/>
<circle cx="1010.6" cy="204.8" r="2.8" fill="url(#gb)"/>
<line x1="1002.5" y1="192.5" x2="1009.0" y2="192.0" stroke="#9f99c0" stroke-width="1.8" stroke-linecap="round"/>
<circle cx="1002.5" cy="192.5" r="2.6" fill="url(#gb)"/>
<line x1="1002.4" y1="190.3" x2="995.4" y2="189.0" stroke="#9f99c0" stroke-width="1.8" stroke-linecap="round"/>
<circle cx="1002.4" cy="190.3" r="2.6" fill="url(#gb)"/>
<line x1="1003.7" y1="185.7" x2="1001.7" y2="193.6" stroke="#9f99c0" stroke-width="1.8" stroke-linecap="round"/>
<circle cx="1003.7" cy="185.7" r="2.6" fill="url(#gb)"/>
<line x1="1004.7" y1="183.7" x2="996.7" y2="180.2" stroke="#9f99c0" stroke-width="1.8" stroke-linecap="round"/>
<circle cx="1004.7" cy="183.7" r="2.7" fill="url(#gb)"/>
<line x1="1017.7" y1="196.8" x2="1024.6" y2="199.6" stroke="#9f99c0" stroke-width="1.8" stroke-linecap="round"/>
<circle cx="1017.7" cy="196.8" r="2.7" fill="url(#gb)"/>
<line x1="1014.1" y1="189.2" x2="1020.8" y2="190.5" stroke="#9f99c0" stroke-width="1.8" stroke-linecap="round"/>
<circle cx="1014.1" cy="189.2" r="2.5" fill="url(#gb)"/>
<line x1="1019.0" y1="191.2" x2="1012.3" y2="195.2" stroke="#9f99c0" stroke-width="1.8" stroke-linecap="round"/>
<circle cx="1019.0" cy="191.2" r="2.8" fill="url(#gb)"/>
<line x1="1020.0" y1="186.2" x2="1017.9" y2="180.4" stroke="#9f99c0" stroke-width="1.8" stroke-linecap="round"/>
<circle cx="1020.0" cy="186.2" r="2.8" fill="url(#gb)"/>
<line x1="1013.8" y1="176.4" x2="1013.4" y2="167.6" stroke="#9f99c0" stroke-width="1.8" stroke-linecap="round"/>
<circle cx="1013.8" cy="176.4" r="2.8" fill="url(#gb)"/>
<line x1="1027.4" y1="189.6" x2="1034.0" y2="186.4" stroke="#9f99c0" stroke-width="1.8" stroke-linecap="round"/>
<circle cx="1027.4" cy="189.6" r="2.9" fill="url(#gb)"/>
<line x1="1029.8" y1="187.8" x2="1022.3" y2="189.8" stroke="#9f99c0" stroke-width="1.8" stroke-linecap="round"/>
<circle cx="1029.8" cy="187.8" r="2.9" fill="url(#gb)"/>
<line x1="1022.1" y1="176.6" x2="1021.9" y2="182.7" stroke="#9f99c0" stroke-width="1.8" stroke-linecap="round"/>
<circle cx="1022.1" cy="176.6" r="3.0" fill="url(#gb)"/>
<line x1="1031.3" y1="184.2" x2="1028.3" y2="178.7" stroke="#9f99c0" stroke-width="1.8" stroke-linecap="round"/>
<circle cx="1031.3" cy="184.2" r="2.7" fill="url(#gb)"/>
<line x1="1031.7" y1="179.0" x2="1030.3" y2="173.0" stroke="#9f99c0" stroke-width="1.8" stroke-linecap="round"/>
<circle cx="1031.7" cy="179.0" r="2.8" fill="url(#gb)"/>
<line x1="1027.1" y1="169.2" x2="1020.5" y2="175.2" stroke="#9f99c0" stroke-width="1.8" stroke-linecap="round"/>
<circle cx="1027.1" cy="169.2" r="3.0" fill="url(#gb)"/>
<line x1="1028.7" y1="167.6" x2="1033.4" y2="163.0" stroke="#9f99c0" stroke-width="1.8" stroke-linecap="round"/>
<circle cx="1028.7" cy="167.6" r="2.9" fill="url(#gb)"/>
<line x1="1041.0" y1="179.1" x2="1046.3" y2="175.2" stroke="#9f99c0" stroke-width="1.8" stroke-linecap="round"/>
<circle cx="1041.0" cy="179.1" r="2.5" fill="url(#gb)"/>
<line x1="1033.8" y1="168.9" x2="1035.5" y2="161.9" stroke="#9f99c0" stroke-width="1.8" stroke-linecap="round"/>
<circle cx="1033.8" cy="168.9" r="2.9" fill="url(#gb)"/>
<line x1="1045.6" y1="177.7" x2="1040.9" y2="172.8" stroke="#9f99c0" stroke-width="1.8" stroke-linecap="round"/>
<circle cx="1045.6" cy="177.7" r="2.7" fill="url(#gb)"/>
<line x1="1043.4" y1="171.6" x2="1044.7" y2="179.3" stroke="#9f99c0" stroke-width="1.8" stroke-linecap="round"/>
<circle cx="1043.4" cy="171.6" r="2.9" fill="url(#gb)"/>
<line x1="1040.8" y1="165.0" x2="1048.7" y2="165.8" stroke="#9f99c0" stroke-width="1.8" stroke-linecap="round"/>
<circle cx="1040.8" cy="165.0" r="2.8" fill="url(#gb)"/>
<line x1="1046.7" y1="166.9" x2="1050.5" y2="173.0" stroke="#9f99c0" stroke-width="1.8" stroke-linecap="round"/>
<circle cx="1046.7" cy="166.9" r="2.9" fill="url(#gb)"/>
<line x1="1040.7" y1="155.9" x2="1048.3" y2="158.5" stroke="#9f99c0" stroke-width="1.8" stroke-linecap="round"/>
<circle cx="1040.7" cy="155.9" r="2.5" fill="url(#gb)"/>
<line x1="1045.2" y1="158.9" x2="1039.7" y2="155.3" stroke="#9f99c0" stroke-width="1.8" stroke-linecap="round"/>
<circle cx="1045.2" cy="158.9" r="2.5" fill="url(#gb)"/>
<line x1="1043.3" y1="154.5" x2="1038.1" y2="147.3" stroke="#9f99c0" stroke-width="1.8" stroke-linecap="round"/>
<circle cx="1043.3" cy="154.5" r="3.0" fill="url(#gb)"/>
<line x1="1044.6" y1="150.4" x2="1048.8" y2="156.8" stroke="#9f99c0" stroke-width="1.8" stroke-linecap="round"/>
<circle cx="1044.6" cy="150.4" r="2.8" fill="url(#gb)"/>
<line x1="1053.7" y1="160.5" x2="1059.4" y2="163.2" stroke="#9f99c0" stroke-width="1.8" stroke-linecap="round"/>
<circle cx="1053.7" cy="160.5" r="2.9" fill="url(#gb)"/>
<line x1="1061.9" y1="164.0" x2="1063.9" y2="157.5" stroke="#9f99c0" stroke-width="1.8" stroke-linecap="round"/>
<circle cx="1061.9" cy="164.0" r="2.9" fill="url(#gb)"/>
<line x1="1056.5" y1="154.6" x2="1050.6" y2="150.5" stroke="#9f99c0" stroke-width="1.8" stroke-linecap="round"/>
<circle cx="1056.5" cy="154.6" r="2.7" fill="url(#gb)"/>
<line x1="1065.2" y1="161.1" x2="1070.8" y2="158.3" stroke="#9f99c0" stroke-width="1.8" stroke-linecap="round"/>
<circle cx="1065.2" cy="161.1" r="2.9" fill="url(#gb)"/>
<line x1="1064.1" y1="156.7" x2="1069.2" y2="153.5" stroke="#9f99c0" stroke-width="1.8" stroke-linecap="round"/>
<circle cx="1064.1" cy="156.7" r="2.6" fill="url(#gb)"/>
<g transform="translate(53.5,436.7) rotate(-20.32)">
<ellipse cx="89.6" cy="0" rx="4.6" ry="7.0" fill="#94b9df"/>
<rect x="0" y="-7.0" width="89.6" height="14" fill="#97bce2"/>
<rect x="0" y="5.2" width="89.6" height="1.8" fill="#84a9d0"/>
<rect x="0" y="-5.5" width="89.6" height="4.2" fill="#a4c7e9"/>
<ellipse cx="0" cy="0" rx="4.6" ry="7.0" fill="#8db3da"/>
</g>
<g transform="translate(71.5,444.6) rotate(-21.45)">
<ellipse cx="90.2" cy="0" rx="4.6" ry="7.0" fill="#94b9df"/>
<rect x="0" y="-7.0" width="90.2" height="14" fill="#97bce2"/>
<rect x="0" y="5.2" width="90.2" height="1.8" fill="#84a9d0"/>
<rect x="0" y="-5.5" width="90.2" height="4.2" fill="#a4c7e9"/>
<ellipse cx="0" cy="0" rx="4.6" ry="7.0" fill="#8db3da"/>
</g>
<g transform="translate(89.5,451.3) rotate(-21.46)">
<ellipse cx="89.9" cy="0" rx="4.6" ry="7.0" fill="#94b9df"/>
<rect x="0" y="-7.0" width="89.9" height="14" fill="#97bce2"/>
<rect x="0" y="5.2" width="89.9" height="1.8" fill="#84a9d0"/>
<rect x="0" y="-5.5" width="89.9" height="4.2" fill="#a4c7e9"/>
<ellipse cx="0" cy="0" rx="4.6" ry="7.0" fill="#8db3da"/>
</g>
<g transform="translate(109,458.3) rotate(-21.60)">
<ellipse cx="89.9" cy="0" rx="4.6" ry="7.0" fill="#94b9df"/>
<rect x="0" y="-7.0" width="89.9" height="14" fill="#97bce2"/>
<rect x="0" y="5.2" width="89.9" height="1.8" fill="#84a9d0"/>
<rect x="0" y="-5.5" width="89.9" height="4.2" fill="#a4c7e9"/>
<ellipse cx="0" cy="0" rx="4.6" ry="7.0" fill="#8db3da"/>
</g>
<g transform="translate(128,465.4) rotate(-21.90)">
<ellipse cx="89.6" cy="0" rx="4.6" ry="7.0" fill="#94b9df"/>
<rect x="0" y="-7.0" width="89.6" height="14" fill="#97bce2"/>
<rect x="0" y="5.2" width="89.6" height="1.8" fill="#84a9d0"/>
<rect x="0" y="-5.5" width="89.6" height="4.2" fill="#a4c7e9"/>
<ellipse cx="0" cy="0" rx="4.6" ry="7.0" fill="#8db3da"/>
</g>
<g transform="translate(148,473.3) rotate(-22.29)">
<ellipse cx="89.9" cy="0" rx="4.6" ry="7.0" fill="#94b9df"/>
<rect x="0" y="-7.0" width="89.9" height="14" fill="#97bce2"/>
<rect x="0" y="5.2" width="89.9" height="1.8" fill="#84a9d0"/>
<rect x="0" y="-5.5" width="89.9" height="4.2" fill="#a4c7e9"/>
<ellipse cx="0" cy="0" rx="4.6" ry="7.0" fill="#8db3da"/>
</g>
<g transform="translate(404.5,444.5) rotate(-18.55)">
<ellipse cx="78.6" cy="0" rx="5.1" ry="7.8" fill="#ed7560"/>
<rect x="0" y="-7.8" width="78.6" height="15.5" fill="#ef7761"/>
<rect x="0" y="6.0" width="78.6" height="1.8" fill="#e06a57"/>
<rect x="0" y="-6.2" width="78.6" height="4.6" fill="#f2806b"/>
<ellipse cx="0" cy="0" rx="5.1" ry="7.8" fill="#956960"/>
<ellipse cx="0.4" cy="0" rx="3.7" ry="5.6" fill="#5f8b8e"/>
</g>
<g transform="translate(429,452) rotate(-19.64)">
<ellipse cx="76.4" cy="0" rx="5.1" ry="7.8" fill="#ed7560"/>
<rect x="0" y="-7.8" width="76.4" height="15.5" fill="#ef7761"/>
<rect x="0" y="6.0" width="76.4" height="1.8" fill="#e06a57"/>
<rect x="0" y="-6.2" width="76.4" height="4.6" fill="#f2806b"/>
<ellipse cx="0" cy="0" rx="5.1" ry="7.8" fill="#956960"/>
<ellipse cx="0.4" cy="0" rx="3.7" ry="5.6" fill="#5f8b8e"/>
</g>
<g transform="translate(455,459) rotate(-20.00)">
<ellipse cx="76.6" cy="0" rx="5.1" ry="7.8" fill="#ed7560"/>
<rect x="0" y="-7.8" width="76.6" height="15.5" fill="#ef7761"/>
<rect x="0" y="6.0" width="76.6" height="1.8" fill="#e06a57"/>
<rect x="0" y="-6.2" width="76.6" height="4.6" fill="#f2806b"/>
<ellipse cx="0" cy="0" rx="5.1" ry="7.8" fill="#956960"/>
<ellipse cx="0.4" cy="0" rx="3.7" ry="5.6" fill="#5f8b8e"/>
</g>
<g transform="translate(481,466) rotate(-20.61)">
<ellipse cx="75.9" cy="0" rx="5.1" ry="7.8" fill="#ed7560"/>
<rect x="0" y="-7.8" width="75.9" height="15.5" fill="#ef7761"/>
<rect x="0" y="6.0" width="75.9" height="1.8" fill="#e06a57"/>
<rect x="0" y="-6.2" width="75.9" height="4.6" fill="#f2806b"/>
<ellipse cx="0" cy="0" rx="5.1" ry="7.8" fill="#956960"/>
<ellipse cx="0.4" cy="0" rx="3.7" ry="5.6" fill="#5f8b8e"/>
</g>
<g transform="translate(507.6,473.5) rotate(-20.57)">
<ellipse cx="76.3" cy="0" rx="5.1" ry="7.8" fill="#ed7560"/>
<rect x="0" y="-7.8" width="76.3" height="15.5" fill="#ef7761"/>
<rect x="0" y="6.0" width="76.3" height="1.8" fill="#e06a57"/>
<rect x="0" y="-6.2" width="76.3" height="4.6" fill="#f2806b"/>
<ellipse cx="0" cy="0" rx="5.1" ry="7.8" fill="#956960"/>
<ellipse cx="0.4" cy="0" rx="3.7" ry="5.6" fill="#5f8b8e"/>
</g>
<ellipse cx="889" cy="458" rx="126" ry="122" fill="#f1c41d"/>
<line x1="886" y1="446" x2="860" y2="505" stroke="#f0961c" stroke-width="17" stroke-linecap="butt"/>
<circle cx="886" cy="446" r="8.5" fill="#f0961c"/>
<ellipse cx="860" cy="505" rx="8.1" ry="8.5" fill="#f0961c" transform="rotate(113.8 860 505)"/>
<ellipse cx="860" cy="505" rx="6.5" ry="6.5" fill="#7c9b3a" transform="rotate(113.8 860 505)"/>
<line x1="794" y1="437" x2="890" y2="437" stroke="#f0961c" stroke-width="17" stroke-linecap="butt"/>
<circle cx="794" cy="437" r="8.5" fill="#f0961c"/>
<ellipse cx="890" cy="437" rx="3.0" ry="8.5" fill="#f0961c" transform="rotate(0.0 890 437)"/>
<ellipse cx="890" cy="437" rx="2.5" ry="7.5" fill="#7c9b3a" transform="rotate(0.0 890 437)"/>
<line x1="935" y1="441" x2="893" y2="411" stroke="#f0961c" stroke-width="16" stroke-linecap="butt"/>
<circle cx="935" cy="441" r="8.0" fill="#f0961c"/>
<ellipse cx="893" cy="411" rx="8.4" ry="8.0" fill="#f0961c" transform="rotate(-144.5 893 411)"/>
<ellipse cx="893" cy="411" rx="6.8" ry="6.8" fill="#7c9b3a" transform="rotate(-144.5 893 411)"/>
<line x1="970" y1="425" x2="920" y2="488" stroke="#f0961c" stroke-width="17" stroke-linecap="butt"/>
<circle cx="970" cy="425" r="8.5" fill="#f0961c"/>
<ellipse cx="920" cy="488" rx="5.6" ry="8.5" fill="#f0961c" transform="rotate(128.4 920 488)"/>
<ellipse cx="920" cy="488" rx="4" ry="6.5" fill="#7c9b3a" transform="rotate(128.4 920 488)"/>
<line x1="898" y1="505" x2="931" y2="505" stroke="#f0961c" stroke-width="17" stroke-linecap="butt"/>
<circle cx="898" cy="505" r="8.5" fill="#f0961c"/>
<ellipse cx="931" cy="505" rx="8.6" ry="8.5" fill="#f0961c" transform="rotate(0.0 931 505)"/>
<ellipse cx="931" cy="505" rx="7" ry="7.5" fill="#7c9b3a" transform="rotate(0.0 931 505)"/>
<text x="36" y="51" font-size="19" fill="#3a3a3a">有机改性剂</text>
<text x="30" y="194" font-size="19" fill="#3a3a3a">层状黏土</text>
<text x="21" y="214" font-size="19" fill="#3a3a3a">如：蒙脱石</text>
<text x="277" y="238" font-size="19" fill="#3a3a3a">层间距增大</text>
<text x="427" y="110" font-size="19" fill="#3a3a3a">低温</text>
<text x="399" y="149" font-size="19" fill="#3a3a3a">油基钻井液</text>
<text x="560" y="249" font-size="19" fill="#3a3a3a">膨胀</text>
<text x="724" y="111" font-size="19" fill="#3a3a3a">高温</text>
<text x="697" y="150" font-size="19" fill="#3a3a3a">油基钻井液</text>
<text x="853" y="273.5" font-size="19" fill="#3a3a3a">“剥离型”卡房式结构</text>
<text x="362" y="305" font-size="19" fill="#3a3a3a">(a) 层状结构有机黏土流型调节剂作用机理</text>
<text x="55" y="546" font-size="19" fill="#3a3a3a">链层状黏土</text>
<text x="18" y="570" font-size="19" fill="#3a3a3a">如：坡缕石、海泡石</text>
<text x="263" y="438" font-size="19" fill="#3a3a3a">有机改性剂</text>
<text x="408" y="574" font-size="19" fill="#3a3a3a">有机改性链层状黏土</text>
<text x="612" y="440" font-size="19" fill="#3a3a3a">油基钻井液</text>
<text x="815" y="609" font-size="19" fill="#3a3a3a">在油中形成网络结构</text>
<text x="352" y="632" font-size="19" fill="#3a3a3a">(b) 链层状结构有机黏土流型调节剂作用机理</text></svg></body></html>
